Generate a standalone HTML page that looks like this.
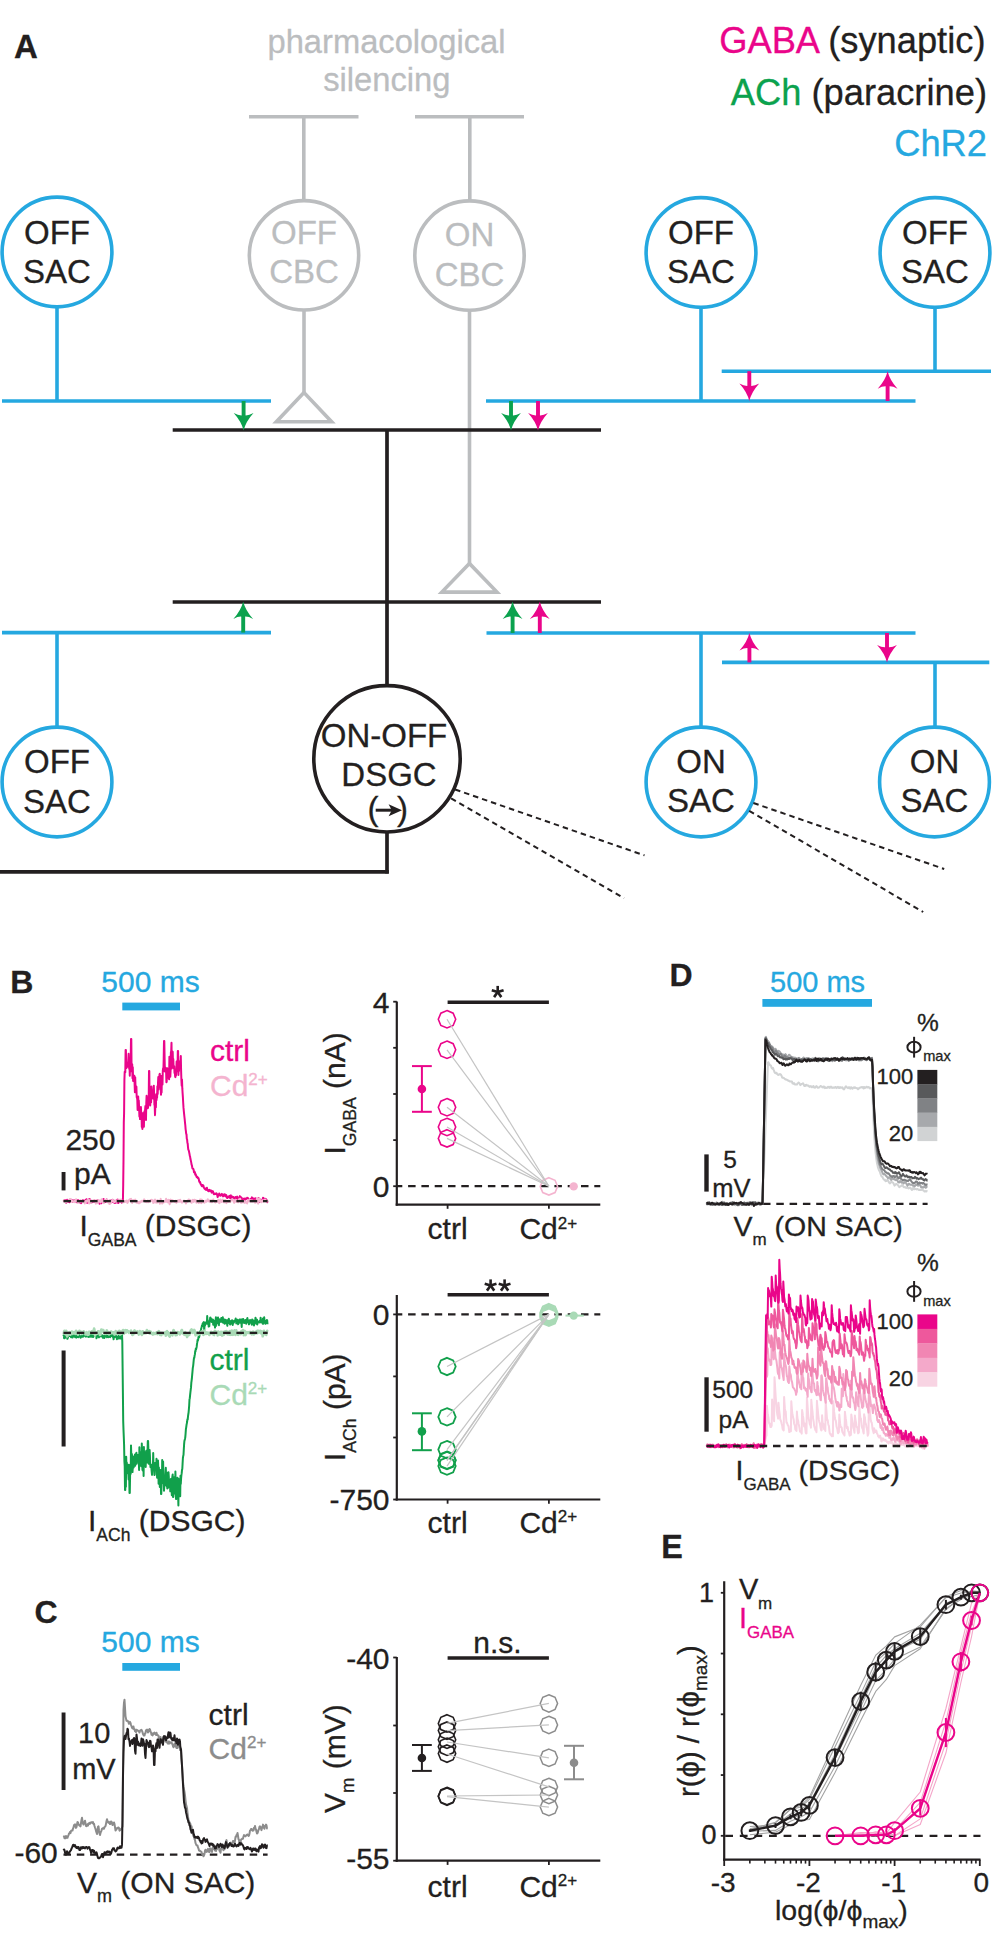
<!DOCTYPE html>
<html><head><meta charset="utf-8"><style>
html,body{margin:0;padding:0;background:#fff;}
svg{display:block;}
text{font-family:"Liberation Sans",sans-serif;}
</style></head><body>
<svg width="992" height="1944" viewBox="0 0 992 1944" font-family="Liberation Sans, sans-serif">
<rect width="992" height="1944" fill="#fff"/>
<text x="14" y="58" font-size="33" fill="#231f20" text-anchor="start" font-weight="bold"  stroke="#231f20" stroke-width="0.3">A</text>
<text x="386.5" y="53" font-size="32.7" fill="#bbbdbf" text-anchor="middle" font-weight="normal"  stroke="#bbbdbf" stroke-width="0.3">pharmacological</text>
<text x="386.8" y="91" font-size="32.7" fill="#bbbdbf" text-anchor="middle" font-weight="normal"  stroke="#bbbdbf" stroke-width="0.3">silencing</text>
<text x="985.5" y="52.5" font-size="36.3" text-anchor="end"><tspan fill="#ea058a" stroke="#ea058a" stroke-width="0.3">GABA</tspan><tspan fill="#231f20" stroke="#231f20" stroke-width="0.3"> (synaptic)</tspan></text>
<text x="987" y="104.5" font-size="36.3" text-anchor="end"><tspan fill="#0ba24e" stroke="#0ba24e" stroke-width="0.3">ACh</tspan><tspan fill="#231f20" stroke="#231f20" stroke-width="0.3"> (paracrine)</tspan></text>
<text x="987" y="155.5" font-size="36.3" fill="#25a8e0" text-anchor="end" font-weight="normal"  stroke="#25a8e0" stroke-width="0.3">ChR2</text>
<line x1="249" y1="116.8" x2="358.5" y2="116.8" stroke="#bbbdbf" stroke-width="3.6" />
<line x1="415" y1="116.8" x2="524" y2="116.8" stroke="#bbbdbf" stroke-width="3.6" />
<line x1="303.8" y1="116.8" x2="303.8" y2="200" stroke="#bbbdbf" stroke-width="3.6" />
<line x1="469.8" y1="116.8" x2="469.8" y2="200" stroke="#bbbdbf" stroke-width="3.6" />
<line x1="304" y1="311" x2="304" y2="393" stroke="#bbbdbf" stroke-width="3.6" />
<polygon points="304,392.6 276.4,421.7 331.6,421.7" fill="none" stroke="#bbbdbf" stroke-width="3.6" stroke-linejoin="miter"/>
<line x1="469.5" y1="311" x2="469.5" y2="564" stroke="#bbbdbf" stroke-width="3.6" />
<polygon points="469.4,563.4 441.8,592.1 497,592.1" fill="none" stroke="#bbbdbf" stroke-width="3.6" stroke-linejoin="miter"/>
<circle cx="304" cy="255.3" r="54.7" stroke="#bbbdbf" stroke-width="3.6" fill="#fff"/>
<text x="304" y="243.5" font-size="33" fill="#bbbdbf" text-anchor="middle" font-weight="normal"  stroke="#bbbdbf" stroke-width="0.3">OFF</text>
<text x="304" y="282.5" font-size="33" fill="#bbbdbf" text-anchor="middle" font-weight="normal"  stroke="#bbbdbf" stroke-width="0.3">CBC</text>
<circle cx="469.5" cy="255.6" r="54.7" stroke="#bbbdbf" stroke-width="3.6" fill="#fff"/>
<text x="469.5" y="246" font-size="33" fill="#bbbdbf" text-anchor="middle" font-weight="normal"  stroke="#bbbdbf" stroke-width="0.3">ON</text>
<text x="469.5" y="285.5" font-size="33" fill="#bbbdbf" text-anchor="middle" font-weight="normal"  stroke="#bbbdbf" stroke-width="0.3">CBC</text>
<line x1="57" y1="308" x2="57" y2="401" stroke="#25a8e0" stroke-width="3.6" />
<line x1="2" y1="401" x2="271" y2="401" stroke="#25a8e0" stroke-width="3.6" />
<line x1="701" y1="308" x2="701" y2="401" stroke="#25a8e0" stroke-width="3.6" />
<line x1="486" y1="401" x2="915.5" y2="401" stroke="#25a8e0" stroke-width="3.6" />
<line x1="935" y1="308" x2="935" y2="371.2" stroke="#25a8e0" stroke-width="3.6" />
<line x1="721.7" y1="371.2" x2="991" y2="371.2" stroke="#25a8e0" stroke-width="3.6" />
<circle cx="57" cy="252" r="54.9" stroke="#25a8e0" stroke-width="3.6" fill="#fff"/>
<text x="57" y="243.5" font-size="33" fill="#231f20" text-anchor="middle" font-weight="normal"  stroke="#231f20" stroke-width="0.3">OFF</text>
<text x="57" y="282.7" font-size="33" fill="#231f20" text-anchor="middle" font-weight="normal"  stroke="#231f20" stroke-width="0.3">SAC</text>
<circle cx="701" cy="252.5" r="54.9" stroke="#25a8e0" stroke-width="3.6" fill="#fff"/>
<text x="701" y="243.5" font-size="33" fill="#231f20" text-anchor="middle" font-weight="normal"  stroke="#231f20" stroke-width="0.3">OFF</text>
<text x="701" y="282.7" font-size="33" fill="#231f20" text-anchor="middle" font-weight="normal"  stroke="#231f20" stroke-width="0.3">SAC</text>
<circle cx="935" cy="252.5" r="54.9" stroke="#25a8e0" stroke-width="3.6" fill="#fff"/>
<text x="935" y="243.5" font-size="33" fill="#231f20" text-anchor="middle" font-weight="normal"  stroke="#231f20" stroke-width="0.3">OFF</text>
<text x="935" y="282.7" font-size="33" fill="#231f20" text-anchor="middle" font-weight="normal"  stroke="#231f20" stroke-width="0.3">SAC</text>
<line x1="172.7" y1="430" x2="601" y2="430" stroke="#231f20" stroke-width="3.7" />
<line x1="172.7" y1="602" x2="601" y2="602" stroke="#231f20" stroke-width="3.7" />
<line x1="387" y1="430" x2="387" y2="690" stroke="#231f20" stroke-width="3.7" />
<line x1="387" y1="830" x2="387" y2="873.5" stroke="#231f20" stroke-width="3.7" />
<line x1="0" y1="871.8" x2="388.8" y2="871.8" stroke="#231f20" stroke-width="3.7" />
<line x1="2" y1="632.6" x2="271" y2="632.6" stroke="#25a8e0" stroke-width="3.6" />
<line x1="57" y1="632.6" x2="57" y2="728" stroke="#25a8e0" stroke-width="3.6" />
<line x1="486.5" y1="633" x2="915.5" y2="633" stroke="#25a8e0" stroke-width="3.6" />
<line x1="701" y1="633" x2="701" y2="728" stroke="#25a8e0" stroke-width="3.6" />
<line x1="722" y1="662.4" x2="989.3" y2="662.4" stroke="#25a8e0" stroke-width="3.6" />
<line x1="935" y1="662.4" x2="935" y2="728" stroke="#25a8e0" stroke-width="3.6" />
<circle cx="57" cy="782" r="54.9" stroke="#25a8e0" stroke-width="3.6" fill="#fff"/>
<text x="57" y="773.3" font-size="33" fill="#231f20" text-anchor="middle" font-weight="normal"  stroke="#231f20" stroke-width="0.3">OFF</text>
<text x="57" y="812.8" font-size="33" fill="#231f20" text-anchor="middle" font-weight="normal"  stroke="#231f20" stroke-width="0.3">SAC</text>
<circle cx="701" cy="782" r="54.9" stroke="#25a8e0" stroke-width="3.6" fill="#fff"/>
<text x="701" y="773.3" font-size="33" fill="#231f20" text-anchor="middle" font-weight="normal"  stroke="#231f20" stroke-width="0.3">ON</text>
<text x="701" y="812" font-size="33" fill="#231f20" text-anchor="middle" font-weight="normal"  stroke="#231f20" stroke-width="0.3">SAC</text>
<circle cx="934.5" cy="782" r="54.9" stroke="#25a8e0" stroke-width="3.6" fill="#fff"/>
<text x="934.5" y="773.3" font-size="33" fill="#231f20" text-anchor="middle" font-weight="normal"  stroke="#231f20" stroke-width="0.3">ON</text>
<text x="934.5" y="812" font-size="33" fill="#231f20" text-anchor="middle" font-weight="normal"  stroke="#231f20" stroke-width="0.3">SAC</text>
<circle cx="387" cy="758.8" r="73.2" stroke="#231f20" stroke-width="3.6" fill="#fff"/>
<text x="384" y="746.6" font-size="33" fill="#231f20" text-anchor="middle" font-weight="normal"  stroke="#231f20" stroke-width="0.3">ON-OFF</text>
<text x="389" y="786" font-size="33" fill="#231f20" text-anchor="middle" font-weight="normal"  stroke="#231f20" stroke-width="0.3">DSGC</text>
<text x="367.6" y="820" font-size="33" fill="#231f20" text-anchor="start" font-weight="normal"  stroke="#231f20" stroke-width="0.3">(</text>
<text x="397" y="820" font-size="33" fill="#231f20" text-anchor="start" font-weight="normal"  stroke="#231f20" stroke-width="0.3">)</text>
<path d="M375.7,810.2 L392,810.2" stroke="#231f20" stroke-width="3"/>
<path d="M402,810.2 L388.6,804.3 L391.8,810.2 L388.6,816.3 Z" fill="#231f20"/>
<line x1="243.6" y1="401" x2="243.6" y2="422.5" stroke="#0ba24e" stroke-width="3.9" />
<path d="M243.6,430.5 Q241.4,421.5 233.7,413 Q239.6,416.3 243.6,415.1 Q247.6,416.3 253.5,413 Q245.8,421.5 243.6,430.5 Z" fill="#0ba24e"/>
<line x1="511" y1="401" x2="511" y2="422.5" stroke="#0ba24e" stroke-width="3.9" />
<path d="M511,430.5 Q508.8,421.5 501.1,413 Q507,416.3 511,415.1 Q515,416.3 520.9,413 Q513.2,421.5 511,430.5 Z" fill="#0ba24e"/>
<line x1="538" y1="401" x2="538" y2="422.5" stroke="#ea058a" stroke-width="3.9" />
<path d="M538,430.5 Q535.8,421.5 528.1,413 Q534,416.3 538,415.1 Q542,416.3 547.9,413 Q540.2,421.5 538,430.5 Z" fill="#ea058a"/>
<line x1="243.2" y1="632.6" x2="243.2" y2="609.5" stroke="#0ba24e" stroke-width="3.9" />
<path d="M243.2,601.5 Q241,610.5 233.3,619 Q239.2,615.7 243.2,616.9 Q247.2,615.7 253.1,619 Q245.4,610.5 243.2,601.5 Z" fill="#0ba24e"/>
<line x1="512.6" y1="633" x2="512.6" y2="609.5" stroke="#0ba24e" stroke-width="3.9" />
<path d="M512.6,601.5 Q510.4,610.5 502.7,619 Q508.6,615.7 512.6,616.9 Q516.6,615.7 522.5,619 Q514.8,610.5 512.6,601.5 Z" fill="#0ba24e"/>
<line x1="539.8" y1="633" x2="539.8" y2="609.5" stroke="#ea058a" stroke-width="3.9" />
<path d="M539.8,601.5 Q537.6,610.5 529.9,619 Q535.8,615.7 539.8,616.9 Q543.8,615.7 549.7,619 Q542,610.5 539.8,601.5 Z" fill="#ea058a"/>
<line x1="749.3" y1="371.2" x2="749.3" y2="393" stroke="#ea058a" stroke-width="3.9" />
<path d="M749.3,401 Q747.1,392 739.4,383.5 Q745.3,386.8 749.3,385.6 Q753.3,386.8 759.2,383.5 Q751.5,392 749.3,401 Z" fill="#ea058a"/>
<line x1="887.6" y1="401" x2="887.6" y2="379.2" stroke="#ea058a" stroke-width="3.9" />
<path d="M887.6,371.2 Q885.4,380.2 877.7,388.7 Q883.6,385.4 887.6,386.6 Q891.6,385.4 897.5,388.7 Q889.8,380.2 887.6,371.2 Z" fill="#ea058a"/>
<line x1="749.4" y1="662.4" x2="749.4" y2="641" stroke="#ea058a" stroke-width="3.9" />
<path d="M749.4,633 Q747.2,642 739.5,650.5 Q745.4,647.2 749.4,648.4 Q753.4,647.2 759.3,650.5 Q751.6,642 749.4,633 Z" fill="#ea058a"/>
<line x1="887" y1="633" x2="887" y2="654.4" stroke="#ea058a" stroke-width="3.9" />
<path d="M887,662.4 Q884.8,653.4 877.1,644.9 Q883,648.2 887,647 Q891,648.2 896.9,644.9 Q889.2,653.4 887,662.4 Z" fill="#ea058a"/>
<line x1="455.1" y1="789.5" x2="644.5" y2="855.4" stroke="#231f20" stroke-width="2" stroke-dasharray="5.5 4" stroke-dashoffset="0"/>
<line x1="451.1" y1="798.4" x2="624.1" y2="898.2" stroke="#231f20" stroke-width="2" stroke-dasharray="5.5 4" stroke-dashoffset="0"/>
<line x1="753.4" y1="803" x2="944.2" y2="869" stroke="#231f20" stroke-width="2" stroke-dasharray="5.5 4" stroke-dashoffset="0"/>
<line x1="749.2" y1="810.8" x2="923.2" y2="912" stroke="#231f20" stroke-width="2" stroke-dasharray="5.5 4" stroke-dashoffset="0"/>
<text x="10.2" y="993.3" font-size="32" fill="#231f20" text-anchor="start" font-weight="bold"  stroke="#231f20" stroke-width="0.3">B</text>
<text x="101.3" y="992" font-size="30" fill="#25a8e0" text-anchor="start" font-weight="normal"  stroke="#25a8e0" stroke-width="0.3">500 ms</text>
<rect x="122.3" y="1002.6" width="57.7" height="7.8" fill="#25a8e0"/>
<polyline points="63.5,1201.51 63.8,1201.27 64.1,1200.53 64.4,1201.34 64.7,1201.05 65,1200.04 65.3,1200.37 65.6,1201.48 65.9,1202.12 66.2,1202.8 66.5,1200.88 66.8,1202.03 67.1,1199.71 67.4,1201.93 67.7,1200.22 68,1202.04 68.3,1200.79 68.6,1200.66 68.9,1200.74 69.2,1201.32 69.5,1202.33 69.8,1200.82 70.1,1200.79 70.4,1199.89 70.7,1200.84 71,1199.88 71.3,1200.28 71.6,1199.8 71.9,1200.84 72.2,1200.27 72.5,1201.46 72.8,1201.88 73.1,1201.91 73.4,1200.98 73.7,1200.75 74,1200.17 74.3,1201.18 74.6,1201.57 74.9,1201.66 75.2,1201.9 75.5,1200.43 75.8,1200 76.1,1200.93 76.4,1200.7 76.7,1202.27 77,1202.16 77.3,1201.58 77.6,1200.08 77.9,1200.67 78.2,1201.08 78.5,1200.41 78.8,1201.61 79.1,1201.45 79.4,1201.31 79.7,1201.68 80,1202.56 80.3,1202.04 80.6,1202.55 80.9,1202.93 81.2,1203.2 81.5,1201.85 81.8,1201.42 82.1,1201.18 82.4,1200.99 82.7,1200.17 83,1200.38 83.3,1201.4 83.6,1201.74 83.9,1200.77 84.2,1200.5 84.5,1201.2 84.8,1202.29 85.1,1201.13 85.4,1201.53 85.7,1200.54 86,1199.55 86.3,1199.4 86.6,1199.29 86.9,1200.49 87.2,1202.76 87.5,1202.54 87.8,1202.67 88.1,1201.21 88.4,1201.71 88.7,1200.58 89,1198.89 89.3,1199.11 89.6,1199.84 89.9,1200.59 90.2,1199.57 90.5,1202.04 90.8,1201.3 91.1,1201.8 91.4,1202.01 91.7,1202.41 92,1201.23 92.3,1201.87 92.6,1201.12 92.9,1201.21 93.2,1201.86 93.5,1201.13 93.8,1201.77 94.1,1201.58 94.4,1201.2 94.7,1200.37 95,1201.33 95.3,1201.24 95.6,1202.46 95.9,1201.59 96.2,1201.43 96.5,1201.62 96.8,1202.66 97.1,1201.51 97.4,1201.64 97.7,1200.25 98,1200.87 98.3,1201.71 98.6,1201.76 98.9,1201.87 99.2,1201.66 99.5,1203.69 99.8,1203.66 100.1,1202.1 100.4,1201.3 100.7,1202.99 101,1202.33 101.3,1203.28 101.6,1201.46 101.9,1201.68 102.2,1202.18 102.5,1201.12 102.8,1200.86 103.1,1201.39 103.4,1199 103.7,1199.17 104,1199.85 104.3,1201.48 104.6,1202.2 104.9,1201.84 105.2,1202.01 105.5,1201.78 105.8,1201.4 106.1,1200.5 106.4,1201.02 106.7,1199.6 107,1200.69 107.3,1201.67 107.6,1201.45 107.9,1201.02 108.2,1201.05 108.5,1201.67 108.8,1201.16 109.1,1201.39 109.4,1201.72 109.7,1201.46 110,1200.44 110.3,1200.67 110.6,1201.2 110.9,1200.68 111.2,1201.53 111.5,1202.28 111.8,1201.68 112.1,1200.3 112.4,1199.78 112.7,1200.55 113,1201.92 113.3,1201.04 113.6,1200.46 113.9,1201.38 114.2,1202.34 114.5,1202.91 114.8,1202.58 115.1,1202.92 115.4,1202.85 115.7,1201.27 116,1201.39 116.3,1200.71 116.6,1200.39 116.9,1200.74 117.2,1202.56 117.5,1199.66 117.8,1199.46 118.1,1200.75 118.4,1203.1 118.7,1201.43 119,1201.28 119.3,1200.41 119.6,1200.81 119.9,1201.28 120.2,1201.47 120.5,1200.46 120.8,1200.75 121.1,1201.51 121.4,1201.9 121.7,1202.69 122,1202.15 122.3,1200.67 122.6,1201.68 122.9,1201.78 123.2,1184.82 123.5,1159.9 123.8,1122.65 124.1,1112.95 124.4,1080.37 124.7,1071.87 125,1072.29 125.3,1072.28 125.6,1050 125.9,1050 126.2,1064.31 126.5,1068 126.8,1066.58 127.1,1066.61 127.4,1063.38 127.7,1066.74 128,1064.49 128.3,1060.78 128.6,1053.79 128.9,1061.9 129.2,1068.88 129.5,1066.17 129.8,1075.77 130.1,1063.37 130.4,1058.44 130.7,1060.76 131,1039 131.3,1039 131.6,1071.25 131.9,1065.21 132.2,1064.2 132.5,1078.3 132.8,1067.37 133.1,1080.95 133.4,1079.99 133.7,1080.94 134,1076.93 134.3,1075.74 134.6,1083.56 134.9,1092.33 135.2,1077.27 135.5,1086.09 135.8,1085.73 136.1,1088.89 136.4,1086.63 136.7,1097.22 137,1097.55 137.3,1099.87 137.6,1109.95 137.9,1103.51 138.2,1096.54 138.5,1106.47 138.8,1100.61 139.1,1107.82 139.4,1116.54 139.7,1111.24 140,1119.1 140.3,1118.96 140.6,1110.59 140.9,1106.91 141.2,1114.85 141.5,1112.44 141.8,1127 142.1,1125.4 142.4,1128.96 142.7,1124.62 143,1113.36 143.3,1121.77 143.6,1123.61 143.9,1126.85 144.2,1112.89 144.5,1111.27 144.8,1114.5 145.1,1109.8 145.4,1106.03 145.7,1106.75 146,1119.97 146.3,1102.73 146.6,1095.87 146.9,1098.54 147.2,1102.88 147.5,1102.54 147.8,1108.35 148.1,1107.07 148.4,1098.33 148.7,1100.4 149,1071 149.3,1071 149.6,1103.85 149.9,1090.06 150.2,1105.38 150.5,1100.81 150.8,1099.93 151.1,1102.2 151.4,1086.6 151.7,1091.4 152,1091.64 152.3,1091.44 152.6,1092.98 152.9,1098.51 153.2,1093.93 153.5,1092 153.8,1085.64 154.1,1094.12 154.4,1104.76 154.7,1105.74 155,1115.15 155.3,1107.12 155.6,1101.99 155.9,1107.2 156.2,1094.28 156.5,1100.14 156.8,1097.92 157.1,1097.46 157.4,1086.23 157.7,1093.88 158,1083.15 158.3,1077.01 158.6,1089.45 158.9,1081.4 159.2,1080.01 159.5,1074.37 159.8,1073.82 160.1,1080.54 160.4,1079.28 160.7,1088.03 161,1094.79 161.3,1076.1 161.6,1092.41 161.9,1078.09 162.2,1079.72 162.5,1084.53 162.8,1070.52 163.1,1068.27 163.4,1070.92 163.7,1058.83 164,1041 164.3,1041 164.6,1057.97 164.9,1071.57 165.2,1068.1 165.5,1067.53 165.8,1069.11 166.1,1071.09 166.4,1082.33 166.7,1081.36 167,1073.46 167.3,1068.2 167.6,1073.64 167.9,1075.12 168.2,1075.51 168.5,1077.79 168.8,1077.81 169.1,1079.16 169.4,1056.64 169.7,1073.15 170,1071.55 170.3,1076.75 170.6,1070.38 170.9,1052 171.2,1052 171.5,1042.84 171.8,1068.45 172.1,1060.4 172.4,1056.15 172.7,1051.67 173,1062.83 173.3,1059.11 173.6,1067.18 173.9,1068.53 174.2,1066.3 174.5,1072.99 174.8,1070.9 175.1,1076.22 175.4,1077.15 175.7,1072.81 176,1075.38 176.3,1070.22 176.6,1061.49 176.9,1065.89 177.2,1070.45 177.5,1071.22 177.8,1051 178.1,1051 178.4,1075.08 178.7,1068 179,1071.2 179.3,1061.4 179.6,1062.6 179.9,1068.03 180.2,1067.59 180.5,1063.95 180.8,1056.06 181.1,1070.49 181.4,1080.27 181.7,1085.63 182,1079.53 182.3,1088.17 182.6,1093.07 182.9,1097.36 183.2,1103 183.5,1107.64 183.8,1110.8 184.1,1113.81 184.4,1116.77 184.7,1119.48 185,1122.59 185.3,1125.26 185.6,1129.05 185.9,1131.13 186.2,1133.96 186.5,1134.42 186.8,1138.87 187.1,1139.39 187.4,1142.77 187.7,1143.56 188,1147.24 188.3,1149.75 188.6,1149.98 188.9,1150.95 189.2,1152.48 189.5,1154.03 189.8,1155.89 190.1,1156.63 190.4,1158.91 190.7,1159.9 191,1161.34 191.3,1162.84 191.6,1164.72 191.9,1165.28 192.2,1167.2 192.5,1168.57 192.8,1168.41 193.1,1168.74 193.4,1169.1 193.7,1170.27 194,1172.28 194.3,1171.4 194.6,1171.82 194.9,1172.19 195.2,1174.61 195.5,1174.03 195.8,1174.35 196.1,1175.82 196.4,1176.14 196.7,1177.1 197,1176.62 197.3,1176.7 197.6,1177.4 197.9,1178.29 198.2,1177.77 198.5,1178.45 198.8,1179.13 199.1,1181.22 199.4,1181.39 199.7,1182.52 200,1181.85 200.3,1182.76 200.6,1183.93 200.9,1184.19 201.2,1184.98 201.5,1185.31 201.8,1185.96 202.1,1186.28 202.4,1184.92 202.7,1185.53 203,1186.2 203.3,1185.37 203.6,1186.53 203.9,1187.73 204.2,1187.95 204.5,1188.67 204.8,1188.24 205.1,1189.3 205.4,1188.43 205.7,1189.47 206,1189.88 206.3,1189.25 206.6,1189.01 206.9,1187.71 207.2,1188.91 207.5,1190.02 207.8,1190.58 208.1,1190.18 208.4,1191.21 208.7,1190.4 209,1190.29 209.3,1189.82 209.6,1190.45 209.9,1190.71 210.2,1191.26 210.5,1190.63 210.8,1190.37 211.1,1191.22 211.4,1190.7 211.7,1192.62 212,1192.04 212.3,1192.53 212.6,1191.23 212.9,1191.29 213.2,1192.27 213.5,1192.66 213.8,1194.08 214.1,1194.22 214.4,1194.13 214.7,1193.92 215,1193.68 215.3,1193.8 215.6,1193.94 215.9,1193.9 216.2,1193.33 216.5,1193.32 216.8,1193.64 217.1,1194.57 217.4,1195.95 217.7,1197.14 218,1195.78 218.3,1195.61 218.6,1194.73 218.9,1194.5 219.2,1193.4 219.5,1194.65 219.8,1195.35 220.1,1194.95 220.4,1195.74 220.7,1195.57 221,1194.58 221.3,1195.31 221.6,1194.26 221.9,1193.92 222.2,1195.29 222.5,1195.54 222.8,1195.48 223.1,1196.41 223.4,1194.63 223.7,1195.45 224,1194.97 224.3,1195.46 224.6,1194.15 224.9,1194.31 225.2,1196.14 225.5,1195.98 225.8,1194.95 226.1,1194.93 226.4,1195.29 226.7,1197.4 227,1197.26 227.3,1198.06 227.6,1197.31 227.9,1196.68 228.2,1196.84 228.5,1197.31 228.8,1196.49 229.1,1196.77 229.4,1195.9 229.7,1197.02 230,1198.06 230.3,1196.67 230.6,1195.95 230.9,1195.29 231.2,1199.05 231.5,1199.12 231.8,1198.13 232.1,1196.75 232.4,1196.61 232.7,1197.36 233,1198.29 233.3,1197.25 233.6,1197.01 233.9,1197.57 234.2,1197.81 234.5,1198.37 234.8,1198.7 235.1,1198.27 235.4,1198.77 235.7,1197 236,1198.48 236.3,1197.84 236.6,1198.26 236.9,1197.37 237.2,1196.64 237.5,1196.98 237.8,1199 238.1,1198.94 238.4,1199.79 238.7,1199.21 239,1199.04 239.3,1198.5 239.6,1198.15 239.9,1196.13 240.2,1196.81 240.5,1197.37 240.8,1198.18 241.1,1198.17 241.4,1197.47 241.7,1197.89 242,1199.52 242.3,1199.73 242.6,1200.34 242.9,1199.9 243.2,1199.31 243.5,1199.65 243.8,1199.58 244.1,1198.46 244.4,1198.9 244.7,1198.82 245,1199.76 245.3,1198.44 245.6,1199.01 245.9,1198.73 246.2,1198.62 246.5,1199 246.8,1198.82 247.1,1197.82 247.4,1198.99 247.7,1198.68 248,1198.11 248.3,1199.11 248.6,1200.63 248.9,1199.93 249.2,1199.49 249.5,1200.05 249.8,1199.97 250.1,1199.63 250.4,1199.15 250.7,1199.39 251,1200.32 251.3,1199.57 251.6,1198.11 251.9,1197.39 252.2,1198.64 252.5,1197.82 252.8,1199.33 253.1,1198.66 253.4,1200.11 253.7,1199.85 254,1198.4 254.3,1198.82 254.6,1199.45 254.9,1199.01 255.2,1199.27 255.5,1198.35 255.8,1198.4 256.1,1200.27 256.4,1200.51 256.7,1199.13 257,1199.86 257.3,1199.49 257.6,1200.51 257.9,1201.1 258.2,1199.16 258.5,1197.92 258.8,1199.16 259.1,1199.12 259.4,1201.91 259.7,1201.8 260,1200.71 260.3,1200.59 260.6,1199.82 260.9,1199.57 261.2,1200.93 261.5,1200.45 261.8,1200.61 262.1,1201.05 262.4,1200.23 262.7,1200.94 263,1197.76 263.3,1198.01 263.6,1198.14 263.9,1198.44 264.2,1198.95 264.5,1199.48 264.8,1200.39 265.1,1199.98 265.4,1199.2 265.7,1198.73 266,1199.62 266.3,1199.44 266.6,1200 266.9,1200.97 267.2,1202.29 267.5,1200.57" fill="none" stroke="#ea058a" stroke-width="2" stroke-linejoin="round" />
<polyline points="63.5,1201.45 63.8,1200.38 64.1,1201.04 64.4,1201.19 64.7,1201.97 65,1200.49 65.3,1201.48 65.6,1200.97 65.9,1202.51 66.2,1201.47 66.5,1201.3 66.8,1201.17 67.1,1201.75 67.4,1201.86 67.7,1201.49 68,1201.4 68.3,1200.99 68.6,1200.16 68.9,1199.98 69.2,1200.11 69.5,1199.86 69.8,1199.12 70.1,1199.24 70.4,1199.69 70.7,1199.27 71,1199.58 71.3,1200.86 71.6,1201.63 71.9,1201.15 72.2,1200.84 72.5,1201.42 72.8,1201.69 73.1,1201.79 73.4,1201.99 73.7,1202.04 74,1201.21 74.3,1200.79 74.6,1201.07 74.9,1202.23 75.2,1201.24 75.5,1200.68 75.8,1199.5 76.1,1199.23 76.4,1199.71 76.7,1200.54 77,1201.15 77.3,1201.92 77.6,1202.1 77.9,1202.93 78.2,1202.33 78.5,1202.41 78.8,1201.22 79.1,1201.35 79.4,1201.13 79.7,1200.86 80,1200.7 80.3,1200.18 80.6,1201.74 80.9,1201.26 81.2,1201.4 81.5,1201.13 81.8,1200.86 82.1,1201.24 82.4,1200.97 82.7,1201.8 83,1201.12 83.3,1201.85 83.6,1201.91 83.9,1202.12 84.2,1201.85 84.5,1202.25 84.8,1203.45 85.1,1202.1 85.4,1201.87 85.7,1201.06 86,1201.97 86.3,1200.81 86.6,1201.3 86.9,1200.58 87.2,1201.54 87.5,1201.57 87.8,1201.36 88.1,1200.83 88.4,1199.24 88.7,1200.36 89,1201.47 89.3,1203.51 89.6,1202.27 89.9,1201 90.2,1200.19 90.5,1202.24 90.8,1202.85 91.1,1201.97 91.4,1201.18 91.7,1200.92 92,1201.25 92.3,1200.62 92.6,1200.86 92.9,1201.18 93.2,1201.57 93.5,1201.2 93.8,1200.22 94.1,1199.98 94.4,1200.86 94.7,1201.52 95,1200.94 95.3,1201.02 95.6,1201.46 95.9,1203.63 96.2,1202.85 96.5,1202.24 96.8,1200.07 97.1,1200.84 97.4,1202.69 97.7,1203.08 98,1201.87 98.3,1200.67 98.6,1200.66 98.9,1200.89 99.2,1200.31 99.5,1200.94 99.8,1201.77 100.1,1202 100.4,1202.44 100.7,1201.52 101,1201.7 101.3,1199.84 101.6,1199.21 101.9,1199.49 102.2,1200.44 102.5,1201.68 102.8,1201.52 103.1,1202.69 103.4,1202.83 103.7,1203.12 104,1202.25 104.3,1201.33 104.6,1200.26 104.9,1200.03 105.2,1199.77 105.5,1199.88 105.8,1200.12 106.1,1200.96 106.4,1201.09 106.7,1199.97 107,1199.77 107.3,1200.12 107.6,1201.96 107.9,1202.35 108.2,1201.82 108.5,1200.72 108.8,1201.59 109.1,1202.45 109.4,1204.01 109.7,1204.08 110,1203.12 110.3,1202.24 110.6,1201.22 110.9,1202.06 111.2,1202.15 111.5,1202 111.8,1201.76 112.1,1200.51 112.4,1200.29 112.7,1199.72 113,1200.72 113.3,1200.53 113.6,1201.37 113.9,1201.79 114.2,1202.27 114.5,1202.08 114.8,1201.64 115.1,1201.18 115.4,1200.88 115.7,1200.52 116,1201.03 116.3,1201.14 116.6,1201.8 116.9,1200.75 117.2,1201.29 117.5,1200.47 117.8,1200.83 118.1,1200.17 118.4,1200.29 118.7,1200.91 119,1200.68 119.3,1200.37 119.6,1199.68 119.9,1200.83 120.2,1201.51 120.5,1201.32 120.8,1200.52 121.1,1199.54 121.4,1201.35 121.7,1200.41 122,1201.65 122.3,1200.89 122.6,1200.94 122.9,1200.83 123.2,1201.11 123.5,1202.28 123.8,1202.25 124.1,1202.22 124.4,1202.04 124.7,1202.08 125,1201.43 125.3,1201.71 125.6,1200.93 125.9,1201.49 126.2,1200.8 126.5,1200.71 126.8,1200.45 127.1,1201.79 127.4,1203.04 127.7,1202.51 128,1201.9 128.3,1201.03 128.6,1201.27 128.9,1200.9 129.2,1199.76 129.5,1199.96 129.8,1199.27 130.1,1200.26 130.4,1199.25 130.7,1198.95 131,1198.8 131.3,1200.2 131.6,1202.15 131.9,1202.71 132.2,1202.87 132.5,1201.69 132.8,1200.54 133.1,1199.96 133.4,1200.4 133.7,1201.3 134,1201.39 134.3,1201.47 134.6,1201.21 134.9,1200.12 135.2,1199.64 135.5,1200.03 135.8,1200.72 136.1,1201.46 136.4,1202.64 136.7,1202.6 137,1202.43 137.3,1201.95 137.6,1202.64 137.9,1202.85 138.2,1202.04 138.5,1202.05 138.8,1202.65 139.1,1203.38 139.4,1202.55 139.7,1201.68 140,1201.96 140.3,1202.57 140.6,1201.85 140.9,1202.02 141.2,1201.04 141.5,1201.69 141.8,1200.73 142.1,1200.77 142.4,1201.21 142.7,1201.43 143,1201.44 143.3,1201.07 143.6,1200.59 143.9,1200.14 144.2,1199.35 144.5,1199.78 144.8,1201.33 145.1,1201.85 145.4,1201.72 145.7,1201.62 146,1201.39 146.3,1202.08 146.6,1201.88 146.9,1202.19 147.2,1201.8 147.5,1201.06 147.8,1200.45 148.1,1201.05 148.4,1201.91 148.7,1202.17 149,1201.44 149.3,1200.94 149.6,1201.28 149.9,1200.67 150.2,1201.13 150.5,1200 150.8,1201.22 151.1,1200.74 151.4,1200.73 151.7,1199.78 152,1199.87 152.3,1200.93 152.6,1200.37 152.9,1200.84 153.2,1202.96 153.5,1202.87 153.8,1202.84 154.1,1200.44 154.4,1201.33 154.7,1200.02 155,1199.51 155.3,1199.67 155.6,1200.75 155.9,1202.46 156.2,1201.74 156.5,1201.87 156.8,1202.66 157.1,1202.62 157.4,1201.96 157.7,1200.16 158,1200.6 158.3,1201.67 158.6,1201.77 158.9,1201.33 159.2,1200.95 159.5,1202.48 159.8,1203.72 160.1,1201.89 160.4,1200.19 160.7,1198.88 161,1200.96 161.3,1200.94 161.6,1202.65 161.9,1202.84 162.2,1203.49 162.5,1202.43 162.8,1201.83 163.1,1201.5 163.4,1202.17 163.7,1202.53 164,1202.1 164.3,1202.09 164.6,1201.88 164.9,1202.05 165.2,1200.79 165.5,1200.32 165.8,1199.98 166.1,1198.76 166.4,1199.73 166.7,1200.46 167,1202.04 167.3,1202.05 167.6,1201.98 167.9,1202.33 168.2,1200.18 168.5,1199.77 168.8,1199.87 169.1,1202.37 169.4,1203.63 169.7,1204.18 170,1202.49 170.3,1200.02 170.6,1199.5 170.9,1200.22 171.2,1202.15 171.5,1201.73 171.8,1201.85 172.1,1200.34 172.4,1200.69 172.7,1200.29 173,1201.42 173.3,1201.42 173.6,1201.62 173.9,1201.6 174.2,1201.31 174.5,1201.85 174.8,1201.96 175.1,1201.64 175.4,1200.81 175.7,1201.57 176,1201.84 176.3,1202.81 176.6,1201.98 176.9,1201.7 177.2,1200.64 177.5,1200.47 177.8,1200.97 178.1,1201.81 178.4,1200.96 178.7,1200.44 179,1200.01 179.3,1201.76 179.6,1200.68 179.9,1201 180.2,1199.7 180.5,1201.4 180.8,1200.83 181.1,1201.39 181.4,1202.08 181.7,1202.59 182,1202.64 182.3,1201.91 182.6,1201.23 182.9,1201.3 183.2,1200.95 183.5,1200.91 183.8,1200.55 184.1,1200.54 184.4,1201.5 184.7,1201.5 185,1201.31 185.3,1201.74 185.6,1202.37 185.9,1203.47 186.2,1202.95 186.5,1202.28 186.8,1201.25 187.1,1200.71 187.4,1201.35 187.7,1201.68 188,1200.94 188.3,1200.34 188.6,1199.41 188.9,1200.41 189.2,1199.7 189.5,1199.79 189.8,1199.77 190.1,1200.45 190.4,1200.21 190.7,1200.59 191,1201.96 191.3,1202.07 191.6,1202.73 191.9,1200.99 192.2,1201.59 192.5,1200.37 192.8,1199.91 193.1,1201 193.4,1201.41 193.7,1201.84 194,1200.87 194.3,1199.65 194.6,1199.89 194.9,1200.63 195.2,1200.51 195.5,1200.46 195.8,1199.98 196.1,1201.66 196.4,1202.75 196.7,1202.38 197,1201.29 197.3,1200.74 197.6,1200.8 197.9,1201.06 198.2,1201.45 198.5,1202.7 198.8,1203.05 199.1,1202.28 199.4,1201.59 199.7,1200.28 200,1200.39 200.3,1199.39 200.6,1202 200.9,1202.45 201.2,1203.19 201.5,1201.61 201.8,1199.63 202.1,1199.98 202.4,1201.09 202.7,1202.19 203,1202.17 203.3,1201.61 203.6,1201.11 203.9,1201.27 204.2,1201.65 204.5,1202.74 204.8,1202.13 205.1,1201.78 205.4,1200.7 205.7,1200.8 206,1200.96 206.3,1201.14 206.6,1201.69 206.9,1200.79 207.2,1200.28 207.5,1199.61 207.8,1199.27 208.1,1200.74 208.4,1200.09 208.7,1201.32 209,1200.67 209.3,1201.61 209.6,1200.6 209.9,1200.86 210.2,1201.37 210.5,1201.86 210.8,1201.82 211.1,1200.33 211.4,1200.9 211.7,1201.59 212,1202.16 212.3,1201.6 212.6,1200.52 212.9,1200.1 213.2,1199.45 213.5,1200.29 213.8,1201.09 214.1,1201.14 214.4,1201.38 214.7,1201.67 215,1202.24 215.3,1202.42 215.6,1201.76 215.9,1201.59 216.2,1201.24 216.5,1201.4 216.8,1201.95 217.1,1200.9 217.4,1201.79 217.7,1200.83 218,1201.49 218.3,1199.78 218.6,1200.62 218.9,1201.5 219.2,1203 219.5,1203.14 219.8,1201.41 220.1,1200.28 220.4,1199.49 220.7,1199.87 221,1201.03 221.3,1201.43 221.6,1201.98 221.9,1201.6 222.2,1200.9 222.5,1200.36 222.8,1199.53 223.1,1200.41 223.4,1201.17 223.7,1202.07 224,1202.42 224.3,1201.38 224.6,1200.69 224.9,1200.12 225.2,1200.12 225.5,1200.14 225.8,1200.67 226.1,1202.17 226.4,1203.15 226.7,1202.56 227,1201.75 227.3,1201.76 227.6,1201.5 227.9,1201.84 228.2,1201.99 228.5,1201.99 228.8,1201.41 229.1,1200.6 229.4,1201.19 229.7,1201.85 230,1201.96 230.3,1201.93 230.6,1200.66 230.9,1200.04 231.2,1199.8 231.5,1200.21 231.8,1199.91 232.1,1199.08 232.4,1199.08 232.7,1199.79 233,1199.91 233.3,1200.61 233.6,1201.75 233.9,1202.29 234.2,1202.92 234.5,1202.06 234.8,1201.47 235.1,1200.54 235.4,1199.76 235.7,1200.91 236,1200.37 236.3,1201.77 236.6,1201.66 236.9,1201.13 237.2,1200.8 237.5,1201.39 237.8,1202.14 238.1,1202.27 238.4,1200.22 238.7,1200.86 239,1199.24 239.3,1200.63 239.6,1199.39 239.9,1198.79 240.2,1198.74 240.5,1201.23 240.8,1202.48 241.1,1202.74 241.4,1201.41 241.7,1201.58 242,1201.45 242.3,1202.38 242.6,1201.82 242.9,1201.79 243.2,1201 243.5,1200.89 243.8,1201.53 244.1,1202.51 244.4,1202.79 244.7,1202.87 245,1201.71 245.3,1202.2 245.6,1202.05 245.9,1202.16 246.2,1202.45 246.5,1202.46 246.8,1203.11 247.1,1203.46 247.4,1201.68 247.7,1199.93 248,1200.07 248.3,1200.36 248.6,1201.41 248.9,1200.07 249.2,1200.52 249.5,1199.65 249.8,1201.3 250.1,1200.79 250.4,1201.5 250.7,1200.39 251,1201.75 251.3,1200.95 251.6,1201.05 251.9,1200.18 252.2,1201.38 252.5,1201.68 252.8,1201.53 253.1,1201.35 253.4,1200.83 253.7,1201.4 254,1201.19 254.3,1201.02 254.6,1200.72 254.9,1201 255.2,1202.79 255.5,1202.51 255.8,1202.47 256.1,1201.98 256.4,1201.01 256.7,1199.76 257,1198.14 257.3,1199.34 257.6,1201.89 257.9,1202.86 258.2,1203.67 258.5,1202.04 258.8,1200.3 259.1,1198.15 259.4,1198.9 259.7,1200.52 260,1201.14 260.3,1201.2 260.6,1200.15 260.9,1201.64 261.2,1201.84 261.5,1202.31 261.8,1200.94 262.1,1200.57 262.4,1200.37 262.7,1201.57 263,1200.33 263.3,1201.49 263.6,1201.02 263.9,1201.49 264.2,1200.45 264.5,1200.53 264.8,1199.64 265.1,1200.02 265.4,1199.63 265.7,1201.2 266,1200.61 266.3,1201.89 266.6,1201.29 266.9,1201.36 267.2,1201.16 267.5,1202.37" fill="none" stroke="#f4b4cf" stroke-width="2" stroke-linejoin="round" />
<line x1="63.5" y1="1201.2" x2="267.6" y2="1201.2" stroke="#231f20" stroke-width="2.2" stroke-dasharray="7.5 5.8" stroke-dashoffset="0"/>
<text x="210" y="1061" font-size="30" fill="#ea058a" text-anchor="start" font-weight="normal"  stroke="#ea058a" stroke-width="0.3">ctrl</text>
<text x="210" y="1096" font-size="30" fill="#f4b4cf" stroke="#f4b4cf" stroke-width="0.3">Cd<tspan font-size="17" dy="-10.8">2+</tspan></text>
<text x="115.5" y="1149.5" font-size="30" fill="#231f20" text-anchor="end" font-weight="normal"  stroke="#231f20" stroke-width="0.3">250</text>
<text x="74" y="1183.5" font-size="30" fill="#231f20" text-anchor="start" font-weight="normal"  stroke="#231f20" stroke-width="0.3">pA</text>
<rect x="61.6" y="1172" width="3.9" height="18.4" fill="#231f20"/>
<text x="79.5" y="1235.5" font-size="30" fill="#231f20" text-anchor="start" stroke="#231f20" stroke-width="0.3">I<tspan font-size="17.5" dy="10" fill="#231f20" stroke="#231f20" stroke-width="0.3">GABA</tspan><tspan dy="-10"> (DSGC)</tspan></text>
<polyline points="63.5,1336.12 63.8,1334.92 64.1,1338.19 64.4,1337.85 64.7,1338.12 65,1337.4 65.3,1337.66 65.6,1335.63 65.9,1334.44 66.2,1335.33 66.5,1335.5 66.8,1336.16 67.1,1336.76 67.4,1338.79 67.7,1338.04 68,1337.26 68.3,1335.8 68.6,1334.34 68.9,1336.04 69.2,1335.38 69.5,1336.03 69.8,1334.35 70.1,1335.46 70.4,1335.6 70.7,1336.42 71,1337.26 71.3,1336.23 71.6,1337.2 71.9,1335.57 72.2,1336.58 72.5,1337.59 72.8,1336.19 73.1,1335.73 73.4,1334.42 73.7,1335.38 74,1336.51 74.3,1336.29 74.6,1336.29 74.9,1335.37 75.2,1337.14 75.5,1334.74 75.8,1336.58 76.1,1336.42 76.4,1337.63 76.7,1336.34 77,1335.75 77.3,1335.66 77.6,1335.52 77.9,1337.07 78.2,1337.23 78.5,1334.77 78.8,1334.51 79.1,1333.76 79.4,1335.78 79.7,1336.13 80,1336.67 80.3,1336.49 80.6,1337.72 80.9,1336.48 81.2,1336.77 81.5,1335.83 81.8,1336.77 82.1,1334 82.4,1334.94 82.7,1335.6 83,1336.67 83.3,1335.39 83.6,1332.96 83.9,1334.25 84.2,1334.83 84.5,1334.26 84.8,1335.36 85.1,1336.27 85.4,1335.13 85.7,1334.3 86,1336.62 86.3,1335.49 86.6,1335.52 86.9,1334.9 87.2,1335.86 87.5,1335.7 87.8,1333.54 88.1,1333.96 88.4,1337.03 88.7,1336.18 89,1335.51 89.3,1335.05 89.6,1336.75 89.9,1335.3 90.2,1336.33 90.5,1336.62 90.8,1335.33 91.1,1334.69 91.4,1334.32 91.7,1335.42 92,1336.93 92.3,1335.22 92.6,1336.27 92.9,1336.01 93.2,1337.07 93.5,1336.51 93.8,1335.06 94.1,1332.21 94.4,1333.61 94.7,1332.71 95,1332.53 95.3,1334.88 95.6,1332.78 95.9,1334.63 96.2,1335.13 96.5,1338.34 96.8,1337.2 97.1,1336.39 97.4,1334.9 97.7,1336.16 98,1334.24 98.3,1335.26 98.6,1334.67 98.9,1337.36 99.2,1336.46 99.5,1336.84 99.8,1335.77 100.1,1336.3 100.4,1334 100.7,1335.26 101,1336.25 101.3,1335.86 101.6,1335.82 101.9,1336.36 102.2,1336.5 102.5,1335.37 102.8,1337.69 103.1,1337.19 103.4,1336.43 103.7,1337.35 104,1336.14 104.3,1338.01 104.6,1336.67 104.9,1337.07 105.2,1335.12 105.5,1335.86 105.8,1336.55 106.1,1334.78 106.4,1335.88 106.7,1335.11 107,1337.29 107.3,1336.77 107.6,1336.45 107.9,1336.07 108.2,1336.85 108.5,1337.29 108.8,1335.81 109.1,1336.82 109.4,1335.55 109.7,1333.36 110,1334.02 110.3,1337.19 110.6,1335.38 110.9,1334.97 111.2,1336.04 111.5,1335.71 111.8,1334.3 112.1,1334.62 112.4,1334.14 112.7,1335.31 113,1337.04 113.3,1336.82 113.6,1339.3 113.9,1336.97 114.2,1336.67 114.5,1336.63 114.8,1336.94 115.1,1336.5 115.4,1336.64 115.7,1334.92 116,1335.78 116.3,1336.79 116.6,1337.25 116.9,1339.21 117.2,1338.16 117.5,1337.8 117.8,1338.58 118.1,1336.41 118.4,1336.08 118.7,1335.49 119,1338.45 119.3,1337.23 119.6,1336.9 119.9,1337.04 120.2,1337.83 120.5,1338.51 120.8,1337.14 121.1,1336.03 121.4,1335.68 121.7,1336.32 122,1334.44 122.3,1341.65 122.6,1367.44 122.9,1392.96 123.2,1420.99 123.5,1430.03 123.8,1437.18 124.1,1445.28 124.4,1461.29 124.7,1465.9 125,1490 125.3,1490 125.6,1467.7 125.9,1486.68 126.2,1456.79 126.5,1471.7 126.8,1462.57 127.1,1472.94 127.4,1464.47 127.7,1468.57 128,1473.78 128.3,1472.28 128.6,1479.46 128.9,1464.66 129.2,1476.47 129.5,1493 129.8,1493 130.1,1475.17 130.4,1473.39 130.7,1473.82 131,1445.38 131.3,1455.57 131.6,1467.06 131.9,1454.02 132.2,1461.52 132.5,1472.09 132.8,1467.41 133.1,1456.59 133.4,1466.45 133.7,1467.42 134,1462.04 134.3,1461.97 134.6,1464.41 134.9,1454.66 135.2,1465.72 135.5,1454 135.8,1461.76 136.1,1461.84 136.4,1452.77 136.7,1463.7 137,1460.37 137.3,1456.75 137.6,1461.43 137.9,1454.94 138.2,1457.01 138.5,1459.77 138.8,1459.71 139.1,1470.03 139.4,1447.24 139.7,1463.2 140,1451.99 140.3,1460.45 140.6,1464.27 140.9,1461.21 141.2,1466.29 141.5,1463.08 141.8,1443.46 142.1,1452.91 142.4,1469.48 142.7,1470.49 143,1458.6 143.3,1449.3 143.6,1476.03 143.9,1446.96 144.2,1464.89 144.5,1461.16 144.8,1464.68 145.1,1452.43 145.4,1456.66 145.7,1466.94 146,1455.01 146.3,1450.63 146.6,1460.56 146.9,1462 147.2,1462.39 147.5,1452.61 147.8,1441 148.1,1441 148.4,1450.14 148.7,1463.71 149,1459.93 149.3,1463.2 149.6,1449.93 149.9,1455.33 150.2,1464.41 150.5,1467.05 150.8,1465.4 151.1,1464.88 151.4,1468.22 151.7,1471.7 152,1474.84 152.3,1468.74 152.6,1463.96 152.9,1469.01 153.2,1452.99 153.5,1466.36 153.8,1464.64 154.1,1468.72 154.4,1475.06 154.7,1474.76 155,1462.99 155.3,1469.61 155.6,1463.9 155.9,1464.6 156.2,1467 156.5,1458.72 156.8,1470.58 157.1,1477.77 157.4,1464.2 157.7,1470.68 158,1460.52 158.3,1468.16 158.6,1483.65 158.9,1467.48 159.2,1476.23 159.5,1473.06 159.8,1487.02 160.1,1484.8 160.4,1469.97 160.7,1473.62 161,1494 161.3,1494 161.6,1475.75 161.9,1483.49 162.2,1460.12 162.5,1478.67 162.8,1473.88 163.1,1461.59 163.4,1474.03 163.7,1482.3 164,1490.66 164.3,1485.84 164.6,1482.13 164.9,1485.28 165.2,1479.56 165.5,1473.49 165.8,1467.75 166.1,1477.54 166.4,1476.37 166.7,1486.5 167,1473.3 167.3,1488.56 167.6,1480.86 167.9,1487.95 168.2,1472.41 168.5,1472.24 168.8,1476.73 169.1,1486.62 169.4,1481.86 169.7,1487.18 170,1485.64 170.3,1491.34 170.6,1485.32 170.9,1478.88 171.2,1486.16 171.5,1482.49 171.8,1495.13 172.1,1479.12 172.4,1476.47 172.7,1474.47 173,1497 173.3,1497 173.6,1492.92 173.9,1479.59 174.2,1477.35 174.5,1485.76 174.8,1489.32 175.1,1493.52 175.4,1471.43 175.7,1485.34 176,1499 176.3,1499 176.6,1485.19 176.9,1492.73 177.2,1480.75 177.5,1477.64 177.8,1483.75 178.1,1494.76 178.4,1505.47 178.7,1479.12 179,1486.18 179.3,1486.39 179.6,1493.89 179.9,1487.66 180.2,1496.24 180.5,1475.72 180.8,1483.9 181.1,1478.35 181.4,1475.17 181.7,1473.17 182,1469.86 182.3,1468.98 182.6,1463.5 182.9,1458 183.2,1456.04 183.5,1455.01 183.8,1449.38 184.1,1444.44 184.4,1441 184.7,1439.9 185,1438.92 185.3,1437.09 185.6,1433.5 185.9,1429.16 186.2,1427.32 186.5,1425.03 186.8,1423.59 187.1,1421.77 187.4,1419.29 187.7,1419.58 188,1416.43 188.3,1414.24 188.6,1412.31 188.9,1409.01 189.2,1405.31 189.5,1399.56 189.8,1398.17 190.1,1395.07 190.4,1392.35 190.7,1389.9 191,1387.42 191.3,1382.97 191.6,1380.59 191.9,1378.25 192.2,1374.69 192.5,1371.41 192.8,1367.85 193.1,1366.32 193.4,1363.6 193.7,1360.43 194,1357.85 194.3,1357.76 194.6,1355.55 194.9,1354.43 195.2,1351.03 195.5,1351.48 195.8,1348.64 196.1,1349.34 196.4,1347.93 196.7,1346.67 197,1343.82 197.3,1342.15 197.6,1339.77 197.9,1340.58 198.2,1339.29 198.5,1337 198.8,1336.38 199.1,1337.19 199.4,1335.94 199.7,1333.07 200,1332.02 200.3,1332.62 200.6,1330.65 200.9,1330.26 201.2,1329.1 201.5,1327.66 201.8,1326.36 202.1,1325.25 202.4,1326.02 202.7,1323.44 203,1325.38 203.3,1322.59 203.6,1323.26 203.9,1322.11 204.2,1331.8 204.5,1326.19 204.8,1325.91 205.1,1325.1 205.4,1322.38 205.7,1322.93 206,1322.6 206.3,1322.71 206.6,1322.38 206.9,1323.83 207.2,1316.1 207.5,1321.01 207.8,1323.41 208.1,1322.66 208.4,1322.85 208.7,1326.6 209,1323.23 209.3,1326.13 209.6,1320.38 209.9,1319.97 210.2,1317.74 210.5,1317.57 210.8,1320.71 211.1,1321.59 211.4,1321.01 211.7,1319.33 212,1322.05 212.3,1320.14 212.6,1320.14 212.9,1319.59 213.2,1324.77 213.5,1324.17 213.8,1321.95 214.1,1320.71 214.4,1321.82 214.7,1324.9 215,1327.62 215.3,1322.35 215.6,1320.78 215.9,1317.37 216.2,1325.65 216.5,1318.72 216.8,1322.51 217.1,1321.85 217.4,1323.06 217.7,1318.65 218,1317.54 218.3,1322.33 218.6,1323.59 218.9,1325.19 219.2,1319.13 219.5,1321.02 219.8,1321.98 220.1,1319.72 220.4,1321.49 220.7,1321.75 221,1320.47 221.3,1317.93 221.6,1321.31 221.9,1321.75 222.2,1321.03 222.5,1321.96 222.8,1317.19 223.1,1322.64 223.4,1321.55 223.7,1319.93 224,1319.49 224.3,1319.66 224.6,1323.75 224.9,1321.1 225.2,1319.82 225.5,1322.08 225.8,1322.09 226.1,1323.13 226.4,1320.32 226.7,1320.27 227,1322.48 227.3,1325.78 227.6,1322.92 227.9,1319.95 228.2,1322.97 228.5,1321.56 228.8,1318.71 229.1,1320.76 229.4,1320.64 229.7,1322.73 230,1324.45 230.3,1324.54 230.6,1323.69 230.9,1320.93 231.2,1321.5 231.5,1320.62 231.8,1323.53 232.1,1320.21 232.4,1321.05 232.7,1324.99 233,1322.97 233.3,1321.67 233.6,1322.76 233.9,1322.65 234.2,1320.65 234.5,1321.28 234.8,1320.73 235.1,1321.19 235.4,1320.5 235.7,1318.39 236,1320.37 236.3,1323.4 236.6,1321.64 236.9,1320.22 237.2,1321.19 237.5,1319.76 237.8,1321.51 238.1,1324.28 238.4,1323.76 238.7,1322.91 239,1322.89 239.3,1321.23 239.6,1319.4 239.9,1320.52 240.2,1319.55 240.5,1322.75 240.8,1322.03 241.1,1321.2 241.4,1322.66 241.7,1327.01 242,1319.33 242.3,1323.05 242.6,1321.54 242.9,1320.99 243.2,1319.01 243.5,1321.58 243.8,1321.5 244.1,1323 244.4,1322.97 244.7,1322 245,1320.26 245.3,1321.42 245.6,1320.72 245.9,1319.99 246.2,1323.76 246.5,1320.81 246.8,1319.34 247.1,1321.8 247.4,1317.96 247.7,1321.57 248,1322.3 248.3,1320.22 248.6,1320.84 248.9,1324.31 249.2,1323.6 249.5,1323.8 249.8,1322 250.1,1320.09 250.4,1320.69 250.7,1321.58 251,1322.4 251.3,1322.08 251.6,1320.34 251.9,1324.76 252.2,1319.38 252.5,1320.92 252.8,1321.93 253.1,1320.66 253.4,1320.58 253.7,1321.76 254,1325.42 254.3,1322.79 254.6,1321.23 254.9,1322.66 255.2,1320.94 255.5,1317.64 255.8,1321.44 256.1,1323.04 256.4,1323.78 256.7,1321.33 257,1319.63 257.3,1324.52 257.6,1321.55 257.9,1322.19 258.2,1322.5 258.5,1321.66 258.8,1321.78 259.1,1321.28 259.4,1321.49 259.7,1322.49 260,1320.7 260.3,1322.11 260.6,1317.76 260.9,1319.69 261.2,1322.24 261.5,1320.97 261.8,1321.53 262.1,1320.2 262.4,1322.54 262.7,1323.71 263,1318.57 263.3,1323.64 263.6,1318.63 263.9,1321.74 264.2,1317.28 264.5,1321.41 264.8,1320.42 265.1,1321.11 265.4,1323.71 265.7,1323.08 266,1321.85 266.3,1320.73 266.6,1321.64 266.9,1320.05 267.2,1320.6 267.5,1324.27" fill="none" stroke="#11a04b" stroke-width="2" stroke-linejoin="round" />
<polyline points="63.5,1332.69 63.8,1333.44 64.1,1331.54 64.4,1330.74 64.7,1331.18 65,1332.44 65.3,1333.72 65.6,1334.38 65.9,1332.44 66.2,1330.79 66.5,1331.49 66.8,1333.53 67.1,1336.41 67.4,1336.14 67.7,1334.62 68,1333.93 68.3,1333.48 68.6,1334.43 68.9,1332.82 69.2,1332.34 69.5,1332.06 69.8,1333.37 70.1,1333.47 70.4,1334.79 70.7,1333.52 71,1333.78 71.3,1332.95 71.6,1332.88 71.9,1331.61 72.2,1332.01 72.5,1333.07 72.8,1333.85 73.1,1333.37 73.4,1332.46 73.7,1332.77 74,1332 74.3,1332.66 74.6,1333.24 74.9,1333.44 75.2,1333.95 75.5,1332.4 75.8,1332.44 76.1,1330.74 76.4,1331.46 76.7,1331.74 77,1332.63 77.3,1332.5 77.6,1333.47 77.9,1334.71 78.2,1333.99 78.5,1333.86 78.8,1331.45 79.1,1331.82 79.4,1330.78 79.7,1332.19 80,1331.95 80.3,1331.53 80.6,1331.5 80.9,1331.77 81.2,1331.84 81.5,1332.29 81.8,1333.53 82.1,1333.98 82.4,1333.48 82.7,1332.75 83,1332.45 83.3,1332.04 83.6,1331.26 83.9,1332.11 84.2,1332.44 84.5,1333.13 84.8,1332.78 85.1,1333.26 85.4,1334.45 85.7,1334.09 86,1333.37 86.3,1332.44 86.6,1332 86.9,1333.28 87.2,1333.84 87.5,1335.02 87.8,1333.95 88.1,1333.81 88.4,1334.08 88.7,1334.55 89,1333.77 89.3,1331.68 89.6,1332.02 89.9,1331.96 90.2,1332.61 90.5,1332.57 90.8,1333.1 91.1,1332.65 91.4,1331.9 91.7,1331.43 92,1333.28 92.3,1331.9 92.6,1331.81 92.9,1330.95 93.2,1333.49 93.5,1332.95 93.8,1330.8 94.1,1328.66 94.4,1329.69 94.7,1332.56 95,1334.95 95.3,1335.06 95.6,1333.82 95.9,1333.17 96.2,1332.85 96.5,1333.32 96.8,1332.65 97.1,1333.64 97.4,1333.1 97.7,1332.3 98,1331.27 98.3,1331.91 98.6,1332.07 98.9,1331.45 99.2,1331.79 99.5,1333.44 99.8,1334.66 100.1,1334.9 100.4,1334.83 100.7,1332.75 101,1331.07 101.3,1329.58 101.6,1330.19 101.9,1330.59 102.2,1331.18 102.5,1331.11 102.8,1331.53 103.1,1329.91 103.4,1330.15 103.7,1331.52 104,1332.67 104.3,1333.66 104.6,1333.18 104.9,1333.21 105.2,1333.41 105.5,1333.03 105.8,1333.94 106.1,1333.01 106.4,1331.74 106.7,1330.43 107,1330.49 107.3,1332 107.6,1332.63 107.9,1332.75 108.2,1332.2 108.5,1333.2 108.8,1333.06 109.1,1334.36 109.4,1332.58 109.7,1332.56 110,1332.06 110.3,1333.4 110.6,1333.2 110.9,1332.46 111.2,1331.52 111.5,1332.83 111.8,1333.32 112.1,1333.32 112.4,1332.97 112.7,1332.28 113,1332.77 113.3,1332.51 113.6,1332.36 113.9,1332.74 114.2,1333.05 114.5,1333.8 114.8,1334.33 115.1,1333.76 115.4,1332.3 115.7,1331.08 116,1331.44 116.3,1332.6 116.6,1333.41 116.9,1333.88 117.2,1333.77 117.5,1333.24 117.8,1331.87 118.1,1332.75 118.4,1332.63 118.7,1332.56 119,1330.91 119.3,1330.8 119.6,1332.82 119.9,1334.27 120.2,1333.29 120.5,1332 120.8,1331.61 121.1,1333.39 121.4,1333.75 121.7,1333.05 122,1332.89 122.3,1332.2 122.6,1330.97 122.9,1330.11 123.2,1330.01 123.5,1332.46 123.8,1333.81 124.1,1333.54 124.4,1332.94 124.7,1332.2 125,1331.9 125.3,1330.2 125.6,1330.06 125.9,1331.26 126.2,1332.38 126.5,1330.37 126.8,1330.24 127.1,1330.26 127.4,1331.65 127.7,1331.43 128,1331.01 128.3,1332.12 128.6,1332.37 128.9,1332.81 129.2,1332.6 129.5,1332.56 129.8,1331.83 130.1,1331.5 130.4,1331.18 130.7,1331.01 131,1330.62 131.3,1331.29 131.6,1332.15 131.9,1333.73 132.2,1334.71 132.5,1334.95 132.8,1334.29 133.1,1334.52 133.4,1334.5 133.7,1333.38 134,1331.53 134.3,1330.73 134.6,1330.39 134.9,1330.87 135.2,1331.61 135.5,1332.83 135.8,1333.04 136.1,1332.78 136.4,1332.44 136.7,1331.86 137,1331.93 137.3,1331.44 137.6,1331.89 137.9,1332.29 138.2,1333.19 138.5,1333.71 138.8,1334.6 139.1,1333.49 139.4,1332.07 139.7,1331.1 140,1332.04 140.3,1333.42 140.6,1332.88 140.9,1332.45 141.2,1331.92 141.5,1333.6 141.8,1334.99 142.1,1334.03 142.4,1332.92 142.7,1331.25 143,1332.67 143.3,1333.17 143.6,1333.52 143.9,1332.4 144.2,1332.28 144.5,1333.31 144.8,1333.19 145.1,1332.72 145.4,1332.05 145.7,1332.65 146,1333.16 146.3,1332.31 146.6,1331.84 146.9,1329.97 147.2,1330.78 147.5,1332.05 147.8,1332.09 148.1,1331.56 148.4,1331.43 148.7,1332.89 149,1331.93 149.3,1332.13 149.6,1331.15 149.9,1333.65 150.2,1332.31 150.5,1332.86 150.8,1331.83 151.1,1332.26 151.4,1333.26 151.7,1333.63 152,1333.53 152.3,1334.09 152.6,1334.25 152.9,1334.57 153.2,1333.66 153.5,1333.04 153.8,1332.77 154.1,1333.18 154.4,1333.61 154.7,1333.7 155,1333.97 155.3,1333.41 155.6,1333.71 155.9,1333.59 156.2,1332.94 156.5,1332.4 156.8,1333.02 157.1,1333.14 157.4,1334.23 157.7,1332.14 158,1333.18 158.3,1331.48 158.6,1331.82 158.9,1331.22 159.2,1331.62 159.5,1332.86 159.8,1333.79 160.1,1334.88 160.4,1334.25 160.7,1334.87 161,1334.99 161.3,1335.09 161.6,1333.03 161.9,1332.77 162.2,1333.02 162.5,1333.9 162.8,1333.92 163.1,1334.01 163.4,1333.71 163.7,1333.59 164,1333.27 164.3,1333.74 164.6,1333.04 164.9,1332.42 165.2,1332.27 165.5,1333.63 165.8,1335.77 166.1,1335.4 166.4,1333.49 166.7,1331.45 167,1331.09 167.3,1331.58 167.6,1332.14 167.9,1332.08 168.2,1332.87 168.5,1333.17 168.8,1335.04 169.1,1335.96 169.4,1336.12 169.7,1336.7 170,1334.92 170.3,1334.37 170.6,1332.76 170.9,1333.48 171.2,1334.05 171.5,1333.67 171.8,1334.65 172.1,1334.84 172.4,1335.36 172.7,1334.41 173,1332.69 173.3,1330.53 173.6,1330.1 173.9,1331.09 174.2,1333.17 174.5,1332.39 174.8,1331.81 175.1,1332.97 175.4,1334.37 175.7,1335.19 176,1333.61 176.3,1333.62 176.6,1334.13 176.9,1334.95 177.2,1334.08 177.5,1333.31 177.8,1332.06 178.1,1332.14 178.4,1332.37 178.7,1332.64 179,1332.7 179.3,1333.34 179.6,1333.62 179.9,1334.38 180.2,1333.06 180.5,1332.32 180.8,1331.74 181.1,1331.7 181.4,1331.03 181.7,1330.11 182,1330.07 182.3,1332.72 182.6,1333.2 182.9,1333.49 183.2,1332.85 183.5,1333.51 183.8,1333.28 184.1,1334.09 184.4,1334.89 184.7,1333.29 185,1332.73 185.3,1332.12 185.6,1334.72 185.9,1334.06 186.2,1334.27 186.5,1335 186.8,1336.23 187.1,1336.96 187.4,1336.3 187.7,1335.7 188,1335.05 188.3,1333.4 188.6,1334.43 188.9,1333.89 189.2,1334.99 189.5,1333.35 189.8,1333.53 190.1,1331.67 190.4,1331.76 190.7,1330.44 191,1331.3 191.3,1329.71 191.6,1329.37 191.9,1330.56 192.2,1331.6 192.5,1332.83 192.8,1332.25 193.1,1331.74 193.4,1331.28 193.7,1330.45 194,1331.09 194.3,1329.94 194.6,1330.6 194.9,1331.53 195.2,1334.13 195.5,1335.3 195.8,1334.98 196.1,1333.3 196.4,1333.12 196.7,1333.13 197,1334.1 197.3,1332.48 197.6,1332.39 197.9,1333.26 198.2,1334.75 198.5,1334.27 198.8,1333.61 199.1,1333.05 199.4,1333.36 199.7,1333.59 200,1333.85 200.3,1333.77 200.6,1333.41 200.9,1332.53 201.2,1331.71 201.5,1331.79 201.8,1331.96 202.1,1333.15 202.4,1331.38 202.7,1332.74 203,1332.24 203.3,1334.91 203.6,1332.11 203.9,1330.9 204.2,1330.71 204.5,1332.71 204.8,1334.23 205.1,1333.25 205.4,1333.26 205.7,1333.43 206,1332.57 206.3,1332.32 206.6,1332.9 206.9,1333.81 207.2,1333.47 207.5,1332.55 207.8,1333.21 208.1,1333.53 208.4,1333.32 208.7,1332.9 209,1333.7 209.3,1334.96 209.6,1334.49 209.9,1334.11 210.2,1333.78 210.5,1332.43 210.8,1332.28 211.1,1331.83 211.4,1333.22 211.7,1332.46 212,1332.56 212.3,1333.57 212.6,1334.16 212.9,1333.34 213.2,1332.24 213.5,1333.49 213.8,1334.81 214.1,1335.01 214.4,1332.99 214.7,1331.08 215,1330.8 215.3,1331.4 215.6,1332.57 215.9,1331.95 216.2,1332.1 216.5,1332.3 216.8,1331.88 217.1,1333.73 217.4,1333.76 217.7,1335.45 218,1332.71 218.3,1331.49 218.6,1331.86 218.9,1333.54 219.2,1332.46 219.5,1332.57 219.8,1332.45 220.1,1334.79 220.4,1333.06 220.7,1332.7 221,1331.76 221.3,1333.04 221.6,1334.25 221.9,1335.21 222.2,1335.56 222.5,1333.91 222.8,1332.65 223.1,1331.88 223.4,1332.91 223.7,1334.82 224,1334.77 224.3,1334.17 224.6,1332.74 224.9,1331.47 225.2,1331.35 225.5,1331.92 225.8,1332.92 226.1,1332.72 226.4,1331.08 226.7,1331.44 227,1332.63 227.3,1333.99 227.6,1334.4 227.9,1333.68 228.2,1333.12 228.5,1332.83 228.8,1331.86 229.1,1334.67 229.4,1334.67 229.7,1334.46 230,1331.06 230.3,1332.04 230.6,1333.34 230.9,1334.82 231.2,1332.64 231.5,1331.74 231.8,1330.51 232.1,1332.39 232.4,1332.42 232.7,1334.82 233,1334.37 233.3,1334.53 233.6,1334.08 233.9,1332.08 234.2,1331.69 234.5,1330.35 234.8,1332.78 235.1,1334.24 235.4,1334.82 235.7,1332.64 236,1331.41 236.3,1330.3 236.6,1332.61 236.9,1332.68 237.2,1333.97 237.5,1334.44 237.8,1334.72 238.1,1334.8 238.4,1333.09 238.7,1333.18 239,1332.68 239.3,1332.98 239.6,1333 239.9,1332.67 240.2,1334.08 240.5,1333.53 240.8,1334.02 241.1,1332.37 241.4,1331.13 241.7,1331.69 242,1332.09 242.3,1332.77 242.6,1331.46 242.9,1330.05 243.2,1331.32 243.5,1333.07 243.8,1335.24 244.1,1334.02 244.4,1331.51 244.7,1330.98 245,1333.26 245.3,1334.61 245.6,1335.01 245.9,1332.65 246.2,1332.52 246.5,1332.06 246.8,1332.81 247.1,1332.72 247.4,1332.9 247.7,1332.74 248,1332.15 248.3,1332.19 248.6,1332.86 248.9,1332.85 249.2,1332.61 249.5,1331.99 249.8,1333.25 250.1,1332.91 250.4,1333.12 250.7,1332.03 251,1332.19 251.3,1332.38 251.6,1334.42 251.9,1334.23 252.2,1333.23 252.5,1333.37 252.8,1331.84 253.1,1334.14 253.4,1331.89 253.7,1334.51 254,1333.11 254.3,1334.18 254.6,1333.14 254.9,1333.19 255.2,1333.18 255.5,1332.66 255.8,1333.11 256.1,1331.88 256.4,1331.81 256.7,1331.05 257,1331.81 257.3,1333.3 257.6,1333.04 257.9,1332.46 258.2,1330.67 258.5,1330.99 258.8,1332.08 259.1,1332.37 259.4,1332.45 259.7,1331.57 260,1332.21 260.3,1330.89 260.6,1331.79 260.9,1332.44 261.2,1333.34 261.5,1332.83 261.8,1331.42 262.1,1332.83 262.4,1333.37 262.7,1336.29 263,1335.36 263.3,1334.21 263.6,1331.62 263.9,1330.82 264.2,1331.65 264.5,1332.26 264.8,1333.93 265.1,1334.08 265.4,1333.53 265.7,1333.82 266,1333.95 266.3,1334.91 266.6,1333.02 266.9,1331.94 267.2,1330.82 267.5,1331.42" fill="none" stroke="#a9dab6" stroke-width="2.6" stroke-linejoin="round" />
<line x1="63.5" y1="1332.8" x2="267.6" y2="1332.8" stroke="#231f20" stroke-width="2.2" stroke-dasharray="7.5 5.8" stroke-dashoffset="0"/>
<text x="209.5" y="1370" font-size="30" fill="#11a04b" text-anchor="start" font-weight="normal"  stroke="#11a04b" stroke-width="0.3">ctrl</text>
<text x="209.5" y="1405" font-size="30" fill="#a9dab6" stroke="#a9dab6" stroke-width="0.3">Cd<tspan font-size="17" dy="-10.8">2+</tspan></text>
<rect x="61.6" y="1350.5" width="4" height="96" fill="#231f20"/>
<text x="88" y="1530.5" font-size="30" fill="#231f20" text-anchor="start" stroke="#231f20" stroke-width="0.3">I<tspan font-size="17.5" dy="10" fill="#231f20" stroke="#231f20" stroke-width="0.3">ACh</tspan><tspan dy="-10"> (DSGC)</tspan></text>
<line x1="396.8" y1="1001.5" x2="396.8" y2="1205.7" stroke="#231f20" stroke-width="2.2" />
<line x1="395.7" y1="1204.6" x2="600.3" y2="1204.6" stroke="#231f20" stroke-width="2.2" />
<line x1="393.2" y1="1001.7" x2="396.8" y2="1001.7" stroke="#231f20" stroke-width="1.8" />
<line x1="393.2" y1="1047.8" x2="396.8" y2="1047.8" stroke="#231f20" stroke-width="1.8" />
<line x1="393.2" y1="1094" x2="396.8" y2="1094" stroke="#231f20" stroke-width="1.8" />
<line x1="393.2" y1="1140.1" x2="396.8" y2="1140.1" stroke="#231f20" stroke-width="1.8" />
<line x1="393.2" y1="1186.2" x2="396.8" y2="1186.2" stroke="#231f20" stroke-width="1.8" />
<line x1="447.6" y1="1204.6" x2="447.6" y2="1208.8" stroke="#231f20" stroke-width="1.8" />
<line x1="548.9" y1="1204.6" x2="548.9" y2="1208.8" stroke="#231f20" stroke-width="1.8" />
<text x="389.5" y="1012.5" font-size="30" fill="#231f20" text-anchor="end" font-weight="normal"  stroke="#231f20" stroke-width="0.3">4</text>
<text x="389.5" y="1197" font-size="30" fill="#231f20" text-anchor="end" font-weight="normal"  stroke="#231f20" stroke-width="0.3">0</text>
<line x1="396.8" y1="1186.2" x2="600.3" y2="1186.2" stroke="#231f20" stroke-width="2.2" stroke-dasharray="7.5 5.8" stroke-dashoffset="2"/>
<line x1="447.6" y1="1002.2" x2="548.9" y2="1002.2" stroke="#231f20" stroke-width="3.6" />
<line x1="497.7" y1="992.1" x2="497.7" y2="985.9" stroke="#231f20" stroke-width="2.6" />
<line x1="497.7" y1="992.1" x2="491.8" y2="990.18" stroke="#231f20" stroke-width="2.6" />
<line x1="497.7" y1="992.1" x2="494.06" y2="997.12" stroke="#231f20" stroke-width="2.6" />
<line x1="497.7" y1="992.1" x2="501.34" y2="997.12" stroke="#231f20" stroke-width="2.6" />
<line x1="497.7" y1="992.1" x2="503.6" y2="990.18" stroke="#231f20" stroke-width="2.6" />
<polygon points="447,1010.6 453.15,1013.15 455.7,1019.3 453.15,1025.45 447,1028 440.85,1025.45 438.3,1019.3 440.85,1013.15" fill="none" stroke="#ea058a" stroke-width="1.6"/>
<polygon points="447,1041.1 453.15,1043.65 455.7,1049.8 453.15,1055.95 447,1058.5 440.85,1055.95 438.3,1049.8 440.85,1043.65" fill="none" stroke="#ea058a" stroke-width="1.6"/>
<polygon points="447,1098.6 453.15,1101.15 455.7,1107.3 453.15,1113.45 447,1116 440.85,1113.45 438.3,1107.3 440.85,1101.15" fill="none" stroke="#ea058a" stroke-width="1.6"/>
<polygon points="447,1118.3 453.15,1120.85 455.7,1127 453.15,1133.15 447,1135.7 440.85,1133.15 438.3,1127 440.85,1120.85" fill="none" stroke="#ea058a" stroke-width="1.6"/>
<polygon points="447,1129.7 453.15,1132.25 455.7,1138.4 453.15,1144.55 447,1147.1 440.85,1144.55 438.3,1138.4 440.85,1132.25" fill="none" stroke="#ea058a" stroke-width="1.6"/>
<polygon points="548.9,1177.7 555.05,1180.25 557.6,1186.4 555.05,1192.55 548.9,1195.1 542.75,1192.55 540.2,1186.4 542.75,1180.25" fill="none" stroke="#f4b4cf" stroke-width="1.6"/>
<line x1="447" y1="1019.3" x2="548.9" y2="1186.2" stroke="#c4c4c4" stroke-width="1.2" />
<line x1="447" y1="1049.8" x2="548.9" y2="1186.2" stroke="#c4c4c4" stroke-width="1.2" />
<line x1="447" y1="1107.3" x2="548.9" y2="1186.2" stroke="#c4c4c4" stroke-width="1.2" />
<line x1="447" y1="1127" x2="548.9" y2="1186.2" stroke="#c4c4c4" stroke-width="1.2" />
<line x1="447" y1="1138.4" x2="548.9" y2="1186.2" stroke="#c4c4c4" stroke-width="1.2" />
<line x1="421.9" y1="1066.1" x2="421.9" y2="1111.8" stroke="#ea058a" stroke-width="2" />
<line x1="412" y1="1066.1" x2="431.8" y2="1066.1" stroke="#ea058a" stroke-width="2" />
<line x1="412" y1="1111.8" x2="431.8" y2="1111.8" stroke="#ea058a" stroke-width="2" />
<circle cx="421.9" cy="1089" r="4.3" stroke="#ea058a" stroke-width="0" fill="#ea058a"/>
<circle cx="573.7" cy="1186.4" r="4.2" stroke="#f4b4cf" stroke-width="0" fill="#f4b4cf"/>
<text x="0" y="0" font-size="30" fill="#231f20" text-anchor="start" transform="translate(345,1154.5) rotate(-90)" stroke="#231f20" stroke-width="0.3">I<tspan font-size="17.6" dy="10.5" fill="#231f20" stroke="#231f20" stroke-width="0.3">GABA</tspan><tspan dy="-10.5"> (nA)</tspan></text>
<text x="447.6" y="1239.3" font-size="30" fill="#231f20" text-anchor="middle" font-weight="normal"  stroke="#231f20" stroke-width="0.3">ctrl</text>
<text x="519.4" y="1239.3" font-size="30" fill="#231f20" stroke="#231f20" stroke-width="0.3">Cd<tspan font-size="17" dy="-10.8">2+</tspan></text>
<line x1="396.8" y1="1295" x2="396.8" y2="1500.6" stroke="#231f20" stroke-width="2.2" />
<line x1="395.7" y1="1499.5" x2="600.3" y2="1499.5" stroke="#231f20" stroke-width="2.2" />
<line x1="393.2" y1="1314.4" x2="396.8" y2="1314.4" stroke="#231f20" stroke-width="1.8" />
<line x1="393.2" y1="1376.4" x2="396.8" y2="1376.4" stroke="#231f20" stroke-width="1.8" />
<line x1="393.2" y1="1437.5" x2="396.8" y2="1437.5" stroke="#231f20" stroke-width="1.8" />
<line x1="393.2" y1="1499.5" x2="396.8" y2="1499.5" stroke="#231f20" stroke-width="1.8" />
<line x1="447.6" y1="1499.5" x2="447.6" y2="1503.7" stroke="#231f20" stroke-width="1.8" />
<line x1="548.9" y1="1499.5" x2="548.9" y2="1503.7" stroke="#231f20" stroke-width="1.8" />
<text x="389.5" y="1325" font-size="30" fill="#231f20" text-anchor="end" font-weight="normal"  stroke="#231f20" stroke-width="0.3">0</text>
<text x="389.5" y="1510" font-size="30" fill="#231f20" text-anchor="end" font-weight="normal"  stroke="#231f20" stroke-width="0.3">-750</text>
<line x1="396.8" y1="1314.4" x2="600.3" y2="1314.4" stroke="#231f20" stroke-width="2.2" stroke-dasharray="7.5 5.8" stroke-dashoffset="2"/>
<line x1="447.6" y1="1294.8" x2="548.9" y2="1294.8" stroke="#231f20" stroke-width="3.6" />
<line x1="490.6" y1="1285.6" x2="490.6" y2="1279.4" stroke="#231f20" stroke-width="2.6" />
<line x1="490.6" y1="1285.6" x2="484.7" y2="1283.68" stroke="#231f20" stroke-width="2.6" />
<line x1="490.6" y1="1285.6" x2="486.96" y2="1290.62" stroke="#231f20" stroke-width="2.6" />
<line x1="490.6" y1="1285.6" x2="494.24" y2="1290.62" stroke="#231f20" stroke-width="2.6" />
<line x1="490.6" y1="1285.6" x2="496.5" y2="1283.68" stroke="#231f20" stroke-width="2.6" />
<line x1="504.6" y1="1285.6" x2="504.6" y2="1279.4" stroke="#231f20" stroke-width="2.6" />
<line x1="504.6" y1="1285.6" x2="498.7" y2="1283.68" stroke="#231f20" stroke-width="2.6" />
<line x1="504.6" y1="1285.6" x2="500.96" y2="1290.62" stroke="#231f20" stroke-width="2.6" />
<line x1="504.6" y1="1285.6" x2="508.24" y2="1290.62" stroke="#231f20" stroke-width="2.6" />
<line x1="504.6" y1="1285.6" x2="510.5" y2="1283.68" stroke="#231f20" stroke-width="2.6" />
<polygon points="447,1357.8 453.15,1360.35 455.7,1366.5 453.15,1372.65 447,1375.2 440.85,1372.65 438.3,1366.5 440.85,1360.35" fill="none" stroke="#11a04b" stroke-width="1.8"/>
<polygon points="447,1408.2 453.15,1410.75 455.7,1416.9 453.15,1423.05 447,1425.6 440.85,1423.05 438.3,1416.9 440.85,1410.75" fill="none" stroke="#11a04b" stroke-width="1.8"/>
<polygon points="447,1440.9 453.15,1443.45 455.7,1449.6 453.15,1455.75 447,1458.3 440.85,1455.75 438.3,1449.6 440.85,1443.45" fill="none" stroke="#11a04b" stroke-width="1.8"/>
<polygon points="447,1451.4 453.15,1453.95 455.7,1460.1 453.15,1466.25 447,1468.8 440.85,1466.25 438.3,1460.1 440.85,1453.95" fill="none" stroke="#11a04b" stroke-width="1.8"/>
<polygon points="447,1451.9 453.15,1454.45 455.7,1460.6 453.15,1466.75 447,1469.3 440.85,1466.75 438.3,1460.6 440.85,1454.45" fill="none" stroke="#11a04b" stroke-width="1.8"/>
<polygon points="447,1457.4 453.15,1459.95 455.7,1466.1 453.15,1472.25 447,1474.8 440.85,1472.25 438.3,1466.1 440.85,1459.95" fill="none" stroke="#11a04b" stroke-width="1.8"/>
<polygon points="548.9,1303.7 555.05,1306.25 557.6,1312.4 555.05,1318.55 548.9,1321.1 542.75,1318.55 540.2,1312.4 542.75,1306.25" fill="none" stroke="#a9dab6" stroke-width="1.6"/>
<polygon points="548.9,1305.7 555.05,1308.25 557.6,1314.4 555.05,1320.55 548.9,1323.1 542.75,1320.55 540.2,1314.4 542.75,1308.25" fill="none" stroke="#a9dab6" stroke-width="1.6"/>
<polygon points="548.9,1307.7 555.05,1310.25 557.6,1316.4 555.05,1322.55 548.9,1325.1 542.75,1322.55 540.2,1316.4 542.75,1310.25" fill="none" stroke="#a9dab6" stroke-width="1.6"/>
<polygon points="548.9,1308.7 555.05,1311.25 557.6,1317.4 555.05,1323.55 548.9,1326.1 542.75,1323.55 540.2,1317.4 542.75,1311.25" fill="none" stroke="#a9dab6" stroke-width="1.6"/>
<polygon points="548.9,1304.7 555.05,1307.25 557.6,1313.4 555.05,1319.55 548.9,1322.1 542.75,1319.55 540.2,1313.4 542.75,1307.25" fill="none" stroke="#a9dab6" stroke-width="1.6"/>
<polygon points="548.9,1306.7 555.05,1309.25 557.6,1315.4 555.05,1321.55 548.9,1324.1 542.75,1321.55 540.2,1315.4 542.75,1309.25" fill="none" stroke="#a9dab6" stroke-width="1.6"/>
<line x1="447" y1="1366.5" x2="548.9" y2="1314.4" stroke="#c4c4c4" stroke-width="1.2" />
<line x1="447" y1="1416.9" x2="548.9" y2="1314.4" stroke="#c4c4c4" stroke-width="1.2" />
<line x1="447" y1="1449.6" x2="548.9" y2="1314.4" stroke="#c4c4c4" stroke-width="1.2" />
<line x1="447" y1="1460.1" x2="548.9" y2="1314.4" stroke="#c4c4c4" stroke-width="1.2" />
<line x1="447" y1="1460.6" x2="548.9" y2="1314.4" stroke="#c4c4c4" stroke-width="1.2" />
<line x1="447" y1="1466.1" x2="548.9" y2="1314.4" stroke="#c4c4c4" stroke-width="1.2" />
<line x1="421.9" y1="1413.3" x2="421.9" y2="1450.2" stroke="#11a04b" stroke-width="2" />
<line x1="412" y1="1413.3" x2="431.8" y2="1413.3" stroke="#11a04b" stroke-width="2" />
<line x1="412" y1="1450.2" x2="431.8" y2="1450.2" stroke="#11a04b" stroke-width="2" />
<circle cx="421.9" cy="1431.4" r="4.3" stroke="#11a04b" stroke-width="0" fill="#11a04b"/>
<line x1="565.5" y1="1315.6" x2="583.7" y2="1315.6" stroke="#a9dab6" stroke-width="2" />
<circle cx="573.7" cy="1315.6" r="4.2" stroke="#a9dab6" stroke-width="0" fill="#a9dab6"/>
<text x="0" y="0" font-size="30" fill="#231f20" text-anchor="start" transform="translate(345,1461) rotate(-90)" stroke="#231f20" stroke-width="0.3">I<tspan font-size="17.6" dy="10.5" fill="#231f20" stroke="#231f20" stroke-width="0.3">ACh</tspan><tspan dy="-10.5"> (pA)</tspan></text>
<text x="447.6" y="1533" font-size="30" fill="#231f20" text-anchor="middle" font-weight="normal"  stroke="#231f20" stroke-width="0.3">ctrl</text>
<text x="519.4" y="1533" font-size="30" fill="#231f20" stroke="#231f20" stroke-width="0.3">Cd<tspan font-size="17" dy="-10.8">2+</tspan></text>
<text x="34.5" y="1622.5" font-size="32" fill="#231f20" text-anchor="start" font-weight="bold"  stroke="#231f20" stroke-width="0.3">C</text>
<text x="101.3" y="1652" font-size="30" fill="#25a8e0" text-anchor="start" font-weight="normal"  stroke="#25a8e0" stroke-width="0.3">500 ms</text>
<rect x="122.3" y="1663" width="57.7" height="7.8" fill="#25a8e0"/>
<rect x="61.6" y="1712.5" width="3.9" height="77.5" fill="#231f20"/>
<text x="78" y="1743.3" font-size="29" fill="#231f20" text-anchor="start" font-weight="normal"  stroke="#231f20" stroke-width="0.3">10</text>
<text x="72.2" y="1779.3" font-size="29" fill="#231f20" text-anchor="start" font-weight="normal"  stroke="#231f20" stroke-width="0.3">mV</text>
<text x="208.6" y="1724.5" font-size="30" fill="#231f20" text-anchor="start" font-weight="normal"  stroke="#231f20" stroke-width="0.3">ctrl</text>
<text x="208.6" y="1759" font-size="30" fill="#8c8c8c" stroke="#8c8c8c" stroke-width="0.3">Cd<tspan font-size="17" dy="-10.8">2+</tspan></text>
<text x="57.8" y="1862.5" font-size="30" fill="#231f20" text-anchor="end" font-weight="normal"  stroke="#231f20" stroke-width="0.3">-60</text>
<line x1="63.5" y1="1854.7" x2="267.6" y2="1854.7" stroke="#231f20" stroke-width="2.2" stroke-dasharray="7.5 5.8" stroke-dashoffset="0"/>
<polyline points="63.5,1836.88 64,1836.28 64.5,1838.18 65,1837.41 65.5,1838.31 66,1836.07 66.5,1837.68 67,1837.54 67.5,1837.76 68,1836.24 68.5,1835.16 69,1833.6 69.5,1833.34 70,1831.93 70.5,1833.09 71,1831.04 71.5,1830.6 72,1830.36 72.5,1830.57 73,1828.59 73.5,1827.56 74,1825.22 74.5,1824.94 75,1824.22 75.5,1826.22 76,1827.86 76.5,1826.93 77,1824.43 77.5,1822.07 78,1822.34 78.5,1824.18 79,1825.06 79.5,1825.59 80,1824.72 80.5,1826.37 81,1823.03 81.5,1819.98 82,1817.83 82.5,1821.23 83,1823.53 83.5,1824.53 84,1822.62 84.5,1821.86 85,1820.74 85.5,1823.4 86,1825.98 86.5,1826.23 87,1825.7 87.5,1824.34 88,1825.47 88.5,1823.62 89,1824.04 89.5,1822.84 90,1823.81 90.5,1822.79 91,1822.39 91.5,1822.28 92,1822.35 92.5,1823.06 93,1822.12 93.5,1824.01 94,1823.76 94.5,1825.93 95,1827.53 95.5,1828.93 96,1830.85 96.5,1832.43 97,1834.03 97.5,1830.7 98,1826.73 98.5,1826.37 99,1830.48 99.5,1833.47 100,1834.96 100.5,1832.91 101,1831.72 101.5,1830.51 102,1828.73 102.5,1828.64 103,1828.05 103.5,1828.67 104,1828.78 104.5,1826.89 105,1826.81 105.5,1825.98 106,1823.86 106.5,1821.22 107,1819.19 107.5,1821.26 108,1822.17 108.5,1822.69 109,1821.9 109.5,1822.8 110,1824.09 110.5,1823.72 111,1821.57 111.5,1821.74 112,1822.65 112.5,1825.1 113,1824.6 113.5,1823.9 114,1822.41 114.5,1824.15 115,1827.15 115.5,1830.44 116,1829.91 116.5,1829.3 117,1828.07 117.5,1828.11 118,1827.53 118.5,1827.59 119,1827.97 119.5,1830.68 120,1829.3 120.5,1829.98 121,1828.98 121.5,1828.93 122,1827.74 122.5,1826.22 123,1769.44 123.5,1709.88 124,1702.63 124.5,1699.77 125,1707.91 125.5,1716.23 126,1718.6 126.5,1720.89 127,1720.45 127.5,1720.82 128,1721.17 128.5,1722.36 129,1723.82 129.5,1723.03 130,1721.89 130.5,1722.89 131,1724.79 131.5,1726.15 132,1727.66 132.5,1728.36 133,1728.06 133.5,1726.57 134,1729.24 134.5,1728.95 135,1731.36 135.5,1730.71 136,1732.06 136.5,1729.73 137,1729.9 137.5,1730.58 138,1730.55 138.5,1731.23 139,1731.35 139.5,1732.58 140,1730.65 140.5,1730.23 141,1730.13 141.5,1729.8 142,1730.91 142.5,1732.17 143,1734.06 143.5,1735.02 144,1735.7 144.5,1735.46 145,1733.47 145.5,1732.98 146,1730.26 146.5,1730.28 147,1729.63 147.5,1729.74 148,1732.49 148.5,1731.09 149,1731.46 149.5,1728.94 150,1729.39 150.5,1731.4 151,1732.37 151.5,1734.76 152,1734.84 152.5,1735.49 153,1733.33 153.5,1734.37 154,1733.49 154.5,1732.6 155,1733.81 155.5,1733.72 156,1735 156.5,1732.65 157,1734.93 157.5,1734.66 158,1735.48 158.5,1735.65 159,1739.98 159.5,1740.35 160,1739.98 160.5,1736.89 161,1739.8 161.5,1739.76 162,1740.92 162.5,1738.93 163,1738.21 163.5,1738.47 164,1736.99 164.5,1740.06 165,1740.09 165.5,1741.6 166,1741.42 166.5,1740.35 167,1742.41 167.5,1743.04 168,1743.77 168.5,1743.12 169,1741.39 169.5,1743.56 170,1742.99 170.5,1742.28 171,1742.23 171.5,1742.17 172,1743.7 172.5,1744.37 173,1746.33 173.5,1747.11 174,1744.5 174.5,1744.13 175,1743.27 175.5,1746.5 176,1745.69 176.5,1748 177,1747.58 177.5,1748.06 178,1746.96 178.5,1744.5 179,1745.43 179.5,1745.47 180,1746.51 180.5,1747.31 181,1748.56 181.5,1758.04 182,1765.17 182.5,1773.48 183,1781.76 183.5,1786.17 184,1789.33 184.5,1792 185,1795.34 185.5,1800.31 186,1804.37 186.5,1806.01 187,1808.19 187.5,1812.78 188,1816.75 188.5,1820.11 189,1821.28 189.5,1822.16 190,1823.26 190.5,1824.3 191,1828.07 191.5,1826.11 192,1828.98 192.5,1830.8 193,1834.77 193.5,1836.28 194,1836.44 194.5,1838.98 195,1839.96 195.5,1842.97 196,1844.18 196.5,1845.19 197,1845.34 197.5,1845.49 198,1847.41 198.5,1848.58 199,1850.41 199.5,1850.52 200,1851.03 200.5,1850.97 201,1851.67 201.5,1851.88 202,1854.06 202.5,1853.93 203,1854.9 203.5,1856.33 204,1855.34 204.5,1853.93 205,1850.75 205.5,1849.68 206,1850.6 206.5,1851.9 207,1851.54 207.5,1849.93 208,1848.82 208.5,1851.62 209,1851.15 209.5,1852.02 210,1848.14 210.5,1848.89 211,1850.02 211.5,1850.38 212,1851.93 212.5,1847.94 213,1849.4 213.5,1846.62 214,1848.75 214.5,1848.31 215,1850.5 215.5,1850.66 216,1850.96 216.5,1849.16 217,1849.19 217.5,1847.85 218,1847.55 218.5,1846.08 219,1847.52 219.5,1850.8 220,1851.28 220.5,1852.71 221,1848.62 221.5,1847.8 222,1845.95 222.5,1847.7 223,1849.14 223.5,1850.21 224,1849.06 224.5,1849.26 225,1847.49 225.5,1844.07 226,1841.3 226.5,1840.08 227,1843.29 227.5,1844.81 228,1844.81 228.5,1845.94 229,1843.86 229.5,1843.86 230,1843.09 230.5,1842.61 231,1843.84 231.5,1843.58 232,1844.43 232.5,1842.64 233,1841.1 233.5,1841.02 234,1842.2 234.5,1842.62 235,1840.66 235.5,1837.04 236,1836.84 236.5,1835.05 237,1834.71 237.5,1832.98 238,1835.88 238.5,1839.16 239,1839.9 239.5,1843.91 240,1842.35 240.5,1842.96 241,1839.79 241.5,1839.21 242,1839.13 242.5,1838.43 243,1838.64 243.5,1836.55 244,1835.14 244.5,1835.42 245,1835.74 245.5,1836.34 246,1835.48 246.5,1835.47 247,1834.62 247.5,1834.45 248,1834.72 248.5,1835.95 249,1835.46 249.5,1833.41 250,1830.58 250.5,1830.36 251,1828.98 251.5,1829.05 252,1829.4 252.5,1830.7 253,1830.42 253.5,1830.52 254,1827.64 254.5,1828.2 255,1826.07 255.5,1828.52 256,1829.57 256.5,1831.77 257,1833.58 257.5,1833.11 258,1831.59 258.5,1829.88 259,1829.06 259.5,1826.67 260,1826.26 260.5,1826.89 261,1828.6 261.5,1830.12 262,1827.48 262.5,1826.88 263,1824.63 263.5,1827.65 264,1827.93 264.5,1828.69 265,1825.91 265.5,1825.55 266,1824.62 266.5,1825.31 267,1828.42 267.5,1828.17" fill="none" stroke="#8c8c8c" stroke-width="2" stroke-linejoin="round" />
<polyline points="63.5,1848.78 64,1849.64 64.5,1849.97 65,1852.57 65.5,1853.85 66,1854.67 66.5,1853.35 67,1851.23 67.5,1852.31 68,1852.28 68.5,1853.55 69,1853.02 69.5,1852.41 70,1851.41 70.5,1850.68 71,1850.14 71.5,1848.59 72,1847.67 72.5,1846.25 73,1844.94 73.5,1844.84 74,1846.3 74.5,1845.89 75,1845.07 75.5,1846.99 76,1847 76.5,1847.9 77,1846.85 77.5,1848.26 78,1848.16 78.5,1846.95 79,1848.83 79.5,1850.11 80,1850.1 80.5,1848.57 81,1847.2 81.5,1847.64 82,1848.39 82.5,1847.16 83,1848.06 83.5,1847.15 84,1847.85 84.5,1847.47 85,1848.4 85.5,1847.22 86,1847.26 86.5,1846.94 87,1847.52 87.5,1848.72 88,1847.57 88.5,1847.61 89,1846.94 89.5,1847.49 90,1849.85 90.5,1850.13 91,1852.94 91.5,1850.83 92,1850 92.5,1849.91 93,1850.2 93.5,1852.47 94,1850.66 94.5,1852.23 95,1852.61 95.5,1854.01 96,1853.29 96.5,1852.33 97,1854.17 97.5,1856.14 98,1857.98 98.5,1857.61 99,1858.37 99.5,1858.16 100,1857.47 100.5,1857.06 101,1856.75 101.5,1855.14 102,1853.94 102.5,1854.04 103,1857.2 103.5,1855.2 104,1853.69 104.5,1852.24 105,1854.2 105.5,1853.3 106,1853.15 106.5,1851.9 107,1852.43 107.5,1851.31 108,1851.91 108.5,1851.47 109,1852.16 109.5,1851.62 110,1852.73 110.5,1853.92 111,1853.77 111.5,1851.99 112,1849.96 112.5,1849.35 113,1848.28 113.5,1848.37 114,1848.25 114.5,1850.6 115,1850.29 115.5,1851.46 116,1851.12 116.5,1850.55 117,1849.12 117.5,1847.64 118,1847.48 118.5,1848.39 119,1848.19 119.5,1848.01 120,1846.21 120.5,1847.88 121,1847.72 121.5,1847.73 122,1844.89 122.5,1819.41 123,1775.79 123.5,1752.23 124,1739.1 124.5,1736.15 125,1735.62 125.5,1739.05 126,1736.01 126.5,1733.11 127,1733.36 127.5,1728.68 128,1729.74 128.5,1739.25 129,1738.56 129.5,1741.5 130,1746 130.5,1741.43 131,1742.88 131.5,1742.1 132,1740.09 132.5,1744.07 133,1742.42 133.5,1738.82 134,1737.97 134.5,1739.07 135,1750.94 135.5,1753.67 136,1742.68 136.5,1734.48 137,1738.33 137.5,1744.82 138,1741.46 138.5,1742.98 139,1745.58 139.5,1743.72 140,1744.47 140.5,1745.93 141,1743.08 141.5,1738.61 142,1743.91 142.5,1745.81 143,1739.22 143.5,1741.01 144,1743.45 144.5,1743.74 145,1753.99 145.5,1757.97 146,1748.21 146.5,1740.05 147,1741.24 147.5,1741.98 148,1742.64 148.5,1746.02 149,1747.17 149.5,1746.38 150,1740.86 150.5,1741.18 151,1745.8 151.5,1747.5 152,1751.27 152.5,1748.55 153,1745.56 153.5,1747.43 154,1765 154.5,1765 155,1749.04 155.5,1751.46 156,1745.26 156.5,1742.99 157,1748.02 157.5,1739.53 158,1739.54 158.5,1743 159,1744.96 159.5,1747.8 160,1742.88 160.5,1739.3 161,1742.09 161.5,1742.4 162,1740.36 162.5,1743.3 163,1744.83 163.5,1736.9 164,1736.17 164.5,1738.41 165,1736.2 165.5,1738.48 166,1740.35 166.5,1738.31 167,1737.14 167.5,1738.17 168,1734.81 168.5,1732.15 169,1737.45 169.5,1736.32 170,1732.39 170.5,1733.07 171,1737.9 171.5,1739.03 172,1739.83 172.5,1740.25 173,1738.12 173.5,1740.32 174,1738.6 174.5,1735.28 175,1739.55 175.5,1741.43 176,1740.46 176.5,1743.55 177,1738.5 177.5,1740.3 178,1744.8 178.5,1740.89 179,1739.77 179.5,1739.54 180,1741.48 180.5,1750.31 181,1749.15 181.5,1758.65 182,1765.7 182.5,1775 183,1784.35 183.5,1793.17 184,1801.94 184.5,1804.53 185,1807.86 185.5,1808.22 186,1812.17 186.5,1814.18 187,1816.78 187.5,1818.97 188,1820.25 188.5,1822.63 189,1822.59 189.5,1825.28 190,1825.85 190.5,1829.34 191,1830.47 191.5,1832.74 192,1831.24 192.5,1829.96 193,1829.86 193.5,1833.32 194,1834.83 194.5,1837.2 195,1837.05 195.5,1837.79 196,1836.78 196.5,1837.22 197,1837.93 197.5,1838.13 198,1836.6 198.5,1837.24 199,1837.85 199.5,1839.94 200,1840.42 200.5,1842 201,1841.01 201.5,1843.54 202,1842.6 202.5,1842.88 203,1839.97 203.5,1838.6 204,1838.06 204.5,1839.21 205,1840.06 205.5,1841.89 206,1840.26 206.5,1839.76 207,1839.41 207.5,1841.54 208,1842.24 208.5,1843.17 209,1844.32 209.5,1845.94 210,1843.8 210.5,1843.83 211,1843.37 211.5,1844.62 212,1844.04 212.5,1843.81 213,1845.62 213.5,1844.71 214,1846.6 214.5,1846.05 215,1848.55 215.5,1848.06 216,1848.2 216.5,1846.14 217,1845.48 217.5,1844.1 218,1845.27 218.5,1844.92 219,1847.04 219.5,1846.26 220,1845.79 220.5,1843.72 221,1845.02 221.5,1845.76 222,1847.04 222.5,1844.43 223,1845.39 223.5,1845.62 224,1847.71 224.5,1848.1 225,1846.44 225.5,1844.25 226,1842.11 226.5,1843.8 227,1845.71 227.5,1847.67 228,1846.21 228.5,1846.51 229,1844.14 229.5,1844.99 230,1843.1 230.5,1844.09 231,1844.24 231.5,1846 232,1846.17 232.5,1845.1 233,1845.47 233.5,1846.54 234,1846.13 234.5,1845.01 235,1843.7 235.5,1845.41 236,1845.68 236.5,1846.41 237,1845.66 237.5,1844.81 238,1845.56 238.5,1845.97 239,1844.35 239.5,1843.02 240,1842.98 240.5,1844.61 241,1844.18 241.5,1843.41 242,1844.56 242.5,1844.63 243,1845.7 243.5,1846.78 244,1848.72 244.5,1849.43 245,1848 245.5,1848.43 246,1847.7 246.5,1848.96 247,1846.92 247.5,1848.31 248,1847.09 248.5,1848.41 249,1848.42 249.5,1849.18 250,1848.89 250.5,1847.8 251,1848.95 251.5,1850.58 252,1851.47 252.5,1849.88 253,1848.5 253.5,1848.58 254,1850 254.5,1849.79 255,1848.56 255.5,1848.6 256,1850.44 256.5,1851.29 257,1849.55 257.5,1850.13 258,1850.18 258.5,1851.6 259,1847.78 259.5,1846.85 260,1846.01 260.5,1848.21 261,1847.85 261.5,1846.34 262,1844.24 262.5,1844.53 263,1846.1 263.5,1847.74 264,1846.24 264.5,1845.07 265,1844.54 265.5,1846.98 266,1848.01 266.5,1848.17 267,1845.39 267.5,1845.71" fill="none" stroke="#231f20" stroke-width="2" stroke-linejoin="round" />
<text x="77" y="1893" font-size="30" fill="#231f20" text-anchor="start" stroke="#231f20" stroke-width="0.3">V<tspan font-size="18" dy="9" fill="#231f20" stroke="#231f20" stroke-width="0.3">m</tspan><tspan dy="-9"> (ON SAC)</tspan></text>
<line x1="396.8" y1="1657" x2="396.8" y2="1861.8" stroke="#231f20" stroke-width="2.2" />
<line x1="395.7" y1="1860.7" x2="600.3" y2="1860.7" stroke="#231f20" stroke-width="2.2" />
<line x1="393.2" y1="1657.5" x2="396.8" y2="1657.5" stroke="#231f20" stroke-width="1.8" />
<line x1="393.2" y1="1725.5" x2="396.8" y2="1725.5" stroke="#231f20" stroke-width="1.8" />
<line x1="393.2" y1="1793" x2="396.8" y2="1793" stroke="#231f20" stroke-width="1.8" />
<line x1="393.2" y1="1860.7" x2="396.8" y2="1860.7" stroke="#231f20" stroke-width="1.8" />
<line x1="447.6" y1="1860.7" x2="447.6" y2="1864.9" stroke="#231f20" stroke-width="1.8" />
<line x1="548.9" y1="1860.7" x2="548.9" y2="1864.9" stroke="#231f20" stroke-width="1.8" />
<text x="389.5" y="1668.5" font-size="30" fill="#231f20" text-anchor="end" font-weight="normal"  stroke="#231f20" stroke-width="0.3">-40</text>
<text x="389.5" y="1869" font-size="30" fill="#231f20" text-anchor="end" font-weight="normal"  stroke="#231f20" stroke-width="0.3">-55</text>
<line x1="447.6" y1="1658" x2="548.9" y2="1658" stroke="#231f20" stroke-width="3.6" />
<text x="497.5" y="1653" font-size="30" fill="#231f20" text-anchor="middle" font-weight="normal"  stroke="#231f20" stroke-width="0.3">n.s.</text>
<polygon points="447,1714.7 453.15,1717.25 455.7,1723.4 453.15,1729.55 447,1732.1 440.85,1729.55 438.3,1723.4 440.85,1717.25" fill="none" stroke="#231f20" stroke-width="1.6"/>
<polygon points="447,1721.9 453.15,1724.45 455.7,1730.6 453.15,1736.75 447,1739.3 440.85,1736.75 438.3,1730.6 440.85,1724.45" fill="none" stroke="#231f20" stroke-width="1.6"/>
<polygon points="447,1731 453.15,1733.55 455.7,1739.7 453.15,1745.85 447,1748.4 440.85,1745.85 438.3,1739.7 440.85,1733.55" fill="none" stroke="#231f20" stroke-width="1.6"/>
<polygon points="447,1738 453.15,1740.55 455.7,1746.7 453.15,1752.85 447,1755.4 440.85,1752.85 438.3,1746.7 440.85,1740.55" fill="none" stroke="#231f20" stroke-width="1.6"/>
<polygon points="447,1744.9 453.15,1747.45 455.7,1753.6 453.15,1759.75 447,1762.3 440.85,1759.75 438.3,1753.6 440.85,1747.45" fill="none" stroke="#231f20" stroke-width="1.6"/>
<polygon points="447,1787.3 453.15,1789.85 455.7,1796 453.15,1802.15 447,1804.7 440.85,1802.15 438.3,1796 440.85,1789.85" fill="none" stroke="#231f20" stroke-width="1.6"/>
<polygon points="447,1787.9 453.15,1790.45 455.7,1796.6 453.15,1802.75 447,1805.3 440.85,1802.75 438.3,1796.6 440.85,1790.45" fill="none" stroke="#231f20" stroke-width="1.6"/>
<polygon points="548.9,1694.7 555.05,1697.25 557.6,1703.4 555.05,1709.55 548.9,1712.1 542.75,1709.55 540.2,1703.4 542.75,1697.25" fill="none" stroke="#8c8c8c" stroke-width="1.5"/>
<polygon points="548.9,1716.2 555.05,1718.75 557.6,1724.9 555.05,1731.05 548.9,1733.6 542.75,1731.05 540.2,1724.9 542.75,1718.75" fill="none" stroke="#8c8c8c" stroke-width="1.5"/>
<polygon points="548.9,1749.1 555.05,1751.65 557.6,1757.8 555.05,1763.95 548.9,1766.5 542.75,1763.95 540.2,1757.8 542.75,1751.65" fill="none" stroke="#8c8c8c" stroke-width="1.5"/>
<polygon points="548.9,1778.2 555.05,1780.75 557.6,1786.9 555.05,1793.05 548.9,1795.6 542.75,1793.05 540.2,1786.9 542.75,1780.75" fill="none" stroke="#8c8c8c" stroke-width="1.5"/>
<polygon points="548.9,1786.3 555.05,1788.85 557.6,1795 555.05,1801.15 548.9,1803.7 542.75,1801.15 540.2,1795 542.75,1788.85" fill="none" stroke="#8c8c8c" stroke-width="1.5"/>
<polygon points="548.9,1798.4 555.05,1800.95 557.6,1807.1 555.05,1813.25 548.9,1815.8 542.75,1813.25 540.2,1807.1 542.75,1800.95" fill="none" stroke="#8c8c8c" stroke-width="1.5"/>
<line x1="447" y1="1723.4" x2="548.9" y2="1703.4" stroke="#c4c4c4" stroke-width="1.2" />
<line x1="447" y1="1730.6" x2="548.9" y2="1724.9" stroke="#c4c4c4" stroke-width="1.2" />
<line x1="447" y1="1742" x2="548.9" y2="1757.8" stroke="#c4c4c4" stroke-width="1.2" />
<line x1="447" y1="1754" x2="548.9" y2="1786.9" stroke="#c4c4c4" stroke-width="1.2" />
<line x1="447" y1="1796" x2="548.9" y2="1795" stroke="#c4c4c4" stroke-width="1.2" />
<line x1="447" y1="1796.6" x2="548.9" y2="1807.1" stroke="#c4c4c4" stroke-width="1.2" />
<line x1="421.9" y1="1745" x2="421.9" y2="1770.9" stroke="#231f20" stroke-width="2" />
<line x1="412" y1="1745" x2="431.8" y2="1745" stroke="#231f20" stroke-width="2" />
<line x1="412" y1="1770.9" x2="431.8" y2="1770.9" stroke="#231f20" stroke-width="2" />
<circle cx="421.9" cy="1758" r="4.3" stroke="#231f20" stroke-width="0" fill="#231f20"/>
<line x1="574" y1="1745.8" x2="574" y2="1779.3" stroke="#8c8c8c" stroke-width="2" />
<line x1="564" y1="1745.8" x2="584" y2="1745.8" stroke="#8c8c8c" stroke-width="2" />
<line x1="564" y1="1779.3" x2="584" y2="1779.3" stroke="#8c8c8c" stroke-width="2" />
<circle cx="574" cy="1762.7" r="4.3" stroke="#8c8c8c" stroke-width="0" fill="#8c8c8c"/>
<text x="0" y="0" font-size="30" fill="#231f20" text-anchor="start" transform="translate(345,1813) rotate(-90)" stroke="#231f20" stroke-width="0.3">V<tspan font-size="18.5" dy="9" fill="#231f20" stroke="#231f20" stroke-width="0.3">m</tspan><tspan dy="-9"> (mV)</tspan></text>
<text x="447.6" y="1896.6" font-size="30" fill="#231f20" text-anchor="middle" font-weight="normal"  stroke="#231f20" stroke-width="0.3">ctrl</text>
<text x="519.4" y="1896.6" font-size="30" fill="#231f20" stroke="#231f20" stroke-width="0.3">Cd<tspan font-size="17" dy="-10.8">2+</tspan></text>
<text x="669.5" y="986" font-size="32" fill="#231f20" text-anchor="start" font-weight="bold"  stroke="#231f20" stroke-width="0.3">D</text>
<text x="770" y="991.8" font-size="29" fill="#25a8e0" text-anchor="start" font-weight="normal"  stroke="#25a8e0" stroke-width="0.3">500 ms</text>
<rect x="762.4" y="999" width="109.6" height="7.8" fill="#25a8e0"/>
<line x1="763" y1="1203.8" x2="927.6" y2="1203.8" stroke="#231f20" stroke-width="2.2" stroke-dasharray="7.5 5.8" stroke-dashoffset="0"/>
<polyline points="706.5,1204.71 707,1204.81 707.5,1204.21 708,1203.47 708.5,1203.39 709,1203.34 709.5,1204.08 710,1204.01 710.5,1203.92 711,1203.69 711.5,1203.89 712,1204.26 712.5,1203.84 713,1203.66 713.5,1203.73 714,1204.38 714.5,1204.56 715,1204.05 715.5,1203.53 716,1203.48 716.5,1203.17 717,1203.67 717.5,1203.1 718,1203.61 718.5,1203.87 719,1204.18 719.5,1204.23 720,1203.77 720.5,1203.75 721,1203.63 721.5,1203.61 722,1204.5 722.5,1205.12 723,1205.19 723.5,1204.44 724,1204.4 724.5,1204.47 725,1204.03 725.5,1203.91 726,1203.68 726.5,1204.71 727,1204.42 727.5,1204.9 728,1203.75 728.5,1203.96 729,1203.18 729.5,1203.29 730,1203.48 730.5,1203.37 731,1203.67 731.5,1203.07 732,1203.62 732.5,1203.79 733,1203.21 733.5,1203.33 734,1202.97 734.5,1204.64 735,1204.71 735.5,1205.33 736,1203.6 736.5,1203.94 737,1203.59 737.5,1204.01 738,1203.44 738.5,1203.93 739,1203.84 739.5,1204.13 740,1203.49 740.5,1203.9 741,1203.32 741.5,1203.12 742,1203.42 742.5,1203.68 743,1204.41 743.5,1204.88 744,1204.65 744.5,1204.67 745,1203.67 745.5,1204.04 746,1203.19 746.5,1203.43 747,1203.41 747.5,1203.55 748,1203.96 748.5,1203.16 749,1203.17 749.5,1203.18 750,1204.33 750.5,1204.16 751,1204.56 751.5,1204.08 752,1205.4 752.5,1204.68 753,1204.38 753.5,1203.63 754,1203.32 754.5,1203.57 755,1203.42 755.5,1204.35 756,1204.43 756.5,1203.97 757,1202.95 757.5,1202.45 758,1202.13 758.5,1201.81 759,1203 759.5,1203.47 760,1204.81 760.5,1203.7 761,1203.86 761.5,1202.7 762,1203.48 762.5,1203.49 763,1194.26 763.5,1180.32 764,1167.8 764.5,1154.55 765,1141.06 765.5,1127.56 766,1113.4 766.5,1100.36 767,1087.05 767.5,1074.6 768,1062.4 768.5,1062.22 769,1063.89 769.5,1064.35 770,1065.22 770.5,1065.18 771,1065.67 771.5,1067.73 772,1068.39 772.5,1068.94 773,1067.83 773.5,1069.33 774,1070.68 774.5,1072.12 775,1072.9 775.5,1072.69 776,1073.33 776.5,1072.72 777,1073.84 777.5,1074.23 778,1074.76 778.5,1074.96 779,1074.37 779.5,1074.47 780,1073.94 780.5,1074.32 781,1074.79 781.5,1075.66 782,1077.13 782.5,1077.82 783,1077.86 783.5,1077.76 784,1078.07 784.5,1078.74 785,1078.92 785.5,1079.47 786,1079.43 786.5,1079.44 787,1079.89 787.5,1080.27 788,1080.51 788.5,1080.49 789,1081.04 789.5,1081.23 790,1081.54 790.5,1081.58 791,1081.38 791.5,1081.61 792,1081.45 792.5,1083.38 793,1083.41 793.5,1083.82 794,1083.1 794.5,1083.73 795,1084.6 795.5,1084.54 796,1084.53 796.5,1084.35 797,1084.4 797.5,1083.51 798,1083.37 798.5,1082.43 799,1082.8 799.5,1083.45 800,1084.66 800.5,1085.11 801,1084.33 801.5,1084.02 802,1083.86 802.5,1083.75 803,1083.28 803.5,1084.06 804,1085.36 804.5,1086.1 805,1086.07 805.5,1085 806,1085.47 806.5,1084.69 807,1085.62 807.5,1085.57 808,1085.68 808.5,1085.61 809,1086.31 809.5,1086.88 810,1086.71 810.5,1086.11 811,1086.22 811.5,1086.79 812,1087.35 812.5,1086.51 813,1086.55 813.5,1086 814,1087.55 814.5,1087.3 815,1087.81 815.5,1086.98 816,1086.31 816.5,1086.06 817,1086.69 817.5,1087.55 818,1087.81 818.5,1087.55 819,1087.58 819.5,1086.97 820,1086.85 820.5,1085.98 821,1086.31 821.5,1086.28 822,1086.95 822.5,1087.41 823,1087.59 823.5,1086.44 824,1086.59 824.5,1086.65 825,1088.15 825.5,1087.3 826,1087.6 826.5,1087.92 827,1087.61 827.5,1087.79 828,1086.83 828.5,1087.18 829,1086.71 829.5,1087.94 830,1087.54 830.5,1087.3 831,1086.5 831.5,1087.5 832,1087.72 832.5,1087.89 833,1087.23 833.5,1087.6 834,1087.87 834.5,1087.85 835,1087.24 835.5,1086.99 836,1087.58 836.5,1088.12 837,1087.48 837.5,1087.2 838,1086.8 838.5,1087.85 839,1087.98 839.5,1087.98 840,1087.08 840.5,1087.13 841,1087.82 841.5,1087.57 842,1087.62 842.5,1087.36 843,1088.79 843.5,1089.02 844,1089.37 844.5,1088.6 845,1087.77 845.5,1086.66 846,1086.36 846.5,1086.98 847,1087.44 847.5,1087.55 848,1088.23 848.5,1087.39 849,1087.16 849.5,1087.4 850,1088.49 850.5,1088.64 851,1087.24 851.5,1087.44 852,1088 852.5,1088.78 853,1087.94 853.5,1087.71 854,1087.3 854.5,1088.01 855,1087.3 855.5,1087.64 856,1088.08 856.5,1088.18 857,1088.3 857.5,1088.36 858,1089.27 858.5,1088.9 859,1088.29 859.5,1087.72 860,1087.83 860.5,1087.36 861,1087.6 861.5,1087.18 862,1087.01 862.5,1087.6 863,1087.19 863.5,1088.5 864,1087.02 864.5,1088.15 865,1087.51 865.5,1087.74 866,1087.16 866.5,1086.67 867,1086.94 867.5,1087.5 868,1087.44 868.5,1087.05 869,1087.15 869.5,1087.78 870,1088.56 870.5,1088 871,1088.12 871.5,1088.27 872,1088.34 872.5,1094.3 873,1108.79 873.5,1121.19 874,1131.38 874.5,1140.26 875,1146.5 875.5,1152 876,1156.07 876.5,1160.01 877,1163.3 877.5,1165.29 878,1167.67 878.5,1168.83 879,1170.33 879.5,1171.1 880,1172.1 880.5,1173.87 881,1175.06 881.5,1176.37 882,1176.76 882.5,1176.99 883,1178.24 883.5,1179.13 884,1179.49 884.5,1180 885,1179.87 885.5,1181.24 886,1181.14 886.5,1181.01 887,1180.17 887.5,1179.9 888,1180.28 888.5,1181.58 889,1182.52 889.5,1183.06 890,1183.43 890.5,1182.63 891,1182.23 891.5,1181.36 892,1182.31 892.5,1182.3 893,1182.7 893.5,1183.4 894,1184.64 894.5,1185.67 895,1185.05 895.5,1184.39 896,1184.03 896.5,1184.04 897,1184.57 897.5,1184.55 898,1185.28 898.5,1186.04 899,1186.8 899.5,1187.1 900,1186.57 900.5,1186.41 901,1186.01 901.5,1185.85 902,1185.09 902.5,1185.14 903,1185.83 903.5,1186.85 904,1187.22 904.5,1187.36 905,1186.97 905.5,1187.74 906,1187.68 906.5,1187.89 907,1187.59 907.5,1187.57 908,1187.94 908.5,1188.37 909,1188.21 909.5,1188.06 910,1187.49 910.5,1187.93 911,1188.91 911.5,1189.44 912,1190.04 912.5,1188.34 913,1188.26 913.5,1187.94 914,1189.28 914.5,1189.17 915,1188.87 915.5,1189.02 916,1189.02 916.5,1189.36 917,1188.91 917.5,1188.98 918,1189.27 918.5,1189.91 919,1190.05 919.5,1189.94 920,1189.6 920.5,1190.04 921,1189.89 921.5,1189.92 922,1189.67 922.5,1189.73 923,1190.03 923.5,1190.71 924,1190.94 924.5,1191.48 925,1191.25 925.5,1191.39 926,1191.13 926.5,1191.4 927,1191.04 927.5,1191.1" fill="none" stroke="#d1d3d4" stroke-width="2" stroke-linejoin="round" />
<polyline points="706.5,1202.29 707,1202.96 707.5,1203.37 708,1204.32 708.5,1203.56 709,1204.08 709.5,1204.4 710,1204.69 710.5,1203.91 711,1203.35 711.5,1203.06 712,1203.31 712.5,1203.2 713,1203.8 713.5,1203.63 714,1203.74 714.5,1204.16 715,1204 715.5,1203.47 716,1202.97 716.5,1202.38 717,1203.17 717.5,1203.44 718,1204.37 718.5,1204.26 719,1202.95 719.5,1203.16 720,1203.32 720.5,1203.7 721,1204.29 721.5,1203.59 722,1203.37 722.5,1201.76 723,1202.3 723.5,1203.17 724,1204.15 724.5,1203.99 725,1203.49 725.5,1203.67 726,1203.42 726.5,1203.25 727,1203.49 727.5,1203.96 728,1204.69 728.5,1204.35 729,1204.03 729.5,1203.59 730,1203.6 730.5,1203.58 731,1203.96 731.5,1203.64 732,1203.39 732.5,1203.66 733,1203.14 733.5,1203.76 734,1203.37 734.5,1204.48 735,1203.89 735.5,1203.63 736,1203.04 736.5,1203.6 737,1204.21 737.5,1204.39 738,1204.32 738.5,1204.39 739,1205.16 739.5,1204.57 740,1204.12 740.5,1203.54 741,1204.16 741.5,1204.79 742,1204.31 742.5,1203.84 743,1203.59 743.5,1202.54 744,1202.77 744.5,1203.42 745,1204.63 745.5,1204.99 746,1203.55 746.5,1203.53 747,1203.32 747.5,1204.53 748,1204.11 748.5,1202.97 749,1202.34 749.5,1203.45 750,1204.35 750.5,1203.38 751,1202.25 751.5,1202.73 752,1203.28 752.5,1203.76 753,1202.55 753.5,1202.57 754,1202.9 754.5,1203.8 755,1203.58 755.5,1203.7 756,1204.24 756.5,1204.48 757,1203.7 757.5,1203.83 758,1203.79 758.5,1204.04 759,1204.27 759.5,1204.59 760,1204.45 760.5,1202.81 761,1202.74 761.5,1202.92 762,1203.51 762.5,1203.89 763,1180.57 763.5,1151.66 764,1122.41 764.5,1094.45 765,1065.97 765.5,1037.29 766,1036.93 766.5,1038.67 767,1039.62 767.5,1041.12 768,1040.88 768.5,1042.03 769,1042 769.5,1043.78 770,1045.06 770.5,1045.87 771,1046.32 771.5,1046.37 772,1046.34 772.5,1047.05 773,1047.52 773.5,1048.51 774,1048.95 774.5,1049.09 775,1049.23 775.5,1048.78 776,1049.54 776.5,1051.01 777,1051.6 777.5,1051.68 778,1050.71 778.5,1051.17 779,1051.1 779.5,1051.43 780,1051.89 780.5,1052.81 781,1053.81 781.5,1053.87 782,1054.3 782.5,1054.39 783,1055.62 783.5,1054.66 784,1056.08 784.5,1055.42 785,1055.67 785.5,1054.09 786,1054.75 786.5,1055.83 787,1056.81 787.5,1056.83 788,1056.1 788.5,1055.83 789,1054.71 789.5,1054.96 790,1055.44 790.5,1055.75 791,1057.28 791.5,1057.66 792,1058.09 792.5,1057.48 793,1057.28 793.5,1057.82 794,1057.85 794.5,1057.59 795,1057.73 795.5,1057.8 796,1058.2 796.5,1058.44 797,1058.43 797.5,1058.72 798,1059 798.5,1058.4 799,1057.72 799.5,1058.08 800,1059.33 800.5,1059.96 801,1059.26 801.5,1058.99 802,1059.1 802.5,1058.59 803,1058.31 803.5,1057.45 804,1057.96 804.5,1057.99 805,1059.38 805.5,1058.69 806,1058.56 806.5,1058.14 807,1059.37 807.5,1059.93 808,1059.23 808.5,1058.91 809,1058.36 809.5,1059.38 810,1059.4 810.5,1059.63 811,1059.17 811.5,1058.68 812,1058.91 812.5,1058.37 813,1059.03 813.5,1058.5 814,1059.52 814.5,1059.47 815,1060.63 815.5,1059.15 816,1059.74 816.5,1059.29 817,1060.39 817.5,1060.76 818,1059.78 818.5,1059.75 819,1059.34 819.5,1060.23 820,1059.98 820.5,1059.72 821,1059.28 821.5,1059.3 822,1058.74 822.5,1059.38 823,1059.66 823.5,1061.04 824,1060.95 824.5,1060.18 825,1059.43 825.5,1058.6 826,1059.12 826.5,1058.83 827,1058.83 827.5,1058.73 828,1058.37 828.5,1058.91 829,1059.09 829.5,1059.33 830,1060.01 830.5,1060.27 831,1060.5 831.5,1060.24 832,1060.8 832.5,1061.22 833,1060.28 833.5,1059.7 834,1059.42 834.5,1060.29 835,1060 835.5,1059.69 836,1058.88 836.5,1058.78 837,1058.24 837.5,1059.17 838,1059.1 838.5,1059.19 839,1058.76 839.5,1059.03 840,1059.13 840.5,1059.15 841,1058.83 841.5,1059.34 842,1059.16 842.5,1059.52 843,1059.12 843.5,1058.84 844,1058.85 844.5,1058.32 845,1059.21 845.5,1058.89 846,1060.46 846.5,1060.15 847,1060.3 847.5,1059.13 848,1059.05 848.5,1059.29 849,1059.72 849.5,1059.86 850,1059.7 850.5,1060 851,1059.3 851.5,1059.15 852,1058.91 852.5,1058.9 853,1058.99 853.5,1059.38 854,1059.76 854.5,1059.53 855,1059.34 855.5,1058.79 856,1058.85 856.5,1058.81 857,1058.96 857.5,1059.2 858,1058.7 858.5,1059.71 859,1058.97 859.5,1058.76 860,1057.93 860.5,1058.7 861,1059.16 861.5,1059.48 862,1059.92 862.5,1059.96 863,1059.21 863.5,1057.96 864,1057.43 864.5,1057.75 865,1058.18 865.5,1058.85 866,1058.8 866.5,1059.46 867,1059.49 867.5,1059.77 868,1059.05 868.5,1059.1 869,1058.72 869.5,1059.14 870,1058.69 870.5,1059.61 871,1059.55 871.5,1059.43 872,1059.31 872.5,1067.2 873,1085.47 873.5,1100.01 874,1112.58 874.5,1121.97 875,1130.45 875.5,1137.1 876,1143.89 876.5,1149.85 877,1154.32 877.5,1157.95 878,1160.27 878.5,1162.32 879,1164.3 879.5,1165.49 880,1167.3 880.5,1168.63 881,1169.64 881.5,1170.57 882,1171.39 882.5,1172.93 883,1173.83 883.5,1174.38 884,1173.73 884.5,1174.13 885,1174.47 885.5,1175.12 886,1175.81 886.5,1176.09 887,1176.9 887.5,1177.44 888,1178.16 888.5,1177.79 889,1177.25 889.5,1177.19 890,1177.84 890.5,1179.22 891,1179.69 891.5,1179.69 892,1178.72 892.5,1177.91 893,1178.63 893.5,1178.9 894,1179.35 894.5,1178.84 895,1179.68 895.5,1179.83 896,1180.17 896.5,1179.15 897,1179.82 897.5,1180.49 898,1181.79 898.5,1182.4 899,1182.56 899.5,1182.25 900,1181.1 900.5,1181.21 901,1181.66 901.5,1182.62 902,1181.88 902.5,1182.4 903,1182.71 903.5,1183.52 904,1183 904.5,1182.04 905,1182.48 905.5,1182.58 906,1183.06 906.5,1183.9 907,1184.84 907.5,1185.77 908,1185.02 908.5,1183.94 909,1183.73 909.5,1184.06 910,1184.66 910.5,1184.77 911,1184.75 911.5,1184.41 912,1184.89 912.5,1185.35 913,1185.76 913.5,1185.2 914,1185.79 914.5,1186.56 915,1185.95 915.5,1185.09 916,1184.24 916.5,1184.94 917,1184.78 917.5,1185.33 918,1185.75 918.5,1185.57 919,1185.17 919.5,1184.42 920,1185.02 920.5,1185.69 921,1187.03 921.5,1187.57 922,1187.57 922.5,1187.1 923,1187.67 923.5,1187.3 924,1186.96 924.5,1185.9 925,1186.46 925.5,1187.7 926,1187.76 926.5,1187.04 927,1186.84 927.5,1186.91" fill="none" stroke="#a7a9ac" stroke-width="2" stroke-linejoin="round" />
<polyline points="706.5,1203.69 707,1202.86 707.5,1202.54 708,1203.2 708.5,1203.72 709,1203.32 709.5,1203.8 710,1204.13 710.5,1204.5 711,1204.6 711.5,1204.47 712,1204.1 712.5,1203.79 713,1203.21 713.5,1203.92 714,1203.75 714.5,1204.06 715,1203.43 715.5,1203.94 716,1203.96 716.5,1204.06 717,1203.42 717.5,1203.7 718,1204.02 718.5,1204.33 719,1204.29 719.5,1205.01 720,1204.68 720.5,1204.29 721,1203.1 721.5,1203.51 722,1204.18 722.5,1204.46 723,1203.87 723.5,1203.08 724,1203.39 724.5,1204.03 725,1204.58 725.5,1204.05 726,1203.84 726.5,1203.67 727,1204.03 727.5,1204.29 728,1204.33 728.5,1204.52 729,1204.19 729.5,1204.22 730,1204.2 730.5,1203.58 731,1203.34 731.5,1202.89 732,1203.22 732.5,1203.24 733,1204.04 733.5,1203.94 734,1204.45 734.5,1203.16 735,1203.38 735.5,1203.05 736,1203.97 736.5,1204.39 737,1204.65 737.5,1204.27 738,1203.79 738.5,1203.82 739,1203.88 739.5,1203.55 740,1202.75 740.5,1202.45 741,1203.17 741.5,1203.69 742,1204.34 742.5,1203.96 743,1203.97 743.5,1203.94 744,1203.99 744.5,1204.11 745,1203.59 745.5,1203.57 746,1203.23 746.5,1203.01 747,1203.36 747.5,1203.32 748,1203.81 748.5,1203.81 749,1204.18 749.5,1204.44 750,1204.21 750.5,1203.86 751,1203.56 751.5,1202.91 752,1202.5 752.5,1202 753,1202.28 753.5,1203.02 754,1203.19 754.5,1203.44 755,1203.81 755.5,1204.03 756,1204.48 756.5,1203.58 757,1203.64 757.5,1202.95 758,1203.2 758.5,1203.62 759,1203.3 759.5,1203.62 760,1203.37 760.5,1203.83 761,1203.07 761.5,1203 762,1203.03 762.5,1203.71 763,1180.89 763.5,1153.25 764,1124.56 764.5,1095.64 765,1066.56 765.5,1038.25 766,1039.21 766.5,1040.81 767,1041.83 767.5,1042.79 768,1042.85 768.5,1043.28 769,1043.11 769.5,1044.19 770,1044.62 770.5,1045.94 771,1046.66 771.5,1047.25 772,1047.18 772.5,1047.96 773,1049.44 773.5,1051.17 774,1052.72 774.5,1053.01 775,1052.25 775.5,1050.63 776,1050.98 776.5,1051.43 777,1052.49 777.5,1052.49 778,1053.09 778.5,1054.01 779,1054.62 779.5,1054.9 780,1054.32 780.5,1053.84 781,1053.95 781.5,1054.59 782,1056.2 782.5,1056.67 783,1057.29 783.5,1056.56 784,1056.21 784.5,1055.6 785,1055.67 785.5,1057.17 786,1057.38 786.5,1058.16 787,1057.06 787.5,1057.9 788,1057.84 788.5,1058.26 789,1057.97 789.5,1057.66 790,1058 790.5,1057.93 791,1057.79 791.5,1057.17 792,1057.51 792.5,1058.72 793,1059.37 793.5,1059.32 794,1058.86 794.5,1059.39 795,1059.58 795.5,1059.36 796,1059.33 796.5,1059.46 797,1060.29 797.5,1059.96 798,1059.34 798.5,1058.2 799,1058.83 799.5,1060.06 800,1060.57 800.5,1059.78 801,1059.7 801.5,1059.35 802,1059.17 802.5,1058.86 803,1059.17 803.5,1059.55 804,1059.24 804.5,1059.56 805,1060.14 805.5,1060.26 806,1060.4 806.5,1059.01 807,1058.97 807.5,1058.38 808,1058.72 808.5,1058.4 809,1058.61 809.5,1059.48 810,1059.31 810.5,1059.46 811,1058.9 811.5,1059.31 812,1059.7 812.5,1060.12 813,1060.79 813.5,1060.33 814,1059.83 814.5,1059.2 815,1059.36 815.5,1059.71 816,1059.36 816.5,1059.3 817,1059.32 817.5,1060.77 818,1061.5 818.5,1061.05 819,1059.92 819.5,1058.56 820,1058.66 820.5,1058.9 821,1059.98 821.5,1059.92 822,1059.52 822.5,1058.16 823,1058.38 823.5,1058.21 824,1058.86 824.5,1058.57 825,1058.95 825.5,1058.45 826,1058.2 826.5,1059.1 827,1059.28 827.5,1059.42 828,1059.3 828.5,1060.99 829,1060.95 829.5,1060.05 830,1059.01 830.5,1060.17 831,1059.91 831.5,1059.67 832,1059.27 832.5,1059.84 833,1059.78 833.5,1059.4 834,1058.66 834.5,1058.71 835,1058.65 835.5,1059.29 836,1059.15 836.5,1059.44 837,1059.75 837.5,1060.03 838,1059.97 838.5,1059.57 839,1059.5 839.5,1059.06 840,1059.16 840.5,1059.11 841,1060.24 841.5,1060.74 842,1060.92 842.5,1059.76 843,1058.66 843.5,1058.98 844,1059.39 844.5,1060.02 845,1058.82 845.5,1059.08 846,1059.06 846.5,1059.31 847,1058.73 847.5,1058.65 848,1059.11 848.5,1059.17 849,1059.01 849.5,1058.88 850,1059.05 850.5,1059.68 851,1058.73 851.5,1058.56 852,1058.03 852.5,1059.18 853,1059.12 853.5,1058.32 854,1058.33 854.5,1059.17 855,1059.25 855.5,1059.45 856,1058.61 856.5,1059.2 857,1058.41 857.5,1058.4 858,1058.94 858.5,1059.59 859,1060.42 859.5,1060.36 860,1060.29 860.5,1060.29 861,1059.98 861.5,1060.13 862,1059.29 862.5,1059.13 863,1058.5 863.5,1059.01 864,1058.5 864.5,1059.09 865,1058.6 865.5,1059.54 866,1059.52 866.5,1060.32 867,1060.14 867.5,1059.19 868,1058.41 868.5,1057.63 869,1058.05 869.5,1058.68 870,1059.4 870.5,1059.32 871,1058.28 871.5,1058.03 872,1057.81 872.5,1065.87 873,1083.39 873.5,1098.77 874,1111.25 874.5,1120.13 875,1128.04 875.5,1134.7 876,1141.52 876.5,1146.84 877,1149.98 877.5,1152.93 878,1155.35 878.5,1157.93 879,1160.79 879.5,1162.43 880,1164.88 880.5,1165.32 881,1166.6 881.5,1167.64 882,1168.8 882.5,1169.3 883,1169.64 883.5,1169.78 884,1170.15 884.5,1170.46 885,1171.41 885.5,1172.28 886,1172.29 886.5,1172.44 887,1172.97 887.5,1173.41 888,1173.43 888.5,1173.2 889,1174.12 889.5,1174.72 890,1175.43 890.5,1175.69 891,1176.26 891.5,1176.18 892,1177.01 892.5,1176.81 893,1175.99 893.5,1175.91 894,1176.01 894.5,1177.07 895,1177.15 895.5,1176.88 896,1176.52 896.5,1175.53 897,1176.05 897.5,1176.91 898,1177.95 898.5,1178.56 899,1177.98 899.5,1177 900,1177.08 900.5,1177.62 901,1178.91 901.5,1179.33 902,1179.73 902.5,1180 903,1179.96 903.5,1180.27 904,1179.82 904.5,1179.8 905,1179.8 905.5,1180.56 906,1180.61 906.5,1180.87 907,1180.56 907.5,1180.81 908,1181.06 908.5,1180.48 909,1180.13 909.5,1179.31 910,1179.29 910.5,1179.66 911,1180.68 911.5,1181.62 912,1182.09 912.5,1182.33 913,1183.09 913.5,1183.09 914,1183.3 914.5,1182.91 915,1182.69 915.5,1182.01 916,1181.47 916.5,1181.54 917,1181.73 917.5,1182.75 918,1183.89 918.5,1183.57 919,1183.49 919.5,1182.46 920,1183.3 920.5,1183.17 921,1182.93 921.5,1183.2 922,1183.08 922.5,1183.69 923,1182.95 923.5,1183.01 924,1183.47 924.5,1183.9 925,1184.37 925.5,1184.42 926,1185.1 926.5,1184.9 927,1184.22 927.5,1184.18" fill="none" stroke="#808285" stroke-width="2" stroke-linejoin="round" />
<polyline points="706.5,1203.45 707,1203.92 707.5,1203.75 708,1203.81 708.5,1202.78 709,1202.19 709.5,1202.38 710,1203.45 710.5,1204.37 711,1204.44 711.5,1203.72 712,1204.15 712.5,1204.76 713,1204.65 713.5,1203.78 714,1203.22 714.5,1203.62 715,1204.05 715.5,1204.12 716,1204.21 716.5,1204.08 717,1204.52 717.5,1204.1 718,1203.77 718.5,1204.27 719,1204.46 719.5,1204.56 720,1203.92 720.5,1203.76 721,1203.58 721.5,1204.1 722,1204.88 722.5,1204.58 723,1203.91 723.5,1202.83 724,1202.65 724.5,1202.62 725,1203.8 725.5,1204.41 726,1205.02 726.5,1203.94 727,1204.03 727.5,1203.45 728,1203.93 728.5,1204.29 729,1204.49 729.5,1204.23 730,1203.24 730.5,1202.77 731,1202.99 731.5,1203.33 732,1202.92 732.5,1202.19 733,1202.76 733.5,1203.51 734,1204 734.5,1203.85 735,1203.95 735.5,1204.1 736,1203.74 736.5,1204.01 737,1204.46 737.5,1205.24 738,1205.18 738.5,1204.93 739,1204.14 739.5,1203.58 740,1203.22 740.5,1203.43 741,1203.67 741.5,1204.4 742,1204.94 742.5,1204.85 743,1204.52 743.5,1203.46 744,1203.19 744.5,1202.57 745,1203.11 745.5,1203.17 746,1203.3 746.5,1203.24 747,1202.68 747.5,1202.96 748,1203.16 748.5,1204.46 749,1204.01 749.5,1203.64 750,1202.26 750.5,1203.31 751,1203.4 751.5,1204.35 752,1203.16 752.5,1203.13 753,1202.77 753.5,1202.9 754,1202.51 754.5,1202.36 755,1202.5 755.5,1202.25 756,1203.2 756.5,1203.55 757,1204.32 757.5,1203.81 758,1203.71 758.5,1203.6 759,1203.76 759.5,1203.74 760,1204.29 760.5,1203.97 761,1204.56 761.5,1203.65 762,1203.86 762.5,1203.66 763,1181.79 763.5,1153.73 764,1124.54 764.5,1095.23 765,1066.82 765.5,1038.57 766,1038.21 766.5,1039.75 767,1041.47 767.5,1042.84 768,1043.29 768.5,1044.64 769,1045.96 769.5,1046.92 770,1047.1 770.5,1048.64 771,1048.96 771.5,1049.98 772,1050.13 772.5,1051.6 773,1052.32 773.5,1052.83 774,1053.39 774.5,1053.74 775,1054.76 775.5,1054.02 776,1054.18 776.5,1054.02 777,1054.75 777.5,1055.71 778,1056.2 778.5,1056.35 779,1055.95 779.5,1056.28 780,1057.25 780.5,1057.28 781,1057.44 781.5,1057.72 782,1057.82 782.5,1057.65 783,1058.21 783.5,1059.21 784,1059.04 784.5,1058.38 785,1058.58 785.5,1059.32 786,1059.7 786.5,1059.09 787,1059.01 787.5,1059.45 788,1058.7 788.5,1059.04 789,1058.35 789.5,1058.82 790,1058.26 790.5,1058.23 791,1058.4 791.5,1058.73 792,1059.04 792.5,1059.89 793,1059.27 793.5,1059.8 794,1058.93 794.5,1059.65 795,1059.22 795.5,1060.12 796,1059.55 796.5,1059.74 797,1060.01 797.5,1061.07 798,1060.94 798.5,1060.63 799,1060.57 799.5,1060.9 800,1061.09 800.5,1061.07 801,1059.94 801.5,1059.72 802,1060.79 802.5,1061.56 803,1061.18 803.5,1059.73 804,1059.56 804.5,1059.55 805,1059.49 805.5,1060.64 806,1060.67 806.5,1060.94 807,1060.03 807.5,1059.74 808,1059.23 808.5,1058.84 809,1059.78 809.5,1059.95 810,1059.8 810.5,1059.22 811,1060.17 811.5,1060.87 812,1060.86 812.5,1060.11 813,1059.83 813.5,1059.41 814,1059.83 814.5,1058.6 815,1058.8 815.5,1057.87 816,1059.16 816.5,1059.06 817,1059.89 817.5,1060.62 818,1060.99 818.5,1059.98 819,1059.01 819.5,1058.79 820,1058.93 820.5,1058.71 821,1059.58 821.5,1060.33 822,1060.43 822.5,1059.33 823,1058.95 823.5,1059.07 824,1059.67 824.5,1059.96 825,1060.24 825.5,1059.61 826,1059.14 826.5,1058.43 827,1058.65 827.5,1059.52 828,1059.96 828.5,1060.39 829,1060.13 829.5,1061.02 830,1060.17 830.5,1059.57 831,1058.66 831.5,1059.77 832,1060.3 832.5,1060.08 833,1059.27 833.5,1058.96 834,1060.25 834.5,1060.31 835,1060.67 835.5,1059.45 836,1059.08 836.5,1058.9 837,1058.91 837.5,1058.76 838,1058.93 838.5,1059.5 839,1059.61 839.5,1059.43 840,1059.35 840.5,1060.1 841,1059.29 841.5,1058.93 842,1057.79 842.5,1057.33 843,1057.83 843.5,1058.52 844,1059.49 844.5,1059.04 845,1059.01 845.5,1058.7 846,1058.98 846.5,1059.09 847,1058.65 847.5,1058.91 848,1059.58 848.5,1060.54 849,1060.68 849.5,1060.16 850,1059.84 850.5,1059.69 851,1059.83 851.5,1059.31 852,1058.75 852.5,1058.56 853,1059.96 853.5,1060.04 854,1059.67 854.5,1058.29 855,1058.2 855.5,1058.24 856,1058.63 856.5,1058.26 857,1057.84 857.5,1057.76 858,1058.32 858.5,1059.03 859,1058.5 859.5,1058.22 860,1058.49 860.5,1059.23 861,1059.08 861.5,1058.55 862,1058.23 862.5,1058.57 863,1058.59 863.5,1058.96 864,1058.94 864.5,1059.15 865,1059.27 865.5,1059.55 866,1059.31 866.5,1058.85 867,1058.87 867.5,1058.9 868,1058.5 868.5,1057.86 869,1057.54 869.5,1058.03 870,1058.3 870.5,1059.29 871,1059.47 871.5,1059.67 872,1059.72 872.5,1067.48 873,1083.61 873.5,1096.84 874,1107.76 874.5,1117.6 875,1126.08 875.5,1134.15 876,1140.09 876.5,1144.31 877,1146.68 877.5,1149.69 878,1152.96 878.5,1155.24 879,1157.26 879.5,1158.62 880,1160.76 880.5,1162.8 881,1163.52 881.5,1164.15 882,1163.54 882.5,1164.06 883,1164.2 883.5,1165.24 884,1166.13 884.5,1167.27 885,1167.98 885.5,1167.99 886,1167.65 886.5,1167.25 887,1167.67 887.5,1168.21 888,1168.42 888.5,1168.99 889,1168.98 889.5,1169.68 890,1169.52 890.5,1170.36 891,1170.85 891.5,1170.95 892,1171.2 892.5,1172.05 893,1172.83 893.5,1172.42 894,1172.7 894.5,1172.32 895,1173.26 895.5,1172.1 896,1172.98 896.5,1172.81 897,1173.65 897.5,1173.61 898,1173.23 898.5,1172.52 899,1172.24 899.5,1173.39 900,1174.35 900.5,1175.36 901,1175.66 901.5,1176.39 902,1175.65 902.5,1174.81 903,1173.79 903.5,1174.89 904,1175.34 904.5,1176.07 905,1176.44 905.5,1176.59 906,1176.34 906.5,1175.28 907,1175.97 907.5,1176.78 908,1177.34 908.5,1176.91 909,1176.55 909.5,1176.79 910,1177.5 910.5,1177.25 911,1176.88 911.5,1176.92 912,1177.79 912.5,1178.23 913,1177.91 913.5,1178.08 914,1178.22 914.5,1177.66 915,1176.9 915.5,1177.24 916,1177.98 916.5,1178.69 917,1177.77 917.5,1178.4 918,1178.41 918.5,1179.14 919,1178.78 919.5,1178.63 920,1178.7 920.5,1177.8 921,1177.59 921.5,1178.21 922,1179.14 922.5,1179.27 923,1179.1 923.5,1179.88 924,1180.32 924.5,1180.53 925,1179.72 925.5,1179.05 926,1179.42 926.5,1179.45 927,1180.6 927.5,1180.45" fill="none" stroke="#58595b" stroke-width="2" stroke-linejoin="round" />
<polyline points="706.5,1203.4 707,1203.29 707.5,1202.83 708,1203.79 708.5,1203.83 709,1203.71 709.5,1203.24 710,1203.66 710.5,1204.09 711,1203.78 711.5,1203.36 712,1202.68 712.5,1203.03 713,1203.32 713.5,1204.02 714,1203.9 714.5,1204.53 715,1204.6 715.5,1204.64 716,1204.11 716.5,1203.68 717,1203.46 717.5,1203.32 718,1204.12 718.5,1204.2 719,1204.09 719.5,1203.59 720,1203.94 720.5,1203.74 721,1202.72 721.5,1202.33 722,1203.18 722.5,1203.82 723,1204.18 723.5,1203.9 724,1204.45 724.5,1203.95 725,1203.68 725.5,1204.04 726,1204.57 726.5,1203.72 727,1203.58 727.5,1204.1 728,1204.98 728.5,1204.81 729,1203.68 729.5,1203.81 730,1203.52 730.5,1203.61 731,1203.95 731.5,1204.13 732,1204.63 732.5,1204.62 733,1203.55 733.5,1203.43 734,1202.45 734.5,1203.14 735,1202.99 735.5,1203.19 736,1203.4 736.5,1202.88 737,1203.13 737.5,1203.43 738,1203.57 738.5,1203.82 739,1202.87 739.5,1203.37 740,1202.61 740.5,1202.82 741,1202.04 741.5,1202.82 742,1202.81 742.5,1203.26 743,1203.27 743.5,1204.02 744,1204.47 744.5,1204.28 745,1204.5 745.5,1204.62 746,1204.65 746.5,1204.82 747,1204.1 747.5,1204.11 748,1203.88 748.5,1204.54 749,1204.79 749.5,1204.15 750,1203.48 750.5,1203.15 751,1203.49 751.5,1203.68 752,1203.29 752.5,1202.94 753,1204 753.5,1204.94 754,1205.94 754.5,1205.13 755,1204.71 755.5,1203.69 756,1204.39 756.5,1204.14 757,1204.32 757.5,1203.88 758,1203.66 758.5,1203.47 759,1202.87 759.5,1203.34 760,1203.77 760.5,1203.76 761,1203.99 761.5,1203.5 762,1203.78 762.5,1203.52 763,1180.67 763.5,1151.6 764,1123.07 764.5,1094.77 765,1067.69 765.5,1039.83 766,1040.45 766.5,1042.1 767,1044.23 767.5,1046.02 768,1048 768.5,1049.54 769,1050.63 769.5,1051.93 770,1052.41 770.5,1052.91 771,1054.1 771.5,1054.4 772,1055.58 772.5,1055.27 773,1056.42 773.5,1056.46 774,1057.83 774.5,1058.07 775,1058.77 775.5,1058.54 776,1058.9 776.5,1059.17 777,1060.39 777.5,1061.12 778,1061.39 778.5,1061.75 779,1062.13 779.5,1063.16 780,1063.36 780.5,1063.12 781,1062.84 781.5,1062.76 782,1064.13 782.5,1065.03 783,1064.53 783.5,1063.39 784,1063.71 784.5,1064.54 785,1065.69 785.5,1065.65 786,1064.89 786.5,1064.83 787,1064.29 787.5,1064.94 788,1065.32 788.5,1065.26 789,1064.93 789.5,1063.41 790,1063.93 790.5,1064.27 791,1064.17 791.5,1063.34 792,1062.99 792.5,1062.5 793,1062.39 793.5,1061.73 794,1062.71 794.5,1062.05 795,1062.1 795.5,1060.55 796,1060.22 796.5,1059.65 797,1061.14 797.5,1061.27 798,1061.64 798.5,1060.44 799,1060.18 799.5,1060.07 800,1061.31 800.5,1061.25 801,1061.81 801.5,1061.38 802,1061.68 802.5,1061.26 803,1061.06 803.5,1060.59 804,1060.17 804.5,1059.4 805,1059.63 805.5,1059.98 806,1061.15 806.5,1061.57 807,1061.52 807.5,1059.75 808,1059.93 808.5,1059.44 809,1060.61 809.5,1060.34 810,1061.17 810.5,1060.72 811,1060.61 811.5,1060.07 812,1060.09 812.5,1060.31 813,1060.14 813.5,1060.16 814,1060.02 814.5,1060.58 815,1059.42 815.5,1059.17 816,1058.66 816.5,1061.02 817,1059.45 817.5,1059.53 818,1058.48 818.5,1059.86 819,1060.33 819.5,1060.28 820,1060.4 820.5,1058.99 821,1059.07 821.5,1059.27 822,1060.76 822.5,1060.66 823,1061.16 823.5,1061.33 824,1060.98 824.5,1060.72 825,1059.41 825.5,1059.09 826,1058.92 826.5,1059.64 827,1060.16 827.5,1059.43 828,1058.63 828.5,1058.75 829,1058.9 829.5,1059.8 830,1060.12 830.5,1059.85 831,1059.34 831.5,1058.62 832,1059.05 832.5,1058.98 833,1058.79 833.5,1058.33 834,1058.14 834.5,1058.46 835,1058.02 835.5,1058.15 836,1058.67 836.5,1059.71 837,1059.63 837.5,1058.5 838,1059.09 838.5,1059.69 839,1060.85 839.5,1060.07 840,1059.74 840.5,1058.79 841,1058.18 841.5,1058.12 842,1058.73 842.5,1059.31 843,1058.99 843.5,1058.42 844,1058.46 844.5,1059 845,1059.24 845.5,1058.7 846,1058.85 846.5,1059.13 847,1058.89 847.5,1058.13 848,1058.48 848.5,1059.12 849,1058.93 849.5,1058.42 850,1058.57 850.5,1059.33 851,1059.13 851.5,1058.82 852,1058.54 852.5,1058.88 853,1059.11 853.5,1059.69 854,1058.58 854.5,1058.15 855,1057.64 855.5,1058.69 856,1059.67 856.5,1059.78 857,1059.54 857.5,1058.09 858,1057.92 858.5,1057.95 859,1059.21 859.5,1059.12 860,1059.1 860.5,1058.27 861,1058.02 861.5,1058.16 862,1058.39 862.5,1058.34 863,1057.93 863.5,1058.06 864,1058.42 864.5,1059.05 865,1058.51 865.5,1058.72 866,1058.89 866.5,1059.18 867,1058.76 867.5,1058.68 868,1057.85 868.5,1057.97 869,1057.23 869.5,1059.09 870,1059.72 870.5,1060.42 871,1059.92 871.5,1059.65 872,1059.75 872.5,1066.97 873,1083 873.5,1095.59 874,1105.84 874.5,1114.15 875,1122.16 875.5,1129.12 876,1135.29 876.5,1138.92 877,1142.96 877.5,1145.54 878,1148.19 878.5,1150.33 879,1152.25 879.5,1153.93 880,1155.12 880.5,1156.6 881,1157.86 881.5,1158.65 882,1159.66 882.5,1160.36 883,1161.18 883.5,1161.09 884,1161.23 884.5,1161.25 885,1162.06 885.5,1163.03 886,1163.31 886.5,1163.74 887,1163.42 887.5,1163.59 888,1163.54 888.5,1164.31 889,1164.82 889.5,1165.1 890,1166.34 890.5,1165.85 891,1165.98 891.5,1166.05 892,1166.85 892.5,1167.04 893,1166.69 893.5,1166.9 894,1167.38 894.5,1166.97 895,1167.21 895.5,1167.4 896,1168.12 896.5,1168.37 897,1168.07 897.5,1168.03 898,1167.05 898.5,1167.11 899,1167.04 899.5,1168.16 900,1169.11 900.5,1169.3 901,1169.52 901.5,1170.11 902,1170.7 902.5,1170.75 903,1169.74 903.5,1169.27 904,1169.26 904.5,1169.66 905,1170.5 905.5,1170.45 906,1170.35 906.5,1170.48 907,1170.44 907.5,1170.51 908,1170.48 908.5,1170.78 909,1170.21 909.5,1170.22 910,1170.52 910.5,1172.09 911,1171.89 911.5,1172.44 912,1171.89 912.5,1172.6 913,1172.11 913.5,1172.58 914,1171.96 914.5,1172.16 915,1172.42 915.5,1172.44 916,1173.19 916.5,1172.23 917,1172.99 917.5,1173.18 918,1174.39 918.5,1173.87 919,1173.43 919.5,1171.89 920,1172.67 920.5,1171.85 921,1173.06 921.5,1172.6 922,1173.27 922.5,1173.37 923,1172.96 923.5,1173.81 924,1174.51 924.5,1175.35 925,1174.89 925.5,1173.82 926,1173.74 926.5,1173.8 927,1173.7 927.5,1173.89" fill="none" stroke="#231f20" stroke-width="2" stroke-linejoin="round" />
<rect x="704.3" y="1154.4" width="4.4" height="37.2" fill="#231f20"/>
<text x="723.3" y="1168" font-size="24.5" fill="#231f20" text-anchor="start" font-weight="normal"  stroke="#231f20" stroke-width="0.3">5</text>
<text x="712.2" y="1197" font-size="25.5" fill="#231f20" text-anchor="start" font-weight="normal"  stroke="#231f20" stroke-width="0.3">mV</text>
<text x="733.5" y="1236" font-size="28.5" fill="#231f20" text-anchor="start" stroke="#231f20" stroke-width="0.3">V<tspan font-size="17" dy="8.5" fill="#231f20" stroke="#231f20" stroke-width="0.3">m</tspan><tspan dy="-8.5"> (ON SAC)</tspan></text>
<text x="917" y="1030.6" font-size="24.5" fill="#231f20" text-anchor="start" font-weight="normal"  stroke="#231f20" stroke-width="0.3">%</text>
<ellipse cx="914" cy="1047.2" rx="6.6" ry="5.4" fill="none" stroke="#231f20" stroke-width="2"/>
<line x1="914.1" y1="1036.8" x2="914.1" y2="1057.6" stroke="#231f20" stroke-width="2" />
<text x="923.2" y="1061.4" font-size="14.6" fill="#231f20" text-anchor="start" font-weight="normal"  stroke="#231f20" stroke-width="0.3">max</text>
<rect x="917.4" y="1069.9" width="19.9" height="14.54" fill="#231f20"/>
<rect x="917.4" y="1084.14" width="19.9" height="14.54" fill="#58595b"/>
<rect x="917.4" y="1098.38" width="19.9" height="14.54" fill="#808285"/>
<rect x="917.4" y="1112.62" width="19.9" height="14.54" fill="#a7a9ac"/>
<rect x="917.4" y="1126.86" width="19.9" height="14.24" fill="#d1d3d4"/>
<text x="913.3" y="1084" font-size="22" fill="#231f20" text-anchor="end" font-weight="normal"  stroke="#231f20" stroke-width="0.3">100</text>
<text x="913.3" y="1141" font-size="22" fill="#231f20" text-anchor="end" font-weight="normal"  stroke="#231f20" stroke-width="0.3">20</text>
<polyline points="706.5,1446.55 706.9,1446.29 707.3,1445.37 707.7,1445.31 708.1,1445.84 708.5,1446.13 708.9,1445.99 709.3,1446.36 709.7,1447.36 710.1,1447.47 710.5,1446.4 710.9,1445.86 711.3,1446.25 711.7,1446.35 712.1,1445.53 712.5,1444.55 712.9,1445.22 713.3,1446.9 713.7,1447.01 714.1,1446.66 714.5,1446.62 714.9,1446.18 715.3,1445.49 715.7,1446.19 716.1,1446.3 716.5,1445.76 716.9,1446.32 717.3,1445.37 717.7,1445.54 718.1,1445.8 718.5,1446.26 718.9,1447.19 719.3,1446.33 719.7,1445.67 720.1,1445.73 720.5,1446.36 720.9,1446.4 721.3,1447.16 721.7,1446.46 722.1,1445.43 722.5,1447.4 722.9,1445.97 723.3,1444.47 723.7,1445.98 724.1,1445.22 724.5,1445.62 724.9,1445.54 725.3,1444.94 725.7,1445.9 726.1,1445.31 726.5,1446.89 726.9,1446.83 727.3,1446.6 727.7,1447.66 728.1,1447.51 728.5,1447.08 728.9,1445.57 729.3,1445.45 729.7,1446.85 730.1,1445.94 730.5,1445.27 730.9,1446.86 731.3,1446.65 731.7,1445.5 732.1,1446.02 732.5,1447 732.9,1447.13 733.3,1447.38 733.7,1446.05 734.1,1445.21 734.5,1445.52 734.9,1445.32 735.3,1445.49 735.7,1445.46 736.1,1446.7 736.5,1447.77 736.9,1446.61 737.3,1445.87 737.7,1447.21 738.1,1446.91 738.5,1446.26 738.9,1445.89 739.3,1445.29 739.7,1446.96 740.1,1447.61 740.5,1446.34 740.9,1445.59 741.3,1446.13 741.7,1445.33 742.1,1443.88 742.5,1444.96 742.9,1445.5 743.3,1444.95 743.7,1446.91 744.1,1446.22 744.5,1444.67 744.9,1445.51 745.3,1446.19 745.7,1445.96 746.1,1446.44 746.5,1446.3 746.9,1445.92 747.3,1447.2 747.7,1447.04 748.1,1446.66 748.5,1447.22 748.9,1446.8 749.3,1446.7 749.7,1446.86 750.1,1446.73 750.5,1446.34 750.9,1445.28 751.3,1445.37 751.7,1446.28 752.1,1447.37 752.5,1446.66 752.9,1446.52 753.3,1446.6 753.7,1446.06 754.1,1446.03 754.5,1445.74 754.9,1445.82 755.3,1445.29 755.7,1445.55 756.1,1445.86 756.5,1446.55 756.9,1446.96 757.3,1446.58 757.7,1446.68 758.1,1446.05 758.5,1446.43 758.9,1446.29 759.3,1445.83 759.7,1446.73 760.1,1447.02 760.5,1446.96 760.9,1446.95 761.3,1446.5 761.7,1445.64 762.1,1445.86 762.5,1447.53 762.9,1447.74 763.3,1446.38 763.7,1444.85 764.1,1445.65 764.5,1445.93 764.9,1442.81 765.3,1440.28 765.7,1438.24 766.1,1435.88 766.5,1435.85 766.9,1405.7 767.3,1409.88 767.7,1414.29 768.1,1415.81 768.5,1418.04 768.9,1422.29 769.3,1423.73 769.7,1423.42 770.1,1425.68 770.5,1427.12 770.9,1427.09 771.3,1426.58 771.7,1425.39 772.1,1399.53 772.5,1405.99 772.9,1411.32 773.3,1415.36 773.7,1418.24 774.1,1421.2 774.5,1377.32 774.9,1383.27 775.3,1390.26 775.7,1397.16 776.1,1401.77 776.5,1406.15 776.9,1411.65 777.3,1414.64 777.7,1416.2 778.1,1418.61 778.5,1402.79 778.9,1407.74 779.3,1411.05 779.7,1414.14 780.1,1418.21 780.5,1420.2 780.9,1420.72 781.3,1422.38 781.7,1424.01 782.1,1425.15 782.5,1428.15 782.9,1429.65 783.3,1429.62 783.7,1430.45 784.1,1396.91 784.5,1403.23 784.9,1408.69 785.3,1411.42 785.7,1411.26 786.1,1417.52 786.5,1422.71 786.9,1422.5 787.3,1423.69 787.7,1424.99 788.1,1425.77 788.5,1425.9 788.9,1429.21 789.3,1432.11 789.7,1430.97 790.1,1430.59 790.5,1431.43 790.9,1431.14 791.3,1401.28 791.7,1406.67 792.1,1411.25 792.5,1414.83 792.9,1416.31 793.3,1418.38 793.7,1419.68 794.1,1423.47 794.5,1424.66 794.9,1425.61 795.3,1429.42 795.7,1429.94 796.1,1430.47 796.5,1430.98 796.9,1411.49 797.3,1416.96 797.7,1419.56 798.1,1420.34 798.5,1423.48 798.9,1424.98 799.3,1427.09 799.7,1429.69 800.1,1431.76 800.5,1431.75 800.9,1431.11 801.3,1432.28 801.7,1433.63 802.1,1410.12 802.5,1412.37 802.9,1415.88 803.3,1417.78 803.7,1421.71 804.1,1426.38 804.5,1423.62 804.9,1423.56 805.3,1429.21 805.7,1432.5 806.1,1433.42 806.5,1433.33 806.9,1397.63 807.3,1401.89 807.7,1408 808.1,1413.96 808.5,1417.87 808.9,1419.45 809.3,1421.17 809.7,1423.83 810.1,1425.06 810.5,1425.1 810.9,1427.62 811.3,1399.83 811.7,1404.4 812.1,1408.37 812.5,1411.68 812.9,1416.96 813.3,1420.06 813.7,1421.74 814.1,1425.58 814.5,1426.87 814.9,1428.36 815.3,1429.94 815.7,1430.03 816.1,1430.97 816.5,1432.34 816.9,1400.85 817.3,1405.22 817.7,1408.95 818.1,1413.55 818.5,1417.06 818.9,1419.93 819.3,1421.78 819.7,1422.77 820.1,1424.73 820.5,1427.36 820.9,1429.34 821.3,1430.47 821.7,1430 822.1,1415.35 822.5,1421.35 822.9,1423.83 823.3,1423.51 823.7,1426.49 824.1,1429.15 824.5,1428.07 824.9,1428.7 825.3,1430.91 825.7,1401.37 826.1,1406.56 826.5,1411.56 826.9,1417.29 827.3,1420.19 827.7,1419.93 828.1,1423.19 828.5,1425.07 828.9,1425.92 829.3,1430 829.7,1432.98 830.1,1433.7 830.5,1434.61 830.9,1434.2 831.3,1434.39 831.7,1436.16 832.1,1435.73 832.5,1434.51 832.9,1436.31 833.3,1401.23 833.7,1407.08 834.1,1411.65 834.5,1414.65 834.9,1418.05 835.3,1420.01 835.7,1420.27 836.1,1422.59 836.5,1426.41 836.9,1427.7 837.3,1428.91 837.7,1431.87 838.1,1433.35 838.5,1432.42 838.9,1432.1 839.3,1414.54 839.7,1419.08 840.1,1423.21 840.5,1426.08 840.9,1427.05 841.3,1426.97 841.7,1427.66 842.1,1430.79 842.5,1432.34 842.9,1432.7 843.3,1433.63 843.7,1434.24 844.1,1434.68 844.5,1435.51 844.9,1411.64 845.3,1415.06 845.7,1418.22 846.1,1420.82 846.5,1425.09 846.9,1428.22 847.3,1427.04 847.7,1427.04 848.1,1430.48 848.5,1431.63 848.9,1431.48 849.3,1434.16 849.7,1435.64 850.1,1434.13 850.5,1433.99 850.9,1434.91 851.3,1414.44 851.7,1417.12 852.1,1419.89 852.5,1422.38 852.9,1424.59 853.3,1427.97 853.7,1428.98 854.1,1430.66 854.5,1432.69 854.9,1415.5 855.3,1418.76 855.7,1420.82 856.1,1422.79 856.5,1426.68 856.9,1427.22 857.3,1427.05 857.7,1430.93 858.1,1433.27 858.5,1432.27 858.9,1432.58 859.3,1406.78 859.7,1411.33 860.1,1415.55 860.5,1418.65 860.9,1418.3 861.3,1422.46 861.7,1426.12 862.1,1427.59 862.5,1428.75 862.9,1429.12 863.3,1432.1 863.7,1433.5 864.1,1414.21 864.5,1416.46 864.9,1417.21 865.3,1421.86 865.7,1423.66 866.1,1424.71 866.5,1427.35 866.9,1428.47 867.3,1430.99 867.7,1435.69 868.1,1434.72 868.5,1432.95 868.9,1397.96 869.3,1403.39 869.7,1407.89 870.1,1412.86 870.5,1418.04 870.9,1420.85 871.3,1422.1 871.7,1422.53 872.1,1425.1 872.5,1428.62 872.9,1430.12 873.3,1431.79 873.7,1433.18 874.1,1428.35 874.5,1429.66 874.9,1431.95 875.3,1431.91 875.7,1431.3 876.1,1430.44 876.5,1430.98 876.9,1433.33 877.3,1433.83 877.7,1434.61 878.1,1436.31 878.5,1436.62 878.9,1436.12 879.3,1437.62 879.7,1436.82 880.1,1435.65 880.5,1436.8 880.9,1437.75 881.3,1441.17 881.7,1441.52 882.1,1439.75 882.5,1439.01 882.9,1438.33 883.3,1439.39 883.7,1440.26 884.1,1440.56 884.5,1440.16 884.9,1439.55 885.3,1440.5 885.7,1440.02 886.1,1441.24 886.5,1441.48 886.9,1441.76 887.3,1442.48 887.7,1441.45 888.1,1442.27 888.5,1443.43 888.9,1442.8 889.3,1441.63 889.7,1441.94 890.1,1442.16 890.5,1442.28 890.9,1442.94 891.3,1441.78 891.7,1440.65 892.1,1442.73 892.5,1443.24 892.9,1444.98 893.3,1446.11 893.7,1444.64 894.1,1443.45 894.5,1444.2 894.9,1444.95 895.3,1442.74 895.7,1441.72 896.1,1442.43 896.5,1443.07 896.9,1443.53 897.3,1445.13 897.7,1446.39 898.1,1445.01 898.5,1444.3 898.9,1445.92 899.3,1445.41 899.7,1443.52 900.1,1443.93 900.5,1444.43 900.9,1443.78 901.3,1444.51 901.7,1443.41 902.1,1444.72 902.5,1444.86 902.9,1442.22 903.3,1442.55 903.7,1442.66 904.1,1445.25 904.5,1445.41 904.9,1444.64 905.3,1446.53 905.7,1445.56 906.1,1445.12 906.5,1445.41 906.9,1445.67 907.3,1446.6 907.7,1446.78 908.1,1446.08 908.5,1443.5 908.9,1443.41 909.3,1444.26 909.7,1444.53 910.1,1445.95 910.5,1443.87 910.9,1443.07 911.3,1444.96 911.7,1446.1 912.1,1444.94 912.5,1444.16 912.9,1445 913.3,1442.86 913.7,1444.27 914.1,1445.65 914.5,1440.84 914.9,1441.68 915.3,1444.37 915.7,1443.92 916.1,1445.75 916.5,1445.88 916.9,1444.76 917.3,1444.91 917.7,1444.87 918.1,1446.08 918.5,1446.09 918.9,1444.52 919.3,1445.04 919.7,1444.01 920.1,1442.36 920.5,1443.68 920.9,1445.4 921.3,1445.79 921.7,1447.91 922.1,1447.06 922.5,1446.51 922.9,1448.69 923.3,1447.55 923.7,1445.77 924.1,1444.16 924.5,1446 924.9,1446.85 925.3,1445.55 925.7,1445.5 926.1,1445.21 926.5,1444.98 926.9,1444.44 927.3,1444.12 927.7,1445.22" fill="none" stroke="#f8d4e3" stroke-width="2" stroke-linejoin="round" />
<polyline points="706.5,1446.22 706.9,1445.95 707.3,1446.35 707.7,1445.12 708.1,1445.21 708.5,1445.75 708.9,1444.79 709.3,1445.93 709.7,1445.73 710.1,1444.25 710.5,1444.67 710.9,1446.31 711.3,1447.27 711.7,1446.41 712.1,1446.9 712.5,1446.57 712.9,1444.6 713.3,1445.39 713.7,1446.48 714.1,1446.31 714.5,1445.59 714.9,1445.71 715.3,1446.48 715.7,1445.48 716.1,1445.61 716.5,1446.45 716.9,1446.93 717.3,1446.56 717.7,1445.92 718.1,1446.65 718.5,1445.84 718.9,1445.04 719.3,1445.18 719.7,1445.16 720.1,1446.43 720.5,1447.12 720.9,1446.61 721.3,1446.4 721.7,1446.48 722.1,1447.08 722.5,1447.13 722.9,1447.16 723.3,1446.96 723.7,1446.17 724.1,1446.22 724.5,1446.05 724.9,1446.14 725.3,1444.9 725.7,1444.38 726.1,1445.46 726.5,1445.16 726.9,1445.84 727.3,1446.92 727.7,1447.17 728.1,1446.16 728.5,1445.81 728.9,1445.38 729.3,1444.89 729.7,1445.66 730.1,1445.8 730.5,1445.77 730.9,1446.33 731.3,1445.46 731.7,1445.09 732.1,1445.72 732.5,1445.5 732.9,1446.66 733.3,1447.45 733.7,1446.78 734.1,1447.39 734.5,1447.33 734.9,1446.25 735.3,1446.79 735.7,1446.31 736.1,1445.54 736.5,1446.28 736.9,1445.65 737.3,1444.85 737.7,1444.61 738.1,1446.15 738.5,1446.95 738.9,1446.06 739.3,1445.59 739.7,1446.37 740.1,1446.38 740.5,1445.07 740.9,1447.07 741.3,1447.68 741.7,1446.2 742.1,1446.52 742.5,1446.81 742.9,1446.12 743.3,1445.7 743.7,1445.16 744.1,1445.01 744.5,1445.1 744.9,1445.22 745.3,1445.75 745.7,1446.16 746.1,1446 746.5,1445.96 746.9,1445.87 747.3,1446.27 747.7,1446.65 748.1,1447.09 748.5,1446.72 748.9,1447.12 749.3,1447.44 749.7,1446.34 750.1,1446.7 750.5,1446.27 750.9,1446.01 751.3,1446.65 751.7,1446.58 752.1,1446.42 752.5,1445.5 752.9,1446.26 753.3,1446.91 753.7,1444.55 754.1,1445.61 754.5,1447.33 754.9,1446.57 755.3,1446.16 755.7,1445.73 756.1,1446.14 756.5,1447.65 756.9,1447.69 757.3,1446.92 757.7,1446.62 758.1,1445.42 758.5,1445.26 758.9,1445.84 759.3,1446.26 759.7,1446.57 760.1,1446.24 760.5,1445.21 760.9,1444.41 761.3,1444.68 761.7,1444.3 762.1,1444.14 762.5,1445.88 762.9,1446.35 763.3,1445.02 763.7,1444.39 764.1,1445.24 764.5,1437.96 764.9,1421.34 765.3,1404.73 765.7,1387.72 766.1,1373.15 766.5,1374.8 766.9,1376.81 767.3,1375.01 767.7,1348.15 768.1,1352.85 768.5,1358.07 768.9,1358.98 769.3,1359.59 769.7,1361.22 770.1,1361.74 770.5,1365.1 770.9,1364.97 771.3,1364.21 771.7,1337.16 772.1,1344.72 772.5,1348.27 772.9,1352.23 773.3,1356.89 773.7,1359.23 774.1,1338.29 774.5,1344.33 774.9,1350.56 775.3,1354.43 775.7,1358.27 776.1,1359.29 776.5,1361.16 776.9,1364.5 777.3,1367.57 777.7,1371.97 778.1,1374.07 778.5,1373.78 778.9,1375.37 779.3,1378.45 779.7,1352.18 780.1,1354.3 780.5,1359.86 780.9,1364.87 781.3,1367.36 781.7,1367.67 782.1,1369.77 782.5,1372.63 782.9,1375.26 783.3,1377.69 783.7,1380.09 784.1,1353.91 784.5,1358.24 784.9,1362.77 785.3,1364.55 785.7,1365.35 786.1,1367.69 786.5,1372.76 786.9,1376.49 787.3,1376.31 787.7,1380.16 788.1,1381.96 788.5,1379.47 788.9,1383.09 789.3,1366.3 789.7,1369.75 790.1,1374.06 790.5,1374.1 790.9,1375.54 791.3,1379.82 791.7,1381.23 792.1,1382.05 792.5,1384.83 792.9,1387.41 793.3,1387.58 793.7,1388.26 794.1,1388.65 794.5,1389.29 794.9,1390.23 795.3,1390.78 795.7,1392.36 796.1,1394.8 796.5,1392.28 796.9,1392.09 797.3,1370.38 797.7,1373.52 798.1,1377.98 798.5,1379.54 798.9,1381.32 799.3,1383.78 799.7,1385.01 800.1,1387.51 800.5,1387.73 800.9,1387.18 801.3,1389.35 801.7,1363.31 802.1,1366.54 802.5,1373.72 802.9,1377.82 803.3,1377.94 803.7,1383.4 804.1,1388.37 804.5,1387.33 804.9,1387.45 805.3,1389.15 805.7,1390.36 806.1,1390.68 806.5,1389.05 806.9,1390.55 807.3,1394.61 807.7,1396.74 808.1,1373.45 808.5,1377.2 808.9,1379.55 809.3,1382.19 809.7,1385.92 810.1,1388.85 810.5,1388.97 810.9,1389.84 811.3,1392.1 811.7,1392.23 812.1,1367.33 812.5,1373.76 812.9,1379.06 813.3,1382.1 813.7,1383.15 814.1,1383.61 814.5,1389.8 814.9,1391.06 815.3,1390.03 815.7,1392.02 816.1,1393.16 816.5,1394.97 816.9,1395.24 817.3,1382.01 817.7,1384.93 818.1,1386.68 818.5,1391.2 818.9,1394.35 819.3,1395.53 819.7,1393.88 820.1,1395.22 820.5,1399.93 820.9,1400.18 821.3,1375.7 821.7,1375.38 822.1,1377.63 822.5,1384.09 822.9,1389.88 823.3,1391.88 823.7,1393.58 824.1,1395.49 824.5,1395.11 824.9,1398.08 825.3,1400.81 825.7,1402.69 826.1,1378.26 826.5,1379.96 826.9,1383.18 827.3,1386.7 827.7,1387.71 828.1,1392.49 828.5,1394.32 828.9,1395.15 829.3,1399.03 829.7,1398.77 830.1,1400.69 830.5,1401.44 830.9,1400.19 831.3,1403.12 831.7,1403.4 832.1,1373.02 832.5,1380.97 832.9,1385.74 833.3,1386.58 833.7,1387.45 834.1,1389.38 834.5,1392.11 834.9,1395.12 835.3,1397.96 835.7,1400.24 836.1,1402.53 836.5,1401.83 836.9,1405.89 837.3,1406.65 837.7,1402.09 838.1,1402.35 838.5,1402.97 838.9,1405.2 839.3,1410.51 839.7,1409.56 840.1,1404.86 840.5,1406.37 840.9,1406.3 841.3,1406.87 841.7,1388.68 842.1,1389.72 842.5,1392.07 842.9,1396.16 843.3,1373.94 843.7,1378.6 844.1,1380.18 844.5,1385.99 844.9,1390.14 845.3,1390.24 845.7,1393.6 846.1,1395.99 846.5,1396.54 846.9,1399.93 847.3,1401.54 847.7,1401.57 848.1,1404.49 848.5,1406.13 848.9,1405.3 849.3,1404.71 849.7,1405.09 850.1,1407.19 850.5,1380.72 850.9,1386.23 851.3,1388.32 851.7,1391.24 852.1,1395.19 852.5,1397.62 852.9,1397.26 853.3,1398.12 853.7,1401.77 854.1,1402.97 854.5,1403.61 854.9,1407.48 855.3,1409.94 855.7,1407.82 856.1,1392.34 856.5,1396.82 856.9,1398.71 857.3,1397.75 857.7,1400.81 858.1,1405.11 858.5,1406.31 858.9,1384.39 859.3,1389.96 859.7,1390.91 860.1,1393.06 860.5,1394.95 860.9,1398.87 861.3,1401.52 861.7,1403.72 862.1,1407.5 862.5,1407.88 862.9,1405.2 863.3,1406.64 863.7,1384.39 864.1,1389.32 864.5,1393.45 864.9,1396.11 865.3,1398.81 865.7,1400.54 866.1,1402.27 866.5,1403.45 866.9,1406.78 867.3,1407.69 867.7,1406.58 868.1,1410.12 868.5,1412.57 868.9,1388.46 869.3,1391.53 869.7,1395.89 870.1,1398.52 870.5,1401.36 870.9,1406.26 871.3,1405.53 871.7,1404.61 872.1,1405.93 872.5,1409.73 872.9,1413.11 873.3,1408.7 873.7,1407.74 874.1,1404.59 874.5,1406.22 874.9,1407.29 875.3,1408.02 875.7,1409.95 876.1,1414.39 876.5,1413.5 876.9,1416.4 877.3,1420.42 877.7,1420.17 878.1,1422.02 878.5,1420.79 878.9,1419.99 879.3,1421.52 879.7,1422.45 880.1,1424.14 880.5,1427.64 880.9,1428.04 881.3,1425.34 881.7,1426.76 882.1,1429.94 882.5,1428.1 882.9,1427.82 883.3,1430.07 883.7,1432.73 884.1,1432.52 884.5,1433.71 884.9,1433.69 885.3,1434.04 885.7,1435.74 886.1,1433.99 886.5,1435.51 886.9,1434.95 887.3,1434.78 887.7,1435.6 888.1,1436 888.5,1435.56 888.9,1434.74 889.3,1437.82 889.7,1436.33 890.1,1435.92 890.5,1437.47 890.9,1439.24 891.3,1440.26 891.7,1439.25 892.1,1439.8 892.5,1439.33 892.9,1439.65 893.3,1437.49 893.7,1437.17 894.1,1439.11 894.5,1440.17 894.9,1441.31 895.3,1441.75 895.7,1439.66 896.1,1437.46 896.5,1438.37 896.9,1439.15 897.3,1439.62 897.7,1440.54 898.1,1440.24 898.5,1439.54 898.9,1439.94 899.3,1441.93 899.7,1442.24 900.1,1442.49 900.5,1444.57 900.9,1443.66 901.3,1442.3 901.7,1440.55 902.1,1439.47 902.5,1440.37 902.9,1442.18 903.3,1443.4 903.7,1442.81 904.1,1442.49 904.5,1442.49 904.9,1442.12 905.3,1443.48 905.7,1442.96 906.1,1441.98 906.5,1442.56 906.9,1441.49 907.3,1441.7 907.7,1441.68 908.1,1443.55 908.5,1443.49 908.9,1442.88 909.3,1443.82 909.7,1443.03 910.1,1443.84 910.5,1443.5 910.9,1442.82 911.3,1442.9 911.7,1441.14 912.1,1439.58 912.5,1440.08 912.9,1442.23 913.3,1444.93 913.7,1446.34 914.1,1446.7 914.5,1445.7 914.9,1443.84 915.3,1444.62 915.7,1442.91 916.1,1442.15 916.5,1444.91 916.9,1441.97 917.3,1439.21 917.7,1442.74 918.1,1443.54 918.5,1441.7 918.9,1441 919.3,1443.92 919.7,1446.61 920.1,1445.75 920.5,1444.09 920.9,1442.37 921.3,1443.38 921.7,1446.98 922.1,1445.03 922.5,1442.31 922.9,1444.77 923.3,1445.7 923.7,1444.95 924.1,1446.92 924.5,1448.66 924.9,1443.34 925.3,1440.72 925.7,1444.23 926.1,1443.6 926.5,1442.61 926.9,1443.24 927.3,1445.39 927.7,1445.06" fill="none" stroke="#f4a9ca" stroke-width="2" stroke-linejoin="round" />
<polyline points="706.5,1446.31 706.9,1445.39 707.3,1444.29 707.7,1444.69 708.1,1446.02 708.5,1447.17 708.9,1446.79 709.3,1446.43 709.7,1445.91 710.1,1445.01 710.5,1445.61 710.9,1446.68 711.3,1446.37 711.7,1444.85 712.1,1445.05 712.5,1446.21 712.9,1445.65 713.3,1446.01 713.7,1447.24 714.1,1447.27 714.5,1446.54 714.9,1445.75 715.3,1445.97 715.7,1445.58 716.1,1445.75 716.5,1446.88 716.9,1446.46 717.3,1446.6 717.7,1446.28 718.1,1446.19 718.5,1446.72 718.9,1446.23 719.3,1446.37 719.7,1446.04 720.1,1445.45 720.5,1444.95 720.9,1445.16 721.3,1446.36 721.7,1446.72 722.1,1446.62 722.5,1446.61 722.9,1446.89 723.3,1445.69 723.7,1444.97 724.1,1445.32 724.5,1445.31 724.9,1445.87 725.3,1446.65 725.7,1446.31 726.1,1445.36 726.5,1444.46 726.9,1445.52 727.3,1446.35 727.7,1446.42 728.1,1446.97 728.5,1445.9 728.9,1444.78 729.3,1444.78 729.7,1445.55 730.1,1445.91 730.5,1446.39 730.9,1445.7 731.3,1445.08 731.7,1445.59 732.1,1446.41 732.5,1446.87 732.9,1446.31 733.3,1445.92 733.7,1445.24 734.1,1445.35 734.5,1444.71 734.9,1443.89 735.3,1444.7 735.7,1445.66 736.1,1446.35 736.5,1446.39 736.9,1446.55 737.3,1445.97 737.7,1445.43 738.1,1445.25 738.5,1445.58 738.9,1445.47 739.3,1445.49 739.7,1447.55 740.1,1448.36 740.5,1446.75 740.9,1445.34 741.3,1445.72 741.7,1445.89 742.1,1445.48 742.5,1446.87 742.9,1446.61 743.3,1445.64 743.7,1446.02 744.1,1446.69 744.5,1447.01 744.9,1445.82 745.3,1446.25 745.7,1446.74 746.1,1445.6 746.5,1445.07 746.9,1444.56 747.3,1444.68 747.7,1445.68 748.1,1445.74 748.5,1445.29 748.9,1445.48 749.3,1445.71 749.7,1445.78 750.1,1446.29 750.5,1446.28 750.9,1445.6 751.3,1445.1 751.7,1445.66 752.1,1445.18 752.5,1445.11 752.9,1446.13 753.3,1444.1 753.7,1443.11 754.1,1444.89 754.5,1444.91 754.9,1445.35 755.3,1446.63 755.7,1446.36 756.1,1445.93 756.5,1446.06 756.9,1446.43 757.3,1446.51 757.7,1446.3 758.1,1446.42 758.5,1446.67 758.9,1446 759.3,1446.55 759.7,1446.08 760.1,1445.52 760.5,1445.89 760.9,1445.81 761.3,1446.44 761.7,1446.64 762.1,1446.73 762.5,1446.77 762.9,1447.74 763.3,1446.97 763.7,1444.2 764.1,1445.39 764.5,1436.67 764.9,1413.84 765.3,1391.21 765.7,1369.03 766.1,1351.8 766.5,1353.93 766.9,1352.35 767.3,1331.26 767.7,1335.86 768.1,1335.76 768.5,1335.14 768.9,1339.28 769.3,1342.64 769.7,1341.38 770.1,1340.96 770.5,1343.02 770.9,1346.95 771.3,1335.38 771.7,1337.39 772.1,1342 772.5,1342.04 772.9,1344.57 773.3,1350.61 773.7,1349.65 774.1,1346.23 774.5,1349.2 774.9,1324.16 775.3,1328.54 775.7,1331.74 776.1,1336.19 776.5,1337.1 776.9,1339.23 777.3,1343.17 777.7,1346.75 778.1,1348.41 778.5,1348.27 778.9,1338.02 779.3,1339.27 779.7,1340.9 780.1,1346.35 780.5,1351.98 780.9,1355.08 781.3,1355.89 781.7,1357.72 782.1,1358.78 782.5,1330.43 782.9,1332.79 783.3,1335.12 783.7,1341.71 784.1,1345.02 784.5,1344.62 784.9,1349.6 785.3,1352.68 785.7,1354.4 786.1,1355.88 786.5,1357.05 786.9,1357.97 787.3,1359.57 787.7,1361.54 788.1,1363.26 788.5,1363.93 788.9,1361.41 789.3,1339.28 789.7,1345.9 790.1,1350.42 790.5,1352.15 790.9,1354.48 791.3,1357.51 791.7,1358.21 792.1,1359.47 792.5,1364.2 792.9,1362.33 793.3,1360.68 793.7,1362.93 794.1,1364.79 794.5,1367.54 794.9,1367.89 795.3,1368.11 795.7,1367.23 796.1,1367.75 796.5,1372.16 796.9,1373.71 797.3,1373.54 797.7,1372.47 798.1,1358.99 798.5,1359.86 798.9,1360.8 799.3,1364.88 799.7,1364.37 800.1,1366.52 800.5,1368.43 800.9,1371.31 801.3,1374.26 801.7,1371.56 802.1,1371.07 802.5,1372.1 802.9,1371.74 803.3,1360.54 803.7,1363.07 804.1,1361.31 804.5,1362.79 804.9,1366.72 805.3,1367.89 805.7,1366.78 806.1,1368.75 806.5,1371.7 806.9,1372.07 807.3,1353.83 807.7,1358.83 808.1,1362.49 808.5,1365.33 808.9,1365.81 809.3,1367.53 809.7,1370.03 810.1,1367.8 810.5,1368.81 810.9,1374.66 811.3,1376.17 811.7,1372.6 812.1,1370.28 812.5,1358.73 812.9,1366.34 813.3,1369.11 813.7,1370.88 814.1,1371.78 814.5,1369.66 814.9,1369.79 815.3,1369 815.7,1371.28 816.1,1373.77 816.5,1375.6 816.9,1378.5 817.3,1376.7 817.7,1374.84 818.1,1347.15 818.5,1352.75 818.9,1358.31 819.3,1359.37 819.7,1362.18 820.1,1364.46 820.5,1365.6 820.9,1343.35 821.3,1350.19 821.7,1353.88 822.1,1357.46 822.5,1360.95 822.9,1362.94 823.3,1362.89 823.7,1363.72 824.1,1370.18 824.5,1373.59 824.9,1374.81 825.3,1376.29 825.7,1361.31 826.1,1361.43 826.5,1364.47 826.9,1369.39 827.3,1368.46 827.7,1370.24 828.1,1376.01 828.5,1377.93 828.9,1376.21 829.3,1378.94 829.7,1377.63 830.1,1376.65 830.5,1379.28 830.9,1380.77 831.3,1382.69 831.7,1381.1 832.1,1366.11 832.5,1369.05 832.9,1370.15 833.3,1373.42 833.7,1371.41 834.1,1374.98 834.5,1381.63 834.9,1379.25 835.3,1376.89 835.7,1378.89 836.1,1382.58 836.5,1383.4 836.9,1381.6 837.3,1383.46 837.7,1384.14 838.1,1384.65 838.5,1384.68 838.9,1384.74 839.3,1366.85 839.7,1368.18 840.1,1371.09 840.5,1375.14 840.9,1377.91 841.3,1378.24 841.7,1377.77 842.1,1381.14 842.5,1384.49 842.9,1382.49 843.3,1382.06 843.7,1382.81 844.1,1383.87 844.5,1387.73 844.9,1390.04 845.3,1388.08 845.7,1385.6 846.1,1370.02 846.5,1371.73 846.9,1371.01 847.3,1376.78 847.7,1378.96 848.1,1379.69 848.5,1382.9 848.9,1384.79 849.3,1385.87 849.7,1384.97 850.1,1385.14 850.5,1388.8 850.9,1389.12 851.3,1388.21 851.7,1389.64 852.1,1371.58 852.5,1373.74 852.9,1376.04 853.3,1357.15 853.7,1361.34 854.1,1366.31 854.5,1371.34 854.9,1375.19 855.3,1376.61 855.7,1378.88 856.1,1381.78 856.5,1382.79 856.9,1385.62 857.3,1383.96 857.7,1386.47 858.1,1389.04 858.5,1387.48 858.9,1391.52 859.3,1393.12 859.7,1390.36 860.1,1373.11 860.5,1379.13 860.9,1381.82 861.3,1381.31 861.7,1383.48 862.1,1385.95 862.5,1388.37 862.9,1387.84 863.3,1385.87 863.7,1387.66 864.1,1390.17 864.5,1393.34 864.9,1379.16 865.3,1380.31 865.7,1382.88 866.1,1384.6 866.5,1386.15 866.9,1387.78 867.3,1388.34 867.7,1390.4 868.1,1392.77 868.5,1392.85 868.9,1393.05 869.3,1368.75 869.7,1371.53 870.1,1376.16 870.5,1380.16 870.9,1383.85 871.3,1383.5 871.7,1383.53 872.1,1385.45 872.5,1389.25 872.9,1392.34 873.3,1394.1 873.7,1396.76 874.1,1388.17 874.5,1386.27 874.9,1390.54 875.3,1396.19 875.7,1398.28 876.1,1397.72 876.5,1401.46 876.9,1404.17 877.3,1405.63 877.7,1407.93 878.1,1410.79 878.5,1411.51 878.9,1411.65 879.3,1414.46 879.7,1416.91 880.1,1416.73 880.5,1414.26 880.9,1414.51 881.3,1417.17 881.7,1418.56 882.1,1418.53 882.5,1420.81 882.9,1423.7 883.3,1424.52 883.7,1424.87 884.1,1424.38 884.5,1423.46 884.9,1425.3 885.3,1427.6 885.7,1429.07 886.1,1429.8 886.5,1429.07 886.9,1428.22 887.3,1426.53 887.7,1428.56 888.1,1431.61 888.5,1434.72 888.9,1434.98 889.3,1431 889.7,1433.27 890.1,1435.35 890.5,1432.05 890.9,1430.56 891.3,1431.69 891.7,1431.11 892.1,1433.45 892.5,1435.09 892.9,1433.06 893.3,1432.84 893.7,1435.24 894.1,1433.59 894.5,1432.25 894.9,1433.82 895.3,1431.78 895.7,1434.44 896.1,1436.65 896.5,1434.64 896.9,1436.87 897.3,1439.48 897.7,1437.13 898.1,1438.16 898.5,1438.01 898.9,1436.17 899.3,1437.37 899.7,1439.79 900.1,1441.22 900.5,1441.19 900.9,1439.85 901.3,1438.42 901.7,1438.62 902.1,1437.04 902.5,1436.81 902.9,1436.75 903.3,1436.25 903.7,1437.01 904.1,1436.63 904.5,1436.67 904.9,1438.89 905.3,1438.04 905.7,1438.54 906.1,1443.02 906.5,1442.96 906.9,1441.8 907.3,1442.07 907.7,1441.03 908.1,1441.95 908.5,1441.97 908.9,1442.22 909.3,1443 909.7,1440.02 910.1,1439.75 910.5,1444.87 910.9,1444.48 911.3,1440.44 911.7,1441.5 912.1,1442.93 912.5,1442.15 912.9,1441.12 913.3,1441.07 913.7,1445.19 914.1,1444.57 914.5,1443.77 914.9,1443.27 915.3,1439.87 915.7,1441.55 916.1,1444.3 916.5,1443.11 916.9,1441.68 917.3,1442.07 917.7,1441.85 918.1,1441.17 918.5,1440.96 918.9,1440.53 919.3,1441.81 919.7,1446.32 920.1,1444.42 920.5,1443.07 920.9,1443.97 921.3,1442.91 921.7,1444.03 922.1,1445.28 922.5,1444.14 922.9,1441.5 923.3,1443.19 923.7,1446.21 924.1,1444.06 924.5,1442.76 924.9,1443.61 925.3,1444.52 925.7,1443.87 926.1,1443.47 926.5,1443.93 926.9,1442.17 927.3,1443.81 927.7,1446.55" fill="none" stroke="#f186b3" stroke-width="2" stroke-linejoin="round" />
<polyline points="706.5,1446.25 706.9,1445.88 707.3,1446.26 707.7,1446.63 708.1,1446.53 708.5,1445.33 708.9,1444.77 709.3,1445.46 709.7,1446.27 710.1,1446.49 710.5,1445.78 710.9,1445.99 711.3,1446.44 711.7,1445.5 712.1,1445.63 712.5,1446.07 712.9,1445.87 713.3,1446.42 713.7,1445.69 714.1,1446.15 714.5,1446.12 714.9,1445.91 715.3,1446.93 715.7,1446.29 716.1,1446.65 716.5,1446.37 716.9,1444.77 717.3,1445.17 717.7,1445.43 718.1,1445.37 718.5,1446.12 718.9,1447.11 719.3,1446.8 719.7,1445.92 720.1,1446.47 720.5,1446.9 720.9,1446.42 721.3,1446.49 721.7,1445.94 722.1,1445.06 722.5,1445.25 722.9,1445.38 723.3,1446.17 723.7,1446.38 724.1,1446.6 724.5,1445.75 724.9,1444.81 725.3,1446.11 725.7,1446.38 726.1,1445.68 726.5,1444.58 726.9,1445.19 727.3,1445.71 727.7,1445.58 728.1,1445.62 728.5,1445.03 728.9,1446.59 729.3,1446.3 729.7,1444.8 730.1,1445.3 730.5,1444.74 730.9,1444.87 731.3,1446.01 731.7,1445.83 732.1,1445.29 732.5,1445.41 732.9,1445.52 733.3,1445.36 733.7,1445.27 734.1,1445.83 734.5,1446.09 734.9,1446.31 735.3,1446.03 735.7,1445.28 736.1,1445.37 736.5,1445.82 736.9,1446.94 737.3,1447.13 737.7,1447.42 738.1,1447.28 738.5,1445.35 738.9,1445.15 739.3,1446.73 739.7,1447.03 740.1,1446.46 740.5,1446.13 740.9,1446.15 741.3,1444.98 741.7,1444.39 742.1,1445.8 742.5,1447.03 742.9,1446.21 743.3,1445.15 743.7,1445.87 744.1,1446.46 744.5,1446.1 744.9,1445.36 745.3,1445.95 745.7,1446.99 746.1,1445.67 746.5,1444.21 746.9,1445.39 747.3,1446.39 747.7,1445.51 748.1,1445.24 748.5,1445.88 748.9,1446.69 749.3,1446.95 749.7,1446.68 750.1,1446.75 750.5,1446.47 750.9,1446.08 751.3,1445.94 751.7,1446.33 752.1,1446.08 752.5,1444.84 752.9,1445.75 753.3,1446.98 753.7,1447.82 754.1,1447.94 754.5,1446.32 754.9,1445.5 755.3,1446.84 755.7,1447.65 756.1,1445.59 756.5,1444.72 756.9,1445.58 757.3,1446.61 757.7,1446.29 758.1,1444.26 758.5,1445 758.9,1445.47 759.3,1444.9 759.7,1444.72 760.1,1444.59 760.5,1445.63 760.9,1444.81 761.3,1444.19 761.7,1445.53 762.1,1445.86 762.5,1446.12 762.9,1446.04 763.3,1444.88 763.7,1444.56 764.1,1445.6 764.5,1434.19 764.9,1408.39 765.3,1382.45 765.7,1356.77 766.1,1336.45 766.5,1336.87 766.9,1332.71 767.3,1314.07 767.7,1320.69 768.1,1317.42 768.5,1319.55 768.9,1324.44 769.3,1321.18 769.7,1322.36 770.1,1323.4 770.5,1323.63 770.9,1327.47 771.3,1314.05 771.7,1317.87 772.1,1318.44 772.5,1315.57 772.9,1316.78 773.3,1322.55 773.7,1326.44 774.1,1327.55 774.5,1309.35 774.9,1311.89 775.3,1314.77 775.7,1317.85 776.1,1318.89 776.5,1320.75 776.9,1326.64 777.3,1326.45 777.7,1328.31 778.1,1300.64 778.5,1304.61 778.9,1310.78 779.3,1312.78 779.7,1318.34 780.1,1322.6 780.5,1321.56 780.9,1322.92 781.3,1324.73 781.7,1326.14 782.1,1329.92 782.5,1331.45 782.9,1309.68 783.3,1312.62 783.7,1315.87 784.1,1319.45 784.5,1325.2 784.9,1328.37 785.3,1328.81 785.7,1331.45 786.1,1334.15 786.5,1335.66 786.9,1336.58 787.3,1335.15 787.7,1336.26 788.1,1339.45 788.5,1339.06 788.9,1338.41 789.3,1309.95 789.7,1315.66 790.1,1319.83 790.5,1318.42 790.9,1323.79 791.3,1327.25 791.7,1330.29 792.1,1333.36 792.5,1330.77 792.9,1331.74 793.3,1336.17 793.7,1338.06 794.1,1339.16 794.5,1339.22 794.9,1340.32 795.3,1342.97 795.7,1342.4 796.1,1348.22 796.5,1346.42 796.9,1342.8 797.3,1318.36 797.7,1320.28 798.1,1324.46 798.5,1327.09 798.9,1331.48 799.3,1332.63 799.7,1335.4 800.1,1337.59 800.5,1339.4 800.9,1340.98 801.3,1340.3 801.7,1342.3 802.1,1313.98 802.5,1320.4 802.9,1329.76 803.3,1331.72 803.7,1328.94 804.1,1331.65 804.5,1335.62 804.9,1336.69 805.3,1341.9 805.7,1342.42 806.1,1340.02 806.5,1340.92 806.9,1342.77 807.3,1348.19 807.7,1346.7 808.1,1345.19 808.5,1345.49 808.9,1327.91 809.3,1333.34 809.7,1333.74 810.1,1334.87 810.5,1338.27 810.9,1339.54 811.3,1340 811.7,1339.69 812.1,1340.55 812.5,1323.13 812.9,1325.49 813.3,1329.42 813.7,1332.46 814.1,1332.2 814.5,1335.05 814.9,1339.32 815.3,1317.31 815.7,1323.61 816.1,1323.36 816.5,1324.18 816.9,1334.22 817.3,1336.41 817.7,1338.87 818.1,1341.65 818.5,1345.39 818.9,1343.83 819.3,1342.85 819.7,1350.03 820.1,1336.89 820.5,1334.74 820.9,1336.96 821.3,1337.9 821.7,1338.2 822.1,1345.61 822.5,1348.31 822.9,1348.28 823.3,1348.79 823.7,1349.89 824.1,1347.3 824.5,1343.86 824.9,1346.9 825.3,1332.09 825.7,1334.27 826.1,1336.78 826.5,1340.6 826.9,1342.46 827.3,1341.82 827.7,1343.95 828.1,1346.7 828.5,1346.84 828.9,1348.36 829.3,1348.48 829.7,1349 830.1,1351.52 830.5,1352.2 830.9,1351.93 831.3,1351.93 831.7,1353.29 832.1,1356.65 832.5,1342.81 832.9,1341.13 833.3,1341.27 833.7,1340.09 834.1,1340.64 834.5,1345.6 834.9,1348.59 835.3,1350.42 835.7,1352.45 836.1,1353.05 836.5,1352.5 836.9,1350.78 837.3,1350.04 837.7,1351.46 838.1,1353.78 838.5,1353.21 838.9,1349.56 839.3,1349.96 839.7,1333.51 840.1,1337.45 840.5,1341.1 840.9,1347.77 841.3,1348.27 841.7,1344.21 842.1,1346.08 842.5,1350.44 842.9,1354.34 843.3,1353.17 843.7,1354.46 844.1,1356.46 844.5,1334.28 844.9,1337.44 845.3,1340.73 845.7,1342.8 846.1,1342.44 846.5,1343.08 846.9,1344.3 847.3,1346.42 847.7,1349.13 848.1,1351.43 848.5,1353.11 848.9,1351.01 849.3,1350.82 849.7,1352.72 850.1,1353.34 850.5,1356.19 850.9,1355.89 851.3,1352.51 851.7,1330.78 852.1,1334.17 852.5,1337.63 852.9,1341.54 853.3,1343.6 853.7,1345.89 854.1,1348.15 854.5,1336.09 854.9,1339.17 855.3,1341.57 855.7,1341.79 856.1,1345.29 856.5,1350.22 856.9,1350.24 857.3,1348.83 857.7,1349.68 858.1,1351.71 858.5,1352.57 858.9,1353.38 859.3,1354.84 859.7,1336.41 860.1,1341.25 860.5,1341.96 860.9,1344.27 861.3,1348.61 861.7,1352.14 862.1,1354.74 862.5,1352.82 862.9,1352.24 863.3,1354.5 863.7,1357.84 864.1,1360.85 864.5,1357.41 864.9,1355.11 865.3,1355.94 865.7,1339.85 866.1,1343.19 866.5,1345.78 866.9,1345.58 867.3,1347.67 867.7,1350.31 868.1,1349.05 868.5,1349.09 868.9,1352.8 869.3,1354.04 869.7,1357.51 870.1,1337.05 870.5,1337.79 870.9,1340.69 871.3,1345.02 871.7,1343.01 872.1,1344.21 872.5,1351.13 872.9,1353.56 873.3,1353.01 873.7,1355.74 874.1,1355.36 874.5,1359.13 874.9,1360.35 875.3,1362.63 875.7,1367.03 876.1,1369.51 876.5,1370.21 876.9,1373 877.3,1378.71 877.7,1378.19 878.1,1384.14 878.5,1392.15 878.9,1392.8 879.3,1396.37 879.7,1397.17 880.1,1395.12 880.5,1399.9 880.9,1402.23 881.3,1403.82 881.7,1408.6 882.1,1405.85 882.5,1406.75 882.9,1408.15 883.3,1408.72 883.7,1410.37 884.1,1411.59 884.5,1412.02 884.9,1410.81 885.3,1414.68 885.7,1413.48 886.1,1413.31 886.5,1415.18 886.9,1414.64 887.3,1414.13 887.7,1415.28 888.1,1420.57 888.5,1420.66 888.9,1421.04 889.3,1424.46 889.7,1423.94 890.1,1422.28 890.5,1423.16 890.9,1423.74 891.3,1424.28 891.7,1424.37 892.1,1427.25 892.5,1428.5 892.9,1426.65 893.3,1427.26 893.7,1428.84 894.1,1432.94 894.5,1432.25 894.9,1429.2 895.3,1429.21 895.7,1429.39 896.1,1431.69 896.5,1432.96 896.9,1431.88 897.3,1431.7 897.7,1432.75 898.1,1432.28 898.5,1430.59 898.9,1431.5 899.3,1434.35 899.7,1432.62 900.1,1434.07 900.5,1437.16 900.9,1434.99 901.3,1436.39 901.7,1437.35 902.1,1435.95 902.5,1435.61 902.9,1433.45 903.3,1433.18 903.7,1433.01 904.1,1435.83 904.5,1439.94 904.9,1439.97 905.3,1441.15 905.7,1440.35 906.1,1436.33 906.5,1437.59 906.9,1440.13 907.3,1439.04 907.7,1441.17 908.1,1442.65 908.5,1440.29 908.9,1437.5 909.3,1437.27 909.7,1434.62 910.1,1433.75 910.5,1439.44 910.9,1438.78 911.3,1437.11 911.7,1440.48 912.1,1441.34 912.5,1441.33 912.9,1441.08 913.3,1441.48 913.7,1442.64 914.1,1441.04 914.5,1440.67 914.9,1441.61 915.3,1441.75 915.7,1441.77 916.1,1441.87 916.5,1441.59 916.9,1439.59 917.3,1439.95 917.7,1440.6 918.1,1442.48 918.5,1443.22 918.9,1444.41 919.3,1443.93 919.7,1443.11 920.1,1440.48 920.5,1439.58 920.9,1443.26 921.3,1441.78 921.7,1443.42 922.1,1442.65 922.5,1443.47 922.9,1444.61 923.3,1441.95 923.7,1440.35 924.1,1440.98 924.5,1442.08 924.9,1441.68 925.3,1442.39 925.7,1442.73 926.1,1441.05 926.5,1439.74 926.9,1441.66 927.3,1442.91 927.7,1442.04" fill="none" stroke="#ee589c" stroke-width="2" stroke-linejoin="round" />
<polyline points="706.5,1445.94 706.9,1446.27 707.3,1446.56 707.7,1445.96 708.1,1445.41 708.5,1446.26 708.9,1446.41 709.3,1445.94 709.7,1445.67 710.1,1447.05 710.5,1446.23 710.9,1445.1 711.3,1446.36 711.7,1446.28 712.1,1446.56 712.5,1446.6 712.9,1445.5 713.3,1446.38 713.7,1446.71 714.1,1446.78 714.5,1447.09 714.9,1445.97 715.3,1446.4 715.7,1447.26 716.1,1446.87 716.5,1446.73 716.9,1445.31 717.3,1444.68 717.7,1446.15 718.1,1445.89 718.5,1444.38 718.9,1444.96 719.3,1446.26 719.7,1447.03 720.1,1447.14 720.5,1446.46 720.9,1446.45 721.3,1446.53 721.7,1446.12 722.1,1446.76 722.5,1446.61 722.9,1446.06 723.3,1445.44 723.7,1444.81 724.1,1445.54 724.5,1446.38 724.9,1446.63 725.3,1446.03 725.7,1446.01 726.1,1445.6 726.5,1446.33 726.9,1446.25 727.3,1445.38 727.7,1446.52 728.1,1445.72 728.5,1444.82 728.9,1445.8 729.3,1447.51 729.7,1446.85 730.1,1446.09 730.5,1445.94 730.9,1446.1 731.3,1446.74 731.7,1445.28 732.1,1444.91 732.5,1445.55 732.9,1445.35 733.3,1444.71 733.7,1446.02 734.1,1446.68 734.5,1444.98 734.9,1444.57 735.3,1445.85 735.7,1445.85 736.1,1445.95 736.5,1446.68 736.9,1445.85 737.3,1445.11 737.7,1444.82 738.1,1445.08 738.5,1445.87 738.9,1445.5 739.3,1446.43 739.7,1447.01 740.1,1446.7 740.5,1447.28 740.9,1447.95 741.3,1447.08 741.7,1445.88 742.1,1446.19 742.5,1445.73 742.9,1446.44 743.3,1447.32 743.7,1446.44 744.1,1446.14 744.5,1445.6 744.9,1445.78 745.3,1446.1 745.7,1445.18 746.1,1446.58 746.5,1446.7 746.9,1445.9 747.3,1446.81 747.7,1446.7 748.1,1445.97 748.5,1445.49 748.9,1445.51 749.3,1446.42 749.7,1446.35 750.1,1445.11 750.5,1444.73 750.9,1446.22 751.3,1445.9 751.7,1445.46 752.1,1446.43 752.5,1446.62 752.9,1446.99 753.3,1446.73 753.7,1446 754.1,1444.79 754.5,1445.45 754.9,1446.03 755.3,1445.39 755.7,1446.03 756.1,1446.16 756.5,1445.5 756.9,1446.84 757.3,1447.92 757.7,1445.83 758.1,1444.63 758.5,1444.51 758.9,1444.91 759.3,1446.04 759.7,1445.21 760.1,1446.24 760.5,1447.15 760.9,1446.09 761.3,1446.17 761.7,1445.65 762.1,1445.4 762.5,1445.76 762.9,1446.84 763.3,1447.41 763.7,1447.14 764.1,1445.36 764.5,1429.15 764.9,1400.92 765.3,1370.68 765.7,1338.79 766.1,1315.24 766.5,1315.96 766.9,1316.25 767.3,1318.2 767.7,1316.82 768.1,1288.11 768.5,1292.15 768.9,1290.33 769.3,1292.39 769.7,1296.19 770.1,1296.01 770.5,1294.54 770.9,1299.62 771.3,1306.62 771.7,1276.65 772.1,1281.29 772.5,1287.76 772.9,1289.24 773.3,1295.44 773.7,1296.25 774.1,1292.21 774.5,1297.26 774.9,1300.59 775.3,1301.1 775.7,1275.6 776.1,1283.7 776.5,1286.64 776.9,1286.67 777.3,1292.19 777.7,1296.77 778.1,1301.94 778.5,1302.73 778.9,1300.55 779.3,1259.86 779.7,1268.3 780.1,1274.44 780.5,1283.19 780.9,1288.15 781.3,1289.68 781.7,1292.94 782.1,1294.93 782.5,1300.72 782.9,1302.04 783.3,1281.46 783.7,1288.62 784.1,1297.28 784.5,1299.19 784.9,1302.67 785.3,1306.32 785.7,1303.85 786.1,1305.35 786.5,1309.66 786.9,1311.42 787.3,1310.44 787.7,1308.1 788.1,1311.19 788.5,1313.46 788.9,1294.61 789.3,1299.31 789.7,1297.55 790.1,1298.37 790.5,1307.18 790.9,1309.22 791.3,1308.6 791.7,1311.15 792.1,1310.27 792.5,1309.86 792.9,1311.12 793.3,1314.9 793.7,1315.32 794.1,1313.41 794.5,1318.69 794.9,1319.61 795.3,1314.56 795.7,1316.75 796.1,1322.11 796.5,1306.62 796.9,1307.45 797.3,1310.71 797.7,1308.63 798.1,1307.15 798.5,1311 798.9,1315.14 799.3,1317.58 799.7,1315.82 800.1,1317.06 800.5,1295.5 800.9,1300.73 801.3,1304.05 801.7,1307.96 802.1,1307.29 802.5,1308.74 802.9,1312.71 803.3,1312.96 803.7,1314.67 804.1,1314.45 804.5,1315.07 804.9,1317.07 805.3,1317.44 805.7,1324.19 806.1,1325.44 806.5,1322.57 806.9,1321.77 807.3,1323.2 807.7,1295.6 808.1,1297.57 808.5,1300.31 808.9,1306.88 809.3,1310.91 809.7,1310.86 810.1,1316.71 810.5,1319.49 810.9,1317.76 811.3,1317.16 811.7,1318.79 812.1,1299.07 812.5,1300.66 812.9,1301.39 813.3,1306.56 813.7,1311.49 814.1,1314.48 814.5,1315.29 814.9,1317.79 815.3,1320.53 815.7,1299.5 816.1,1302.33 816.5,1306.51 816.9,1306.98 817.3,1309.97 817.7,1316.51 818.1,1318.25 818.5,1315.87 818.9,1316.36 819.3,1323.1 819.7,1328.81 820.1,1325.23 820.5,1323.65 820.9,1325.63 821.3,1325.83 821.7,1326.39 822.1,1312.41 822.5,1312.88 822.9,1311.11 823.3,1315.22 823.7,1302.14 824.1,1306.43 824.5,1308.39 824.9,1308.88 825.3,1313.41 825.7,1314.56 826.1,1317.32 826.5,1321.21 826.9,1319.39 827.3,1319.03 827.7,1322.41 828.1,1323.46 828.5,1324.65 828.9,1328.69 829.3,1326.65 829.7,1324.74 830.1,1326.97 830.5,1330.3 830.9,1328.42 831.3,1323.24 831.7,1305.24 832.1,1312.43 832.5,1316.21 832.9,1319.04 833.3,1322.19 833.7,1323.97 834.1,1324.11 834.5,1323.34 834.9,1323.48 835.3,1325.25 835.7,1324.87 836.1,1322.85 836.5,1324.83 836.9,1330.09 837.3,1331.4 837.7,1327.37 838.1,1328.43 838.5,1331.74 838.9,1332.4 839.3,1309.28 839.7,1312.66 840.1,1318.43 840.5,1320.08 840.9,1322.31 841.3,1324.62 841.7,1323.34 842.1,1323.47 842.5,1324.6 842.9,1322.99 843.3,1325.27 843.7,1329.48 844.1,1330.24 844.5,1330.12 844.9,1330.7 845.3,1331.07 845.7,1317.09 846.1,1319.17 846.5,1316.9 846.9,1317.18 847.3,1320.13 847.7,1323.04 848.1,1327.42 848.5,1326.41 848.9,1325.09 849.3,1328.33 849.7,1328.88 850.1,1329.77 850.5,1331.46 850.9,1305.21 851.3,1310.15 851.7,1312.5 852.1,1316.36 852.5,1320.47 852.9,1319.48 853.3,1319.2 853.7,1322.73 854.1,1331.85 854.5,1330.69 854.9,1327.49 855.3,1328.17 855.7,1315.39 856.1,1318.25 856.5,1321.64 856.9,1326.91 857.3,1326.93 857.7,1328.99 858.1,1331.14 858.5,1329.64 858.9,1325.58 859.3,1324.11 859.7,1328.85 860.1,1333.71 860.5,1311.98 860.9,1313.55 861.3,1314.62 861.7,1316.4 862.1,1319.32 862.5,1322.62 862.9,1323.88 863.3,1327.23 863.7,1326.43 864.1,1325.92 864.5,1308.83 864.9,1312.4 865.3,1315.64 865.7,1319.2 866.1,1319.04 866.5,1319.87 866.9,1323.18 867.3,1325.04 867.7,1325.7 868.1,1324.03 868.5,1326.52 868.9,1330.44 869.3,1329.1 869.7,1300.23 870.1,1307.05 870.5,1311.58 870.9,1314.49 871.3,1315.69 871.7,1318.65 872.1,1323.17 872.5,1326.65 872.9,1327.39 873.3,1328.82 873.7,1331.51 874.1,1328.88 874.5,1334.89 874.9,1338.51 875.3,1340.91 875.7,1345.07 876.1,1347.42 876.5,1353.24 876.9,1358.66 877.3,1362.42 877.7,1365.27 878.1,1363.77 878.5,1366.67 878.9,1372.64 879.3,1378.18 879.7,1381.72 880.1,1383.76 880.5,1388.51 880.9,1391.41 881.3,1388.91 881.7,1389.9 882.1,1396.86 882.5,1399.21 882.9,1396.88 883.3,1398.45 883.7,1402.64 884.1,1401.31 884.5,1404.65 884.9,1409.03 885.3,1407.46 885.7,1407.87 886.1,1406.78 886.5,1408.19 886.9,1411.26 887.3,1411.72 887.7,1410.89 888.1,1413.36 888.5,1415.44 888.9,1414.76 889.3,1416.33 889.7,1416.04 890.1,1417.01 890.5,1418.05 890.9,1419.24 891.3,1424.29 891.7,1422.21 892.1,1421.39 892.5,1422.82 892.9,1422.84 893.3,1423.09 893.7,1422.48 894.1,1422.16 894.5,1422.33 894.9,1424.87 895.3,1425.27 895.7,1425.25 896.1,1424.15 896.5,1428.42 896.9,1432.63 897.3,1429.43 897.7,1427.21 898.1,1428.21 898.5,1430.02 898.9,1430.16 899.3,1432.42 899.7,1432.41 900.1,1433.17 900.5,1433.26 900.9,1430.54 901.3,1431.35 901.7,1433.88 902.1,1438.94 902.5,1439.05 902.9,1438.34 903.3,1438.24 903.7,1435.92 904.1,1439.08 904.5,1438.11 904.9,1435.11 905.3,1433.62 905.7,1430.7 906.1,1432.66 906.5,1435.28 906.9,1438.67 907.3,1439.81 907.7,1439.4 908.1,1439.81 908.5,1438 908.9,1433.98 909.3,1434.14 909.7,1434.5 910.1,1436.37 910.5,1436.77 910.9,1432.28 911.3,1433.52 911.7,1439.33 912.1,1440.92 912.5,1440.5 912.9,1440.42 913.3,1438.97 913.7,1436.62 914.1,1437.82 914.5,1440.5 914.9,1440.61 915.3,1441.71 915.7,1441.04 916.1,1441.61 916.5,1442.25 916.9,1441.44 917.3,1440.81 917.7,1441.35 918.1,1441.58 918.5,1441.96 918.9,1442.69 919.3,1442.5 919.7,1441.34 920.1,1442.4 920.5,1440.87 920.9,1437.1 921.3,1440.96 921.7,1442.91 922.1,1441.39 922.5,1442.84 922.9,1442.96 923.3,1439.31 923.7,1436.66 924.1,1439.01 924.5,1440 924.9,1438.13 925.3,1442.29 925.7,1443.33 926.1,1439.41 926.5,1441.52 926.9,1442.71 927.3,1443.24 927.7,1443.62" fill="none" stroke="#ea058a" stroke-width="2" stroke-linejoin="round" />
<line x1="706.5" y1="1446" x2="927.6" y2="1446" stroke="#231f20" stroke-width="2.4" stroke-dasharray="7.5 5.8" stroke-dashoffset="0"/>
<rect x="704.4" y="1377.3" width="4.3" height="54.4" fill="#231f20"/>
<text x="712.3" y="1398" font-size="24.5" fill="#231f20" text-anchor="start" font-weight="normal"  stroke="#231f20" stroke-width="0.3">500</text>
<text x="718.6" y="1427.5" font-size="24.5" fill="#231f20" text-anchor="start" font-weight="normal"  stroke="#231f20" stroke-width="0.3">pA</text>
<text x="735.5" y="1479.5" font-size="28.5" fill="#231f20" text-anchor="start" stroke="#231f20" stroke-width="0.3">I<tspan font-size="17" dy="10" fill="#231f20" stroke="#231f20" stroke-width="0.3">GABA</tspan><tspan dy="-10"> (DSGC)</tspan></text>
<text x="917" y="1270.6" font-size="24.5" fill="#231f20" text-anchor="start" font-weight="normal"  stroke="#231f20" stroke-width="0.3">%</text>
<ellipse cx="914" cy="1291.4" rx="6.6" ry="5.4" fill="none" stroke="#231f20" stroke-width="2"/>
<line x1="914.1" y1="1281" x2="914.1" y2="1301.8" stroke="#231f20" stroke-width="2" />
<text x="923.2" y="1305.6" font-size="14.6" fill="#231f20" text-anchor="start" font-weight="normal"  stroke="#231f20" stroke-width="0.3">max</text>
<rect x="917.4" y="1314.4" width="19.9" height="14.76" fill="#ea058a"/>
<rect x="917.4" y="1328.86" width="19.9" height="14.76" fill="#ee589c"/>
<rect x="917.4" y="1343.32" width="19.9" height="14.76" fill="#f186b3"/>
<rect x="917.4" y="1357.78" width="19.9" height="14.76" fill="#f4a9ca"/>
<rect x="917.4" y="1372.24" width="19.9" height="14.46" fill="#f8d4e3"/>
<text x="913.3" y="1328.6" font-size="22" fill="#231f20" text-anchor="end" font-weight="normal"  stroke="#231f20" stroke-width="0.3">100</text>
<text x="913.3" y="1385.5" font-size="22" fill="#231f20" text-anchor="end" font-weight="normal"  stroke="#231f20" stroke-width="0.3">20</text>
<text x="661.2" y="1558" font-size="32.3" fill="#231f20" text-anchor="start" font-weight="bold"  stroke="#231f20" stroke-width="0.3">E</text>
<line x1="724.2" y1="1581.3" x2="724.2" y2="1860.8" stroke="#231f20" stroke-width="2.2" />
<line x1="723.1" y1="1859.7" x2="980.5" y2="1859.7" stroke="#231f20" stroke-width="2.2" />
<line x1="720.8" y1="1835.8" x2="724.2" y2="1835.8" stroke="#231f20" stroke-width="1.8" />
<line x1="720.8" y1="1775.05" x2="724.2" y2="1775.05" stroke="#231f20" stroke-width="1.8" />
<line x1="720.8" y1="1714.3" x2="724.2" y2="1714.3" stroke="#231f20" stroke-width="1.8" />
<line x1="720.8" y1="1653.55" x2="724.2" y2="1653.55" stroke="#231f20" stroke-width="1.8" />
<line x1="720.8" y1="1592.8" x2="724.2" y2="1592.8" stroke="#231f20" stroke-width="1.8" />
<line x1="724.2" y1="1859.7" x2="724.2" y2="1866" stroke="#231f20" stroke-width="1.8" />
<line x1="749.85" y1="1859.7" x2="749.85" y2="1863.6" stroke="#231f20" stroke-width="1.6" />
<line x1="764.85" y1="1859.7" x2="764.85" y2="1863.6" stroke="#231f20" stroke-width="1.6" />
<line x1="775.5" y1="1859.7" x2="775.5" y2="1863.6" stroke="#231f20" stroke-width="1.6" />
<line x1="783.75" y1="1859.7" x2="783.75" y2="1863.6" stroke="#231f20" stroke-width="1.6" />
<line x1="790.5" y1="1859.7" x2="790.5" y2="1863.6" stroke="#231f20" stroke-width="1.6" />
<line x1="796.2" y1="1859.7" x2="796.2" y2="1863.6" stroke="#231f20" stroke-width="1.6" />
<line x1="801.14" y1="1859.7" x2="801.14" y2="1863.6" stroke="#231f20" stroke-width="1.6" />
<line x1="805.5" y1="1859.7" x2="805.5" y2="1863.6" stroke="#231f20" stroke-width="1.6" />
<line x1="809.4" y1="1859.7" x2="809.4" y2="1866" stroke="#231f20" stroke-width="1.8" />
<line x1="835.05" y1="1859.7" x2="835.05" y2="1863.6" stroke="#231f20" stroke-width="1.6" />
<line x1="850.05" y1="1859.7" x2="850.05" y2="1863.6" stroke="#231f20" stroke-width="1.6" />
<line x1="860.7" y1="1859.7" x2="860.7" y2="1863.6" stroke="#231f20" stroke-width="1.6" />
<line x1="868.95" y1="1859.7" x2="868.95" y2="1863.6" stroke="#231f20" stroke-width="1.6" />
<line x1="875.7" y1="1859.7" x2="875.7" y2="1863.6" stroke="#231f20" stroke-width="1.6" />
<line x1="881.4" y1="1859.7" x2="881.4" y2="1863.6" stroke="#231f20" stroke-width="1.6" />
<line x1="886.34" y1="1859.7" x2="886.34" y2="1863.6" stroke="#231f20" stroke-width="1.6" />
<line x1="890.7" y1="1859.7" x2="890.7" y2="1863.6" stroke="#231f20" stroke-width="1.6" />
<line x1="894.6" y1="1859.7" x2="894.6" y2="1866" stroke="#231f20" stroke-width="1.8" />
<line x1="920.25" y1="1859.7" x2="920.25" y2="1863.6" stroke="#231f20" stroke-width="1.6" />
<line x1="935.25" y1="1859.7" x2="935.25" y2="1863.6" stroke="#231f20" stroke-width="1.6" />
<line x1="945.9" y1="1859.7" x2="945.9" y2="1863.6" stroke="#231f20" stroke-width="1.6" />
<line x1="954.15" y1="1859.7" x2="954.15" y2="1863.6" stroke="#231f20" stroke-width="1.6" />
<line x1="960.9" y1="1859.7" x2="960.9" y2="1863.6" stroke="#231f20" stroke-width="1.6" />
<line x1="966.6" y1="1859.7" x2="966.6" y2="1863.6" stroke="#231f20" stroke-width="1.6" />
<line x1="971.54" y1="1859.7" x2="971.54" y2="1863.6" stroke="#231f20" stroke-width="1.6" />
<line x1="975.9" y1="1859.7" x2="975.9" y2="1863.6" stroke="#231f20" stroke-width="1.6" />
<line x1="979.8" y1="1859.7" x2="979.8" y2="1866" stroke="#231f20" stroke-width="1.8" />
<line x1="724.2" y1="1835.8" x2="980.5" y2="1835.8" stroke="#231f20" stroke-width="2.2" stroke-dasharray="7.8 6.8" stroke-dashoffset="-1"/>
<text x="714" y="1601.5" font-size="27" fill="#231f20" text-anchor="end" font-weight="normal"  stroke="#231f20" stroke-width="0.3">1</text>
<text x="716.5" y="1844.3" font-size="27" fill="#231f20" text-anchor="end" font-weight="normal"  stroke="#231f20" stroke-width="0.3">0</text>
<text x="723.2" y="1892.2" font-size="28" fill="#231f20" text-anchor="middle" font-weight="normal"  stroke="#231f20" stroke-width="0.3">-3</text>
<text x="808.4" y="1892.2" font-size="28" fill="#231f20" text-anchor="middle" font-weight="normal"  stroke="#231f20" stroke-width="0.3">-2</text>
<text x="893.6" y="1892.2" font-size="28" fill="#231f20" text-anchor="middle" font-weight="normal"  stroke="#231f20" stroke-width="0.3">-1</text>
<text x="981.3" y="1892.2" font-size="28" fill="#231f20" text-anchor="middle" font-weight="normal"  stroke="#231f20" stroke-width="0.3">0</text>
<text x="775" y="1919.5" font-size="28.5" fill="#231f20" stroke="#231f20" stroke-width="0.3">log(&#x3D5;/&#x3D5;<tspan font-size="19" dy="8">max</tspan><tspan dy="-8">)</tspan></text>
<text transform="translate(698.5,1797) rotate(-90)" font-size="29.3" fill="#231f20" stroke="#231f20" stroke-width="0.3">r(&#x3D5;) / r(&#x3D5;<tspan font-size="19" dy="8.5">max</tspan><tspan dy="-8.5">)</tspan></text>
<text x="739" y="1599" font-size="29" fill="#231f20" stroke="#231f20" stroke-width="0.3">V<tspan font-size="17" dy="9.5" x="758">m</tspan></text>
<text x="739" y="1628.3" font-size="29" fill="#ea058a" stroke="#ea058a" stroke-width="0.3">I<tspan font-size="16.9" dy="9.5">GABA</tspan></text>
<polyline points="749.85,1834.77 775.5,1832.16 790.5,1824.72 801.14,1820.2 809.4,1819.55 835.05,1772.5 860.7,1720.54 875.7,1691.4 886.34,1679.48 894.6,1665.62 920.25,1648.72 945.9,1608.42 960.9,1599.46 971.54,1593.26 979.8,1593.13" fill="none" stroke="#a3a3a3" stroke-width="1.1" stroke-linejoin="round" />
<polyline points="749.85,1831.21 775.5,1830.42 790.5,1821.32 801.14,1816.71 809.4,1812.19 835.05,1766.17 860.7,1712.13 875.7,1680.73 886.34,1669.37 894.6,1659.3 920.25,1646.91 945.9,1609.75 960.9,1596.77 971.54,1592.99 979.8,1593.49" fill="none" stroke="#a3a3a3" stroke-width="1.1" stroke-linejoin="round" />
<polyline points="749.85,1829.46 775.5,1824.98 790.5,1818.13 801.14,1815.08 809.4,1803.22 835.05,1758.94 860.7,1707.21 875.7,1673.12 886.34,1661.22 894.6,1652.19 920.25,1639.35 945.9,1602.77 960.9,1599.23 971.54,1590.59 979.8,1592.38" fill="none" stroke="#a3a3a3" stroke-width="1.1" stroke-linejoin="round" />
<polyline points="749.85,1826.55 775.5,1825.22 790.5,1813.9 801.14,1809.02 809.4,1803.91 835.05,1753.89 860.7,1698.58 875.7,1667.44 886.34,1655.31 894.6,1648.72 920.25,1633.17 945.9,1604.61 960.9,1597.38 971.54,1596.34 979.8,1594.89" fill="none" stroke="#a3a3a3" stroke-width="1.1" stroke-linejoin="round" />
<polyline points="749.85,1829.68 775.5,1822.27 790.5,1809.5 801.14,1806.97 809.4,1799.36 835.05,1746.85 860.7,1694.12 875.7,1661.9 886.34,1652.27 894.6,1643.64 920.25,1625.16 945.9,1597.74 960.9,1593.06 971.54,1591.21 979.8,1591.29" fill="none" stroke="#a3a3a3" stroke-width="1.1" stroke-linejoin="round" />
<polyline points="749.85,1828.76 775.5,1822.93 790.5,1809.02 801.14,1805.19 809.4,1797.3 835.05,1741.31 860.7,1685.16 875.7,1655.25 886.34,1645.95 894.6,1636.87 920.25,1626.8 945.9,1596.8 960.9,1590.6 971.54,1594.07 979.8,1591.09" fill="none" stroke="#a3a3a3" stroke-width="1.1" stroke-linejoin="round" />
<polyline points="835.05,1835.8 860.7,1835.8 875.7,1835.8 886.34,1833.72 894.6,1835.8 920.25,1824.51 945.9,1753.02 960.9,1682.5 971.54,1636.6 979.8,1593.62" fill="none" stroke="#f4a6c9" stroke-width="1.1" stroke-linejoin="round" />
<polyline points="835.05,1835.8 860.7,1833.77 875.7,1835.8 886.34,1834.58 894.6,1835.8 920.25,1818.84 945.9,1742.22 960.9,1671.89 971.54,1626.01 979.8,1595.65" fill="none" stroke="#f4a6c9" stroke-width="1.1" stroke-linejoin="round" />
<polyline points="835.05,1835.8 860.7,1835.8 875.7,1835.8 886.34,1835.67 894.6,1830.89 920.25,1809.42 945.9,1730.67 960.9,1664.63 971.54,1623 979.8,1592.8" fill="none" stroke="#f4a6c9" stroke-width="1.1" stroke-linejoin="round" />
<polyline points="835.05,1835.8 860.7,1832.59 875.7,1832.88 886.34,1833.57 894.6,1830.08 920.25,1802.3 945.9,1721.68 960.9,1652.74 971.54,1612.68 979.8,1592.8" fill="none" stroke="#f4a6c9" stroke-width="1.1" stroke-linejoin="round" />
<polyline points="835.05,1835.8 860.7,1835.8 875.7,1831.73 886.34,1833.52 894.6,1822.7 920.25,1791.99 945.9,1708.5 960.9,1646.62 971.54,1603.13 979.8,1592.8" fill="none" stroke="#f4a6c9" stroke-width="1.1" stroke-linejoin="round" />
<polyline points="749.85,1830.7 775.5,1825.59 790.5,1816.85 801.14,1812.47 809.4,1805.42 835.05,1757.55 860.7,1701.42 875.7,1672.02 886.34,1660.11 894.6,1651.36 920.25,1636.54 945.9,1604.71 960.9,1597.17 971.54,1592.8 979.8,1592.8" fill="none" stroke="#231f20" stroke-width="2.4" stroke-linejoin="round" />
<line x1="749.85" y1="1829.48" x2="749.85" y2="1831.91" stroke="#231f20" stroke-width="2" />
<line x1="775.5" y1="1823.16" x2="775.5" y2="1828.02" stroke="#231f20" stroke-width="2" />
<line x1="790.5" y1="1814.42" x2="790.5" y2="1819.28" stroke="#231f20" stroke-width="2" />
<line x1="801.14" y1="1808.83" x2="801.14" y2="1816.12" stroke="#231f20" stroke-width="2" />
<line x1="809.4" y1="1801.78" x2="809.4" y2="1809.07" stroke="#231f20" stroke-width="2" />
<line x1="835.05" y1="1749.05" x2="835.05" y2="1766.06" stroke="#231f20" stroke-width="2" />
<line x1="860.7" y1="1691.7" x2="860.7" y2="1711.14" stroke="#231f20" stroke-width="2" />
<line x1="875.7" y1="1662.3" x2="875.7" y2="1681.74" stroke="#231f20" stroke-width="2" />
<line x1="886.34" y1="1651.61" x2="886.34" y2="1668.62" stroke="#231f20" stroke-width="2" />
<line x1="894.6" y1="1644.07" x2="894.6" y2="1658.65" stroke="#231f20" stroke-width="2" />
<line x1="920.25" y1="1628.03" x2="920.25" y2="1645.05" stroke="#231f20" stroke-width="2" />
<line x1="945.9" y1="1599.85" x2="945.9" y2="1609.57" stroke="#231f20" stroke-width="2" />
<line x1="960.9" y1="1594.74" x2="960.9" y2="1599.6" stroke="#231f20" stroke-width="2" />
<line x1="971.54" y1="1590.37" x2="971.54" y2="1595.23" stroke="#231f20" stroke-width="2" />
<circle cx="749.85" cy="1830.7" r="8.4" stroke="#231f20" stroke-width="2" fill="none"/>
<circle cx="775.5" cy="1825.59" r="8.4" stroke="#231f20" stroke-width="2" fill="none"/>
<circle cx="790.5" cy="1816.85" r="8.4" stroke="#231f20" stroke-width="2" fill="none"/>
<circle cx="801.14" cy="1812.47" r="8.4" stroke="#231f20" stroke-width="2" fill="none"/>
<circle cx="809.4" cy="1805.42" r="8.4" stroke="#231f20" stroke-width="2" fill="none"/>
<circle cx="835.05" cy="1757.55" r="8.4" stroke="#231f20" stroke-width="2" fill="none"/>
<circle cx="860.7" cy="1701.42" r="8.4" stroke="#231f20" stroke-width="2" fill="none"/>
<circle cx="875.7" cy="1672.02" r="8.4" stroke="#231f20" stroke-width="2" fill="none"/>
<circle cx="886.34" cy="1660.11" r="8.4" stroke="#231f20" stroke-width="2" fill="none"/>
<circle cx="894.6" cy="1651.36" r="8.4" stroke="#231f20" stroke-width="2" fill="none"/>
<circle cx="920.25" cy="1636.54" r="8.4" stroke="#231f20" stroke-width="2" fill="none"/>
<circle cx="945.9" cy="1604.71" r="8.4" stroke="#231f20" stroke-width="2" fill="none"/>
<circle cx="960.9" cy="1597.17" r="8.4" stroke="#231f20" stroke-width="2" fill="none"/>
<circle cx="971.54" cy="1592.8" r="8.4" stroke="#231f20" stroke-width="2" fill="none"/>
<circle cx="979.8" cy="1592.8" r="8.4" stroke="#231f20" stroke-width="2" fill="none"/>
<polyline points="835.05,1835.8 860.7,1835.8 875.7,1834.83 886.34,1834.83 894.6,1830.7 920.25,1808.34 945.9,1732.52 960.9,1661.81 971.54,1620.5 979.8,1592.8" fill="none" stroke="#ea058a" stroke-width="2.4" stroke-linejoin="round" />
<line x1="875.7" y1="1833.86" x2="875.7" y2="1835.8" stroke="#ea058a" stroke-width="2" />
<line x1="886.34" y1="1833.37" x2="886.34" y2="1836.29" stroke="#ea058a" stroke-width="2" />
<line x1="894.6" y1="1828.27" x2="894.6" y2="1833.13" stroke="#ea058a" stroke-width="2" />
<line x1="920.25" y1="1801.05" x2="920.25" y2="1815.63" stroke="#ea058a" stroke-width="2" />
<line x1="945.9" y1="1717.94" x2="945.9" y2="1747.11" stroke="#ea058a" stroke-width="2" />
<line x1="960.9" y1="1652.09" x2="960.9" y2="1671.53" stroke="#ea058a" stroke-width="2" />
<line x1="971.54" y1="1615.64" x2="971.54" y2="1625.36" stroke="#ea058a" stroke-width="2" />
<circle cx="835.05" cy="1835.8" r="8.4" stroke="#ea058a" stroke-width="2" fill="none"/>
<circle cx="860.7" cy="1835.8" r="8.4" stroke="#ea058a" stroke-width="2" fill="none"/>
<circle cx="875.7" cy="1834.83" r="8.4" stroke="#ea058a" stroke-width="2" fill="none"/>
<circle cx="886.34" cy="1834.83" r="8.4" stroke="#ea058a" stroke-width="2" fill="none"/>
<circle cx="894.6" cy="1830.7" r="8.4" stroke="#ea058a" stroke-width="2" fill="none"/>
<circle cx="920.25" cy="1808.34" r="8.4" stroke="#ea058a" stroke-width="2" fill="none"/>
<circle cx="945.9" cy="1732.52" r="8.4" stroke="#ea058a" stroke-width="2" fill="none"/>
<circle cx="960.9" cy="1661.81" r="8.4" stroke="#ea058a" stroke-width="2" fill="none"/>
<circle cx="971.54" cy="1620.5" r="8.4" stroke="#ea058a" stroke-width="2" fill="none"/>
<circle cx="979.8" cy="1592.8" r="8.4" stroke="#ea058a" stroke-width="2" fill="none"/>
</svg></body></html>
